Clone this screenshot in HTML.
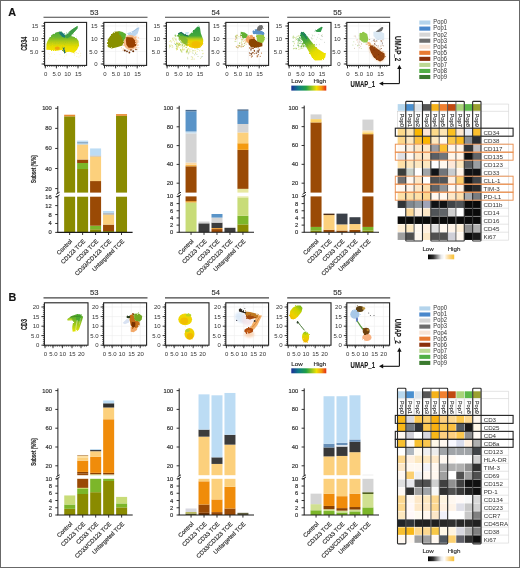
<!DOCTYPE html>
<html><head><meta charset="utf-8"><style>
html,body{margin:0;padding:0;background:#fff;width:520px;height:568px;overflow:hidden}
svg{display:block;font-family:"Liberation Sans", sans-serif;will-change:transform}
text{stroke:#3a3a3a;stroke-width:0.18px}
.ns{stroke:none}
</style></head><body>
<svg width="520" height="568" viewBox="0 0 520 568">
<defs><filter id="soft" x="-20%" y="-20%" width="140%" height="140%"><feGaussianBlur stdDeviation="0.35"/></filter><filter id="rough" x="-10%" y="-10%" width="120%" height="120%"><feTurbulence type="fractalNoise" baseFrequency="0.9" numOctaves="2" seed="4" result="n"/><feDisplacementMap in="SourceGraphic" in2="n" scale="2.2" xChannelSelector="R" yChannelSelector="G" result="d"/><feGaussianBlur in="d" stdDeviation="0.25"/></filter><filter id="soft2" x="-30%" y="-30%" width="160%" height="160%"><feGaussianBlur stdDeviation="0.9"/></filter><linearGradient id="gA1" gradientUnits="userSpaceOnUse" x1="0" y1="31" x2="0" y2="51"><stop offset="0" stop-color="#44a63c"/><stop offset="0.3" stop-color="#6cb630"/><stop offset="0.55" stop-color="#b4cc14"/><stop offset="0.78" stop-color="#e6dc00"/><stop offset="1" stop-color="#f2e200"/></linearGradient><linearGradient id="gA3" gradientUnits="userSpaceOnUse" x1="0" y1="27" x2="0" y2="48"><stop offset="0" stop-color="#2e9a44"/><stop offset="0.42" stop-color="#44a83a"/><stop offset="0.55" stop-color="#a8c820"/><stop offset="0.66" stop-color="#e8d400"/><stop offset="1" stop-color="#f2c400"/></linearGradient><linearGradient id="gA5" gradientUnits="userSpaceOnUse" x1="303" y1="33" x2="318" y2="58"><stop offset="0" stop-color="#249448"/><stop offset="0.3" stop-color="#48a838"/><stop offset="0.55" stop-color="#a8cc20"/><stop offset="0.75" stop-color="#e4dc00"/><stop offset="1" stop-color="#f0e200"/></linearGradient><linearGradient id="gB1" gradientUnits="userSpaceOnUse" x1="0" y1="314" x2="0" y2="332"><stop offset="0" stop-color="#48a430"/><stop offset="0.45" stop-color="#8cc020"/><stop offset="1" stop-color="#e8e600"/></linearGradient><linearGradient id="gB5" gradientUnits="userSpaceOnUse" x1="302" y1="305" x2="290" y2="320"><stop offset="0" stop-color="#5aae24"/><stop offset="0.35" stop-color="#c8d400"/><stop offset="0.7" stop-color="#f0d000"/><stop offset="1" stop-color="#f0b800"/></linearGradient><linearGradient id="gB5b" gradientUnits="userSpaceOnUse" x1="0" y1="331.5" x2="0" y2="342.5"><stop offset="0" stop-color="#78bc20"/><stop offset="0.3" stop-color="#d8d800"/><stop offset="0.7" stop-color="#f0c800"/><stop offset="1" stop-color="#f0b000"/></linearGradient><linearGradient id="rainbow" x1="0" y1="0" x2="1" y2="0"><stop offset="0" stop-color="#1a2f96"/><stop offset="0.2" stop-color="#0f7a88"/><stop offset="0.42" stop-color="#1ea046"/><stop offset="0.6" stop-color="#9cc81e"/><stop offset="0.72" stop-color="#f0e000"/><stop offset="0.86" stop-color="#f59a10"/><stop offset="1" stop-color="#e02a14"/></linearGradient><linearGradient id="lowhigh" x1="0" y1="0" x2="1" y2="0"><stop offset="0" stop-color="#000000"/><stop offset="0.2" stop-color="#303030"/><stop offset="0.5" stop-color="#e8e8e8"/><stop offset="0.62" stop-color="#ffffff"/><stop offset="0.8" stop-color="#fcd890"/><stop offset="1" stop-color="#f8c030"/></linearGradient></defs>
<rect width="520" height="568" fill="#fff"/>
<rect x="0.5" y="0.5" width="519" height="567" fill="none" stroke="#686868" stroke-width="1"/>
<text x="8.3" y="15.6" font-size="10.8" text-anchor="start" fill="#111" font-weight="bold" >A</text>
<text x="8.6" y="301.2" font-size="10.8" text-anchor="start" fill="#111" font-weight="bold" >B</text>
<line x1="43.5" y1="17.2" x2="147.5" y2="17.2" stroke="#444" stroke-width="1.1"/>
<text x="94.2" y="14.6" font-size="8" text-anchor="middle" fill="#333" font-weight="normal" textLength="8.5" lengthAdjust="spacingAndGlyphs" >53</text>
<line x1="165" y1="17.2" x2="269" y2="17.2" stroke="#444" stroke-width="1.1"/>
<text x="215.7" y="14.6" font-size="8" text-anchor="middle" fill="#333" font-weight="normal" textLength="8.5" lengthAdjust="spacingAndGlyphs" >54</text>
<line x1="287.2" y1="17.2" x2="390.2" y2="17.2" stroke="#444" stroke-width="1.1"/>
<text x="337.4" y="14.6" font-size="8" text-anchor="middle" fill="#333" font-weight="normal" textLength="8.5" lengthAdjust="spacingAndGlyphs" >55</text>
<line x1="43.5" y1="297.9" x2="147.5" y2="297.9" stroke="#444" stroke-width="1.1"/>
<text x="94.2" y="295.3" font-size="8" text-anchor="middle" fill="#333" font-weight="normal" textLength="8.5" lengthAdjust="spacingAndGlyphs" >53</text>
<line x1="165" y1="297.9" x2="269" y2="297.9" stroke="#444" stroke-width="1.1"/>
<text x="215.7" y="295.3" font-size="8" text-anchor="middle" fill="#333" font-weight="normal" textLength="8.5" lengthAdjust="spacingAndGlyphs" >54</text>
<line x1="287.2" y1="297.9" x2="390.2" y2="297.9" stroke="#444" stroke-width="1.1"/>
<text x="337.4" y="295.3" font-size="8" text-anchor="middle" fill="#333" font-weight="normal" textLength="8.5" lengthAdjust="spacingAndGlyphs" >55</text>
<rect x="44.6" y="22.4" width="42" height="43" fill="none" stroke="#222" stroke-width="1.1"/>
<line x1="43.1" y1="64" x2="44.6" y2="64" stroke="#222" stroke-width="0.7"/>
<line x1="43.1" y1="61.46" x2="44.6" y2="61.46" stroke="#222" stroke-width="0.7"/>
<line x1="43.1" y1="58.92" x2="44.6" y2="58.92" stroke="#222" stroke-width="0.7"/>
<line x1="43.1" y1="56.38" x2="44.6" y2="56.38" stroke="#222" stroke-width="0.7"/>
<line x1="43.1" y1="53.84" x2="44.6" y2="53.84" stroke="#222" stroke-width="0.7"/>
<line x1="43.1" y1="51.3" x2="44.6" y2="51.3" stroke="#222" stroke-width="0.7"/>
<line x1="43.1" y1="48.76" x2="44.6" y2="48.76" stroke="#222" stroke-width="0.7"/>
<line x1="43.1" y1="46.22" x2="44.6" y2="46.22" stroke="#222" stroke-width="0.7"/>
<line x1="43.1" y1="43.68" x2="44.6" y2="43.68" stroke="#222" stroke-width="0.7"/>
<line x1="43.1" y1="41.14" x2="44.6" y2="41.14" stroke="#222" stroke-width="0.7"/>
<line x1="43.1" y1="38.6" x2="44.6" y2="38.6" stroke="#222" stroke-width="0.7"/>
<line x1="43.1" y1="36.06" x2="44.6" y2="36.06" stroke="#222" stroke-width="0.7"/>
<line x1="43.1" y1="33.52" x2="44.6" y2="33.52" stroke="#222" stroke-width="0.7"/>
<line x1="43.1" y1="30.98" x2="44.6" y2="30.98" stroke="#222" stroke-width="0.7"/>
<line x1="43.1" y1="28.44" x2="44.6" y2="28.44" stroke="#222" stroke-width="0.7"/>
<line x1="43.1" y1="25.9" x2="44.6" y2="25.9" stroke="#222" stroke-width="0.7"/>
<line x1="43.1" y1="23.36" x2="44.6" y2="23.36" stroke="#222" stroke-width="0.7"/>
<line x1="45.3" y1="65.4" x2="45.3" y2="66.9" stroke="#222" stroke-width="0.7"/>
<line x1="47.48" y1="65.4" x2="47.48" y2="66.9" stroke="#222" stroke-width="0.7"/>
<line x1="49.66" y1="65.4" x2="49.66" y2="66.9" stroke="#222" stroke-width="0.7"/>
<line x1="51.84" y1="65.4" x2="51.84" y2="66.9" stroke="#222" stroke-width="0.7"/>
<line x1="54.02" y1="65.4" x2="54.02" y2="66.9" stroke="#222" stroke-width="0.7"/>
<line x1="56.2" y1="65.4" x2="56.2" y2="66.9" stroke="#222" stroke-width="0.7"/>
<line x1="58.38" y1="65.4" x2="58.38" y2="66.9" stroke="#222" stroke-width="0.7"/>
<line x1="60.56" y1="65.4" x2="60.56" y2="66.9" stroke="#222" stroke-width="0.7"/>
<line x1="62.74" y1="65.4" x2="62.74" y2="66.9" stroke="#222" stroke-width="0.7"/>
<line x1="64.92" y1="65.4" x2="64.92" y2="66.9" stroke="#222" stroke-width="0.7"/>
<line x1="67.1" y1="65.4" x2="67.1" y2="66.9" stroke="#222" stroke-width="0.7"/>
<line x1="69.28" y1="65.4" x2="69.28" y2="66.9" stroke="#222" stroke-width="0.7"/>
<line x1="71.46" y1="65.4" x2="71.46" y2="66.9" stroke="#222" stroke-width="0.7"/>
<line x1="73.64" y1="65.4" x2="73.64" y2="66.9" stroke="#222" stroke-width="0.7"/>
<line x1="75.82" y1="65.4" x2="75.82" y2="66.9" stroke="#222" stroke-width="0.7"/>
<line x1="78" y1="65.4" x2="78" y2="66.9" stroke="#222" stroke-width="0.7"/>
<line x1="80.18" y1="65.4" x2="80.18" y2="66.9" stroke="#222" stroke-width="0.7"/>
<line x1="82.36" y1="65.4" x2="82.36" y2="66.9" stroke="#222" stroke-width="0.7"/>
<line x1="84.54" y1="65.4" x2="84.54" y2="66.9" stroke="#222" stroke-width="0.7"/>
<line x1="41.6" y1="26" x2="44.6" y2="26" stroke="#222" stroke-width="0.9"/>
<text x="38.4" y="28.1" font-size="6" text-anchor="end" fill="#333" font-weight="normal" class="ns">15</text>
<line x1="41.6" y1="38.6" x2="44.6" y2="38.6" stroke="#222" stroke-width="0.9"/>
<text x="38.4" y="40.7" font-size="6" text-anchor="end" fill="#333" font-weight="normal" class="ns">10</text>
<line x1="41.6" y1="51.4" x2="44.6" y2="51.4" stroke="#222" stroke-width="0.9"/>
<text x="38.4" y="53.5" font-size="6" text-anchor="end" fill="#333" font-weight="normal" class="ns">5.0</text>
<line x1="41.6" y1="64" x2="44.6" y2="64" stroke="#222" stroke-width="0.9"/>
<line x1="45.3" y1="65.4" x2="45.3" y2="68.4" stroke="#222" stroke-width="0.9"/>
<text x="45.6" y="76.2" font-size="6" text-anchor="middle" fill="#333" font-weight="normal" class="ns">0</text>
<line x1="56.4" y1="65.4" x2="56.4" y2="68.4" stroke="#222" stroke-width="0.9"/>
<text x="56.7" y="76.2" font-size="6" text-anchor="middle" fill="#333" font-weight="normal" class="ns">5.0</text>
<line x1="67.2" y1="65.4" x2="67.2" y2="68.4" stroke="#222" stroke-width="0.9"/>
<text x="67.5" y="76.2" font-size="6" text-anchor="middle" fill="#333" font-weight="normal" class="ns">10</text>
<line x1="78" y1="65.4" x2="78" y2="68.4" stroke="#222" stroke-width="0.9"/>
<text x="78.3" y="76.2" font-size="6" text-anchor="middle" fill="#333" font-weight="normal" class="ns">15</text>
<line x1="103.8" y1="26" x2="146.6" y2="26" stroke="#ececec" stroke-width="0.6"/>
<line x1="103.8" y1="38.6" x2="146.6" y2="38.6" stroke="#ececec" stroke-width="0.6"/>
<line x1="103.8" y1="51.4" x2="146.6" y2="51.4" stroke="#ececec" stroke-width="0.6"/>
<line x1="103.8" y1="64" x2="146.6" y2="64" stroke="#ececec" stroke-width="0.6"/>
<line x1="104.5" y1="22.4" x2="104.5" y2="65.4" stroke="#ececec" stroke-width="0.6"/>
<line x1="115.6" y1="22.4" x2="115.6" y2="65.4" stroke="#ececec" stroke-width="0.6"/>
<line x1="126.4" y1="22.4" x2="126.4" y2="65.4" stroke="#ececec" stroke-width="0.6"/>
<line x1="137.2" y1="22.4" x2="137.2" y2="65.4" stroke="#ececec" stroke-width="0.6"/>
<rect x="103.8" y="22.4" width="42.8" height="43" fill="none" stroke="#222" stroke-width="1.1"/>
<line x1="102.3" y1="64" x2="103.8" y2="64" stroke="#222" stroke-width="0.7"/>
<line x1="102.3" y1="61.46" x2="103.8" y2="61.46" stroke="#222" stroke-width="0.7"/>
<line x1="102.3" y1="58.92" x2="103.8" y2="58.92" stroke="#222" stroke-width="0.7"/>
<line x1="102.3" y1="56.38" x2="103.8" y2="56.38" stroke="#222" stroke-width="0.7"/>
<line x1="102.3" y1="53.84" x2="103.8" y2="53.84" stroke="#222" stroke-width="0.7"/>
<line x1="102.3" y1="51.3" x2="103.8" y2="51.3" stroke="#222" stroke-width="0.7"/>
<line x1="102.3" y1="48.76" x2="103.8" y2="48.76" stroke="#222" stroke-width="0.7"/>
<line x1="102.3" y1="46.22" x2="103.8" y2="46.22" stroke="#222" stroke-width="0.7"/>
<line x1="102.3" y1="43.68" x2="103.8" y2="43.68" stroke="#222" stroke-width="0.7"/>
<line x1="102.3" y1="41.14" x2="103.8" y2="41.14" stroke="#222" stroke-width="0.7"/>
<line x1="102.3" y1="38.6" x2="103.8" y2="38.6" stroke="#222" stroke-width="0.7"/>
<line x1="102.3" y1="36.06" x2="103.8" y2="36.06" stroke="#222" stroke-width="0.7"/>
<line x1="102.3" y1="33.52" x2="103.8" y2="33.52" stroke="#222" stroke-width="0.7"/>
<line x1="102.3" y1="30.98" x2="103.8" y2="30.98" stroke="#222" stroke-width="0.7"/>
<line x1="102.3" y1="28.44" x2="103.8" y2="28.44" stroke="#222" stroke-width="0.7"/>
<line x1="102.3" y1="25.9" x2="103.8" y2="25.9" stroke="#222" stroke-width="0.7"/>
<line x1="102.3" y1="23.36" x2="103.8" y2="23.36" stroke="#222" stroke-width="0.7"/>
<line x1="104.5" y1="65.4" x2="104.5" y2="66.9" stroke="#222" stroke-width="0.7"/>
<line x1="106.68" y1="65.4" x2="106.68" y2="66.9" stroke="#222" stroke-width="0.7"/>
<line x1="108.86" y1="65.4" x2="108.86" y2="66.9" stroke="#222" stroke-width="0.7"/>
<line x1="111.04" y1="65.4" x2="111.04" y2="66.9" stroke="#222" stroke-width="0.7"/>
<line x1="113.22" y1="65.4" x2="113.22" y2="66.9" stroke="#222" stroke-width="0.7"/>
<line x1="115.4" y1="65.4" x2="115.4" y2="66.9" stroke="#222" stroke-width="0.7"/>
<line x1="117.58" y1="65.4" x2="117.58" y2="66.9" stroke="#222" stroke-width="0.7"/>
<line x1="119.76" y1="65.4" x2="119.76" y2="66.9" stroke="#222" stroke-width="0.7"/>
<line x1="121.94" y1="65.4" x2="121.94" y2="66.9" stroke="#222" stroke-width="0.7"/>
<line x1="124.12" y1="65.4" x2="124.12" y2="66.9" stroke="#222" stroke-width="0.7"/>
<line x1="126.3" y1="65.4" x2="126.3" y2="66.9" stroke="#222" stroke-width="0.7"/>
<line x1="128.48" y1="65.4" x2="128.48" y2="66.9" stroke="#222" stroke-width="0.7"/>
<line x1="130.66" y1="65.4" x2="130.66" y2="66.9" stroke="#222" stroke-width="0.7"/>
<line x1="132.84" y1="65.4" x2="132.84" y2="66.9" stroke="#222" stroke-width="0.7"/>
<line x1="135.02" y1="65.4" x2="135.02" y2="66.9" stroke="#222" stroke-width="0.7"/>
<line x1="137.2" y1="65.4" x2="137.2" y2="66.9" stroke="#222" stroke-width="0.7"/>
<line x1="139.38" y1="65.4" x2="139.38" y2="66.9" stroke="#222" stroke-width="0.7"/>
<line x1="141.56" y1="65.4" x2="141.56" y2="66.9" stroke="#222" stroke-width="0.7"/>
<line x1="143.74" y1="65.4" x2="143.74" y2="66.9" stroke="#222" stroke-width="0.7"/>
<line x1="100.8" y1="26" x2="103.8" y2="26" stroke="#222" stroke-width="0.9"/>
<text x="97.6" y="28.1" font-size="6" text-anchor="end" fill="#333" font-weight="normal" class="ns">15</text>
<line x1="100.8" y1="38.6" x2="103.8" y2="38.6" stroke="#222" stroke-width="0.9"/>
<text x="97.6" y="40.7" font-size="6" text-anchor="end" fill="#333" font-weight="normal" class="ns">10</text>
<line x1="100.8" y1="51.4" x2="103.8" y2="51.4" stroke="#222" stroke-width="0.9"/>
<text x="97.6" y="53.5" font-size="6" text-anchor="end" fill="#333" font-weight="normal" class="ns">5.0</text>
<line x1="100.8" y1="64" x2="103.8" y2="64" stroke="#222" stroke-width="0.9"/>
<text x="97.6" y="66.1" font-size="6" text-anchor="end" fill="#333" font-weight="normal" class="ns">0</text>
<line x1="104.5" y1="65.4" x2="104.5" y2="68.4" stroke="#222" stroke-width="0.9"/>
<text x="104.8" y="76.2" font-size="6" text-anchor="middle" fill="#333" font-weight="normal" class="ns">0</text>
<line x1="115.6" y1="65.4" x2="115.6" y2="68.4" stroke="#222" stroke-width="0.9"/>
<text x="115.9" y="76.2" font-size="6" text-anchor="middle" fill="#333" font-weight="normal" class="ns">5.0</text>
<line x1="126.4" y1="65.4" x2="126.4" y2="68.4" stroke="#222" stroke-width="0.9"/>
<text x="126.7" y="76.2" font-size="6" text-anchor="middle" fill="#333" font-weight="normal" class="ns">10</text>
<line x1="137.2" y1="65.4" x2="137.2" y2="68.4" stroke="#222" stroke-width="0.9"/>
<text x="137.5" y="76.2" font-size="6" text-anchor="middle" fill="#333" font-weight="normal" class="ns">15</text>
<rect x="166.4" y="22.4" width="42.6" height="43" fill="none" stroke="#222" stroke-width="1.1"/>
<line x1="164.9" y1="64" x2="166.4" y2="64" stroke="#222" stroke-width="0.7"/>
<line x1="164.9" y1="61.46" x2="166.4" y2="61.46" stroke="#222" stroke-width="0.7"/>
<line x1="164.9" y1="58.92" x2="166.4" y2="58.92" stroke="#222" stroke-width="0.7"/>
<line x1="164.9" y1="56.38" x2="166.4" y2="56.38" stroke="#222" stroke-width="0.7"/>
<line x1="164.9" y1="53.84" x2="166.4" y2="53.84" stroke="#222" stroke-width="0.7"/>
<line x1="164.9" y1="51.3" x2="166.4" y2="51.3" stroke="#222" stroke-width="0.7"/>
<line x1="164.9" y1="48.76" x2="166.4" y2="48.76" stroke="#222" stroke-width="0.7"/>
<line x1="164.9" y1="46.22" x2="166.4" y2="46.22" stroke="#222" stroke-width="0.7"/>
<line x1="164.9" y1="43.68" x2="166.4" y2="43.68" stroke="#222" stroke-width="0.7"/>
<line x1="164.9" y1="41.14" x2="166.4" y2="41.14" stroke="#222" stroke-width="0.7"/>
<line x1="164.9" y1="38.6" x2="166.4" y2="38.6" stroke="#222" stroke-width="0.7"/>
<line x1="164.9" y1="36.06" x2="166.4" y2="36.06" stroke="#222" stroke-width="0.7"/>
<line x1="164.9" y1="33.52" x2="166.4" y2="33.52" stroke="#222" stroke-width="0.7"/>
<line x1="164.9" y1="30.98" x2="166.4" y2="30.98" stroke="#222" stroke-width="0.7"/>
<line x1="164.9" y1="28.44" x2="166.4" y2="28.44" stroke="#222" stroke-width="0.7"/>
<line x1="164.9" y1="25.9" x2="166.4" y2="25.9" stroke="#222" stroke-width="0.7"/>
<line x1="164.9" y1="23.36" x2="166.4" y2="23.36" stroke="#222" stroke-width="0.7"/>
<line x1="167.1" y1="65.4" x2="167.1" y2="66.9" stroke="#222" stroke-width="0.7"/>
<line x1="169.28" y1="65.4" x2="169.28" y2="66.9" stroke="#222" stroke-width="0.7"/>
<line x1="171.46" y1="65.4" x2="171.46" y2="66.9" stroke="#222" stroke-width="0.7"/>
<line x1="173.64" y1="65.4" x2="173.64" y2="66.9" stroke="#222" stroke-width="0.7"/>
<line x1="175.82" y1="65.4" x2="175.82" y2="66.9" stroke="#222" stroke-width="0.7"/>
<line x1="178" y1="65.4" x2="178" y2="66.9" stroke="#222" stroke-width="0.7"/>
<line x1="180.18" y1="65.4" x2="180.18" y2="66.9" stroke="#222" stroke-width="0.7"/>
<line x1="182.36" y1="65.4" x2="182.36" y2="66.9" stroke="#222" stroke-width="0.7"/>
<line x1="184.54" y1="65.4" x2="184.54" y2="66.9" stroke="#222" stroke-width="0.7"/>
<line x1="186.72" y1="65.4" x2="186.72" y2="66.9" stroke="#222" stroke-width="0.7"/>
<line x1="188.9" y1="65.4" x2="188.9" y2="66.9" stroke="#222" stroke-width="0.7"/>
<line x1="191.08" y1="65.4" x2="191.08" y2="66.9" stroke="#222" stroke-width="0.7"/>
<line x1="193.26" y1="65.4" x2="193.26" y2="66.9" stroke="#222" stroke-width="0.7"/>
<line x1="195.44" y1="65.4" x2="195.44" y2="66.9" stroke="#222" stroke-width="0.7"/>
<line x1="197.62" y1="65.4" x2="197.62" y2="66.9" stroke="#222" stroke-width="0.7"/>
<line x1="199.8" y1="65.4" x2="199.8" y2="66.9" stroke="#222" stroke-width="0.7"/>
<line x1="201.98" y1="65.4" x2="201.98" y2="66.9" stroke="#222" stroke-width="0.7"/>
<line x1="204.16" y1="65.4" x2="204.16" y2="66.9" stroke="#222" stroke-width="0.7"/>
<line x1="206.34" y1="65.4" x2="206.34" y2="66.9" stroke="#222" stroke-width="0.7"/>
<line x1="163.4" y1="26" x2="166.4" y2="26" stroke="#222" stroke-width="0.9"/>
<text x="160.2" y="28.1" font-size="6" text-anchor="end" fill="#333" font-weight="normal" class="ns">15</text>
<line x1="163.4" y1="38.6" x2="166.4" y2="38.6" stroke="#222" stroke-width="0.9"/>
<text x="160.2" y="40.7" font-size="6" text-anchor="end" fill="#333" font-weight="normal" class="ns">10</text>
<line x1="163.4" y1="51.4" x2="166.4" y2="51.4" stroke="#222" stroke-width="0.9"/>
<text x="160.2" y="53.5" font-size="6" text-anchor="end" fill="#333" font-weight="normal" class="ns">5.0</text>
<line x1="163.4" y1="64" x2="166.4" y2="64" stroke="#222" stroke-width="0.9"/>
<line x1="167.1" y1="65.4" x2="167.1" y2="68.4" stroke="#222" stroke-width="0.9"/>
<text x="167.4" y="76.2" font-size="6" text-anchor="middle" fill="#333" font-weight="normal" class="ns">0</text>
<line x1="178.2" y1="65.4" x2="178.2" y2="68.4" stroke="#222" stroke-width="0.9"/>
<text x="178.5" y="76.2" font-size="6" text-anchor="middle" fill="#333" font-weight="normal" class="ns">5.0</text>
<line x1="189" y1="65.4" x2="189" y2="68.4" stroke="#222" stroke-width="0.9"/>
<text x="189.3" y="76.2" font-size="6" text-anchor="middle" fill="#333" font-weight="normal" class="ns">10</text>
<line x1="199.8" y1="65.4" x2="199.8" y2="68.4" stroke="#222" stroke-width="0.9"/>
<text x="200.1" y="76.2" font-size="6" text-anchor="middle" fill="#333" font-weight="normal" class="ns">15</text>
<line x1="225.8" y1="26" x2="268.6" y2="26" stroke="#ececec" stroke-width="0.6"/>
<line x1="225.8" y1="38.6" x2="268.6" y2="38.6" stroke="#ececec" stroke-width="0.6"/>
<line x1="225.8" y1="51.4" x2="268.6" y2="51.4" stroke="#ececec" stroke-width="0.6"/>
<line x1="225.8" y1="64" x2="268.6" y2="64" stroke="#ececec" stroke-width="0.6"/>
<line x1="226.5" y1="22.4" x2="226.5" y2="65.4" stroke="#ececec" stroke-width="0.6"/>
<line x1="237.6" y1="22.4" x2="237.6" y2="65.4" stroke="#ececec" stroke-width="0.6"/>
<line x1="248.4" y1="22.4" x2="248.4" y2="65.4" stroke="#ececec" stroke-width="0.6"/>
<line x1="259.2" y1="22.4" x2="259.2" y2="65.4" stroke="#ececec" stroke-width="0.6"/>
<rect x="225.8" y="22.4" width="42.8" height="43" fill="none" stroke="#222" stroke-width="1.1"/>
<line x1="224.3" y1="64" x2="225.8" y2="64" stroke="#222" stroke-width="0.7"/>
<line x1="224.3" y1="61.46" x2="225.8" y2="61.46" stroke="#222" stroke-width="0.7"/>
<line x1="224.3" y1="58.92" x2="225.8" y2="58.92" stroke="#222" stroke-width="0.7"/>
<line x1="224.3" y1="56.38" x2="225.8" y2="56.38" stroke="#222" stroke-width="0.7"/>
<line x1="224.3" y1="53.84" x2="225.8" y2="53.84" stroke="#222" stroke-width="0.7"/>
<line x1="224.3" y1="51.3" x2="225.8" y2="51.3" stroke="#222" stroke-width="0.7"/>
<line x1="224.3" y1="48.76" x2="225.8" y2="48.76" stroke="#222" stroke-width="0.7"/>
<line x1="224.3" y1="46.22" x2="225.8" y2="46.22" stroke="#222" stroke-width="0.7"/>
<line x1="224.3" y1="43.68" x2="225.8" y2="43.68" stroke="#222" stroke-width="0.7"/>
<line x1="224.3" y1="41.14" x2="225.8" y2="41.14" stroke="#222" stroke-width="0.7"/>
<line x1="224.3" y1="38.6" x2="225.8" y2="38.6" stroke="#222" stroke-width="0.7"/>
<line x1="224.3" y1="36.06" x2="225.8" y2="36.06" stroke="#222" stroke-width="0.7"/>
<line x1="224.3" y1="33.52" x2="225.8" y2="33.52" stroke="#222" stroke-width="0.7"/>
<line x1="224.3" y1="30.98" x2="225.8" y2="30.98" stroke="#222" stroke-width="0.7"/>
<line x1="224.3" y1="28.44" x2="225.8" y2="28.44" stroke="#222" stroke-width="0.7"/>
<line x1="224.3" y1="25.9" x2="225.8" y2="25.9" stroke="#222" stroke-width="0.7"/>
<line x1="224.3" y1="23.36" x2="225.8" y2="23.36" stroke="#222" stroke-width="0.7"/>
<line x1="226.5" y1="65.4" x2="226.5" y2="66.9" stroke="#222" stroke-width="0.7"/>
<line x1="228.68" y1="65.4" x2="228.68" y2="66.9" stroke="#222" stroke-width="0.7"/>
<line x1="230.86" y1="65.4" x2="230.86" y2="66.9" stroke="#222" stroke-width="0.7"/>
<line x1="233.04" y1="65.4" x2="233.04" y2="66.9" stroke="#222" stroke-width="0.7"/>
<line x1="235.22" y1="65.4" x2="235.22" y2="66.9" stroke="#222" stroke-width="0.7"/>
<line x1="237.4" y1="65.4" x2="237.4" y2="66.9" stroke="#222" stroke-width="0.7"/>
<line x1="239.58" y1="65.4" x2="239.58" y2="66.9" stroke="#222" stroke-width="0.7"/>
<line x1="241.76" y1="65.4" x2="241.76" y2="66.9" stroke="#222" stroke-width="0.7"/>
<line x1="243.94" y1="65.4" x2="243.94" y2="66.9" stroke="#222" stroke-width="0.7"/>
<line x1="246.12" y1="65.4" x2="246.12" y2="66.9" stroke="#222" stroke-width="0.7"/>
<line x1="248.3" y1="65.4" x2="248.3" y2="66.9" stroke="#222" stroke-width="0.7"/>
<line x1="250.48" y1="65.4" x2="250.48" y2="66.9" stroke="#222" stroke-width="0.7"/>
<line x1="252.66" y1="65.4" x2="252.66" y2="66.9" stroke="#222" stroke-width="0.7"/>
<line x1="254.84" y1="65.4" x2="254.84" y2="66.9" stroke="#222" stroke-width="0.7"/>
<line x1="257.02" y1="65.4" x2="257.02" y2="66.9" stroke="#222" stroke-width="0.7"/>
<line x1="259.2" y1="65.4" x2="259.2" y2="66.9" stroke="#222" stroke-width="0.7"/>
<line x1="261.38" y1="65.4" x2="261.38" y2="66.9" stroke="#222" stroke-width="0.7"/>
<line x1="263.56" y1="65.4" x2="263.56" y2="66.9" stroke="#222" stroke-width="0.7"/>
<line x1="265.74" y1="65.4" x2="265.74" y2="66.9" stroke="#222" stroke-width="0.7"/>
<line x1="222.8" y1="26" x2="225.8" y2="26" stroke="#222" stroke-width="0.9"/>
<text x="219.6" y="28.1" font-size="6" text-anchor="end" fill="#333" font-weight="normal" class="ns">15</text>
<line x1="222.8" y1="38.6" x2="225.8" y2="38.6" stroke="#222" stroke-width="0.9"/>
<text x="219.6" y="40.7" font-size="6" text-anchor="end" fill="#333" font-weight="normal" class="ns">10</text>
<line x1="222.8" y1="51.4" x2="225.8" y2="51.4" stroke="#222" stroke-width="0.9"/>
<text x="219.6" y="53.5" font-size="6" text-anchor="end" fill="#333" font-weight="normal" class="ns">5.0</text>
<line x1="222.8" y1="64" x2="225.8" y2="64" stroke="#222" stroke-width="0.9"/>
<text x="219.6" y="66.1" font-size="6" text-anchor="end" fill="#333" font-weight="normal" class="ns">0</text>
<line x1="226.5" y1="65.4" x2="226.5" y2="68.4" stroke="#222" stroke-width="0.9"/>
<text x="226.8" y="76.2" font-size="6" text-anchor="middle" fill="#333" font-weight="normal" class="ns">0</text>
<line x1="237.6" y1="65.4" x2="237.6" y2="68.4" stroke="#222" stroke-width="0.9"/>
<text x="237.9" y="76.2" font-size="6" text-anchor="middle" fill="#333" font-weight="normal" class="ns">5.0</text>
<line x1="248.4" y1="65.4" x2="248.4" y2="68.4" stroke="#222" stroke-width="0.9"/>
<text x="248.7" y="76.2" font-size="6" text-anchor="middle" fill="#333" font-weight="normal" class="ns">10</text>
<line x1="259.2" y1="65.4" x2="259.2" y2="68.4" stroke="#222" stroke-width="0.9"/>
<text x="259.5" y="76.2" font-size="6" text-anchor="middle" fill="#333" font-weight="normal" class="ns">15</text>
<rect x="288.4" y="22.4" width="42.6" height="43" fill="none" stroke="#222" stroke-width="1.1"/>
<line x1="286.9" y1="64" x2="288.4" y2="64" stroke="#222" stroke-width="0.7"/>
<line x1="286.9" y1="61.46" x2="288.4" y2="61.46" stroke="#222" stroke-width="0.7"/>
<line x1="286.9" y1="58.92" x2="288.4" y2="58.92" stroke="#222" stroke-width="0.7"/>
<line x1="286.9" y1="56.38" x2="288.4" y2="56.38" stroke="#222" stroke-width="0.7"/>
<line x1="286.9" y1="53.84" x2="288.4" y2="53.84" stroke="#222" stroke-width="0.7"/>
<line x1="286.9" y1="51.3" x2="288.4" y2="51.3" stroke="#222" stroke-width="0.7"/>
<line x1="286.9" y1="48.76" x2="288.4" y2="48.76" stroke="#222" stroke-width="0.7"/>
<line x1="286.9" y1="46.22" x2="288.4" y2="46.22" stroke="#222" stroke-width="0.7"/>
<line x1="286.9" y1="43.68" x2="288.4" y2="43.68" stroke="#222" stroke-width="0.7"/>
<line x1="286.9" y1="41.14" x2="288.4" y2="41.14" stroke="#222" stroke-width="0.7"/>
<line x1="286.9" y1="38.6" x2="288.4" y2="38.6" stroke="#222" stroke-width="0.7"/>
<line x1="286.9" y1="36.06" x2="288.4" y2="36.06" stroke="#222" stroke-width="0.7"/>
<line x1="286.9" y1="33.52" x2="288.4" y2="33.52" stroke="#222" stroke-width="0.7"/>
<line x1="286.9" y1="30.98" x2="288.4" y2="30.98" stroke="#222" stroke-width="0.7"/>
<line x1="286.9" y1="28.44" x2="288.4" y2="28.44" stroke="#222" stroke-width="0.7"/>
<line x1="286.9" y1="25.9" x2="288.4" y2="25.9" stroke="#222" stroke-width="0.7"/>
<line x1="286.9" y1="23.36" x2="288.4" y2="23.36" stroke="#222" stroke-width="0.7"/>
<line x1="289.1" y1="65.4" x2="289.1" y2="66.9" stroke="#222" stroke-width="0.7"/>
<line x1="291.28" y1="65.4" x2="291.28" y2="66.9" stroke="#222" stroke-width="0.7"/>
<line x1="293.46" y1="65.4" x2="293.46" y2="66.9" stroke="#222" stroke-width="0.7"/>
<line x1="295.64" y1="65.4" x2="295.64" y2="66.9" stroke="#222" stroke-width="0.7"/>
<line x1="297.82" y1="65.4" x2="297.82" y2="66.9" stroke="#222" stroke-width="0.7"/>
<line x1="300" y1="65.4" x2="300" y2="66.9" stroke="#222" stroke-width="0.7"/>
<line x1="302.18" y1="65.4" x2="302.18" y2="66.9" stroke="#222" stroke-width="0.7"/>
<line x1="304.36" y1="65.4" x2="304.36" y2="66.9" stroke="#222" stroke-width="0.7"/>
<line x1="306.54" y1="65.4" x2="306.54" y2="66.9" stroke="#222" stroke-width="0.7"/>
<line x1="308.72" y1="65.4" x2="308.72" y2="66.9" stroke="#222" stroke-width="0.7"/>
<line x1="310.9" y1="65.4" x2="310.9" y2="66.9" stroke="#222" stroke-width="0.7"/>
<line x1="313.08" y1="65.4" x2="313.08" y2="66.9" stroke="#222" stroke-width="0.7"/>
<line x1="315.26" y1="65.4" x2="315.26" y2="66.9" stroke="#222" stroke-width="0.7"/>
<line x1="317.44" y1="65.4" x2="317.44" y2="66.9" stroke="#222" stroke-width="0.7"/>
<line x1="319.62" y1="65.4" x2="319.62" y2="66.9" stroke="#222" stroke-width="0.7"/>
<line x1="321.8" y1="65.4" x2="321.8" y2="66.9" stroke="#222" stroke-width="0.7"/>
<line x1="323.98" y1="65.4" x2="323.98" y2="66.9" stroke="#222" stroke-width="0.7"/>
<line x1="326.16" y1="65.4" x2="326.16" y2="66.9" stroke="#222" stroke-width="0.7"/>
<line x1="328.34" y1="65.4" x2="328.34" y2="66.9" stroke="#222" stroke-width="0.7"/>
<line x1="285.4" y1="26" x2="288.4" y2="26" stroke="#222" stroke-width="0.9"/>
<text x="282.2" y="28.1" font-size="6" text-anchor="end" fill="#333" font-weight="normal" class="ns">15</text>
<line x1="285.4" y1="38.6" x2="288.4" y2="38.6" stroke="#222" stroke-width="0.9"/>
<text x="282.2" y="40.7" font-size="6" text-anchor="end" fill="#333" font-weight="normal" class="ns">10</text>
<line x1="285.4" y1="51.4" x2="288.4" y2="51.4" stroke="#222" stroke-width="0.9"/>
<text x="282.2" y="53.5" font-size="6" text-anchor="end" fill="#333" font-weight="normal" class="ns">5.0</text>
<line x1="285.4" y1="64" x2="288.4" y2="64" stroke="#222" stroke-width="0.9"/>
<line x1="289.1" y1="65.4" x2="289.1" y2="68.4" stroke="#222" stroke-width="0.9"/>
<text x="289.4" y="76.2" font-size="6" text-anchor="middle" fill="#333" font-weight="normal" class="ns">0</text>
<line x1="300.2" y1="65.4" x2="300.2" y2="68.4" stroke="#222" stroke-width="0.9"/>
<text x="300.5" y="76.2" font-size="6" text-anchor="middle" fill="#333" font-weight="normal" class="ns">5.0</text>
<line x1="311" y1="65.4" x2="311" y2="68.4" stroke="#222" stroke-width="0.9"/>
<text x="311.3" y="76.2" font-size="6" text-anchor="middle" fill="#333" font-weight="normal" class="ns">10</text>
<line x1="321.8" y1="65.4" x2="321.8" y2="68.4" stroke="#222" stroke-width="0.9"/>
<text x="322.1" y="76.2" font-size="6" text-anchor="middle" fill="#333" font-weight="normal" class="ns">15</text>
<line x1="346.8" y1="26" x2="389.6" y2="26" stroke="#ececec" stroke-width="0.6"/>
<line x1="346.8" y1="38.6" x2="389.6" y2="38.6" stroke="#ececec" stroke-width="0.6"/>
<line x1="346.8" y1="51.4" x2="389.6" y2="51.4" stroke="#ececec" stroke-width="0.6"/>
<line x1="346.8" y1="64" x2="389.6" y2="64" stroke="#ececec" stroke-width="0.6"/>
<line x1="347.5" y1="22.4" x2="347.5" y2="65.4" stroke="#ececec" stroke-width="0.6"/>
<line x1="358.6" y1="22.4" x2="358.6" y2="65.4" stroke="#ececec" stroke-width="0.6"/>
<line x1="369.4" y1="22.4" x2="369.4" y2="65.4" stroke="#ececec" stroke-width="0.6"/>
<line x1="380.2" y1="22.4" x2="380.2" y2="65.4" stroke="#ececec" stroke-width="0.6"/>
<rect x="346.8" y="22.4" width="42.8" height="43" fill="none" stroke="#222" stroke-width="1.1"/>
<line x1="345.3" y1="64" x2="346.8" y2="64" stroke="#222" stroke-width="0.7"/>
<line x1="345.3" y1="61.46" x2="346.8" y2="61.46" stroke="#222" stroke-width="0.7"/>
<line x1="345.3" y1="58.92" x2="346.8" y2="58.92" stroke="#222" stroke-width="0.7"/>
<line x1="345.3" y1="56.38" x2="346.8" y2="56.38" stroke="#222" stroke-width="0.7"/>
<line x1="345.3" y1="53.84" x2="346.8" y2="53.84" stroke="#222" stroke-width="0.7"/>
<line x1="345.3" y1="51.3" x2="346.8" y2="51.3" stroke="#222" stroke-width="0.7"/>
<line x1="345.3" y1="48.76" x2="346.8" y2="48.76" stroke="#222" stroke-width="0.7"/>
<line x1="345.3" y1="46.22" x2="346.8" y2="46.22" stroke="#222" stroke-width="0.7"/>
<line x1="345.3" y1="43.68" x2="346.8" y2="43.68" stroke="#222" stroke-width="0.7"/>
<line x1="345.3" y1="41.14" x2="346.8" y2="41.14" stroke="#222" stroke-width="0.7"/>
<line x1="345.3" y1="38.6" x2="346.8" y2="38.6" stroke="#222" stroke-width="0.7"/>
<line x1="345.3" y1="36.06" x2="346.8" y2="36.06" stroke="#222" stroke-width="0.7"/>
<line x1="345.3" y1="33.52" x2="346.8" y2="33.52" stroke="#222" stroke-width="0.7"/>
<line x1="345.3" y1="30.98" x2="346.8" y2="30.98" stroke="#222" stroke-width="0.7"/>
<line x1="345.3" y1="28.44" x2="346.8" y2="28.44" stroke="#222" stroke-width="0.7"/>
<line x1="345.3" y1="25.9" x2="346.8" y2="25.9" stroke="#222" stroke-width="0.7"/>
<line x1="345.3" y1="23.36" x2="346.8" y2="23.36" stroke="#222" stroke-width="0.7"/>
<line x1="347.5" y1="65.4" x2="347.5" y2="66.9" stroke="#222" stroke-width="0.7"/>
<line x1="349.68" y1="65.4" x2="349.68" y2="66.9" stroke="#222" stroke-width="0.7"/>
<line x1="351.86" y1="65.4" x2="351.86" y2="66.9" stroke="#222" stroke-width="0.7"/>
<line x1="354.04" y1="65.4" x2="354.04" y2="66.9" stroke="#222" stroke-width="0.7"/>
<line x1="356.22" y1="65.4" x2="356.22" y2="66.9" stroke="#222" stroke-width="0.7"/>
<line x1="358.4" y1="65.4" x2="358.4" y2="66.9" stroke="#222" stroke-width="0.7"/>
<line x1="360.58" y1="65.4" x2="360.58" y2="66.9" stroke="#222" stroke-width="0.7"/>
<line x1="362.76" y1="65.4" x2="362.76" y2="66.9" stroke="#222" stroke-width="0.7"/>
<line x1="364.94" y1="65.4" x2="364.94" y2="66.9" stroke="#222" stroke-width="0.7"/>
<line x1="367.12" y1="65.4" x2="367.12" y2="66.9" stroke="#222" stroke-width="0.7"/>
<line x1="369.3" y1="65.4" x2="369.3" y2="66.9" stroke="#222" stroke-width="0.7"/>
<line x1="371.48" y1="65.4" x2="371.48" y2="66.9" stroke="#222" stroke-width="0.7"/>
<line x1="373.66" y1="65.4" x2="373.66" y2="66.9" stroke="#222" stroke-width="0.7"/>
<line x1="375.84" y1="65.4" x2="375.84" y2="66.9" stroke="#222" stroke-width="0.7"/>
<line x1="378.02" y1="65.4" x2="378.02" y2="66.9" stroke="#222" stroke-width="0.7"/>
<line x1="380.2" y1="65.4" x2="380.2" y2="66.9" stroke="#222" stroke-width="0.7"/>
<line x1="382.38" y1="65.4" x2="382.38" y2="66.9" stroke="#222" stroke-width="0.7"/>
<line x1="384.56" y1="65.4" x2="384.56" y2="66.9" stroke="#222" stroke-width="0.7"/>
<line x1="386.74" y1="65.4" x2="386.74" y2="66.9" stroke="#222" stroke-width="0.7"/>
<line x1="343.8" y1="26" x2="346.8" y2="26" stroke="#222" stroke-width="0.9"/>
<text x="340.6" y="28.1" font-size="6" text-anchor="end" fill="#333" font-weight="normal" class="ns">15</text>
<line x1="343.8" y1="38.6" x2="346.8" y2="38.6" stroke="#222" stroke-width="0.9"/>
<text x="340.6" y="40.7" font-size="6" text-anchor="end" fill="#333" font-weight="normal" class="ns">10</text>
<line x1="343.8" y1="51.4" x2="346.8" y2="51.4" stroke="#222" stroke-width="0.9"/>
<text x="340.6" y="53.5" font-size="6" text-anchor="end" fill="#333" font-weight="normal" class="ns">5.0</text>
<line x1="343.8" y1="64" x2="346.8" y2="64" stroke="#222" stroke-width="0.9"/>
<text x="340.6" y="66.1" font-size="6" text-anchor="end" fill="#333" font-weight="normal" class="ns">0</text>
<line x1="347.5" y1="65.4" x2="347.5" y2="68.4" stroke="#222" stroke-width="0.9"/>
<text x="347.8" y="76.2" font-size="6" text-anchor="middle" fill="#333" font-weight="normal" class="ns">0</text>
<line x1="358.6" y1="65.4" x2="358.6" y2="68.4" stroke="#222" stroke-width="0.9"/>
<text x="358.9" y="76.2" font-size="6" text-anchor="middle" fill="#333" font-weight="normal" class="ns">5.0</text>
<line x1="369.4" y1="65.4" x2="369.4" y2="68.4" stroke="#222" stroke-width="0.9"/>
<text x="369.7" y="76.2" font-size="6" text-anchor="middle" fill="#333" font-weight="normal" class="ns">10</text>
<line x1="380.2" y1="65.4" x2="380.2" y2="68.4" stroke="#222" stroke-width="0.9"/>
<text x="380.5" y="76.2" font-size="6" text-anchor="middle" fill="#333" font-weight="normal" class="ns">15</text>
<circle cx="57.04" cy="49.81" r="0.45" fill="#f4e890" opacity="0.6"/>
<circle cx="49.25" cy="54.43" r="0.45" fill="#f8e0a0" opacity="0.6"/>
<circle cx="65.07" cy="58.92" r="0.45" fill="#d8ecf4" opacity="0.6"/>
<circle cx="48.16" cy="53.2" r="0.45" fill="#f4e890" opacity="0.6"/>
<circle cx="54.46" cy="54.61" r="0.45" fill="#f4e890" opacity="0.6"/>
<circle cx="72.63" cy="49.49" r="0.45" fill="#d8ecf4" opacity="0.6"/>
<circle cx="66.55" cy="55" r="0.45" fill="#f4e890" opacity="0.6"/>
<circle cx="64.89" cy="52.76" r="0.45" fill="#d8ecf4" opacity="0.6"/>
<circle cx="48.44" cy="58.3" r="0.45" fill="#f8e0a0" opacity="0.6"/>
<circle cx="59.99" cy="54.49" r="0.45" fill="#f8e0a0" opacity="0.6"/>
<circle cx="64.37" cy="56.18" r="0.45" fill="#f4e890" opacity="0.6"/>
<circle cx="65.03" cy="55.67" r="0.45" fill="#f8e0a0" opacity="0.6"/>
<circle cx="50.02" cy="56.55" r="0.45" fill="#f4e890" opacity="0.6"/>
<circle cx="66.19" cy="53.96" r="0.45" fill="#e8f0c0" opacity="0.6"/>
<circle cx="71.09" cy="53.59" r="0.45" fill="#e8f0c0" opacity="0.6"/>
<circle cx="58.21" cy="50.98" r="0.45" fill="#d8ecf4" opacity="0.6"/>
<circle cx="68.67" cy="50.93" r="0.45" fill="#f8e0a0" opacity="0.6"/>
<circle cx="63.28" cy="58.5" r="0.45" fill="#e8f0c0" opacity="0.6"/>
<circle cx="55.93" cy="59.76" r="0.45" fill="#f4e890" opacity="0.6"/>
<circle cx="62.87" cy="49.98" r="0.45" fill="#f8e0a0" opacity="0.6"/>
<circle cx="51.71" cy="53.87" r="0.45" fill="#f4e890" opacity="0.6"/>
<circle cx="76.82" cy="48.93" r="0.45" fill="#f8e0a0" opacity="0.6"/>
<circle cx="76.38" cy="52.45" r="0.5" fill="#f4e890" opacity="0.7"/>
<circle cx="78.06" cy="53.19" r="0.5" fill="#f0e8a0" opacity="0.7"/>
<circle cx="80.61" cy="53.32" r="0.5" fill="#f0e8a0" opacity="0.7"/>
<circle cx="74.42" cy="54.91" r="0.5" fill="#f4e890" opacity="0.7"/>
<circle cx="75.99" cy="52.7" r="0.5" fill="#f4e890" opacity="0.7"/>
<circle cx="74.16" cy="53.23" r="0.5" fill="#f0e8a0" opacity="0.7"/>
<circle cx="78.28" cy="53.46" r="0.5" fill="#f0e8a0" opacity="0.7"/>
<circle cx="79.38" cy="50.91" r="0.5" fill="#f0e8a0" opacity="0.7"/>
<circle cx="76.79" cy="56.42" r="0.5" fill="#f4e890" opacity="0.7"/>
<circle cx="74.56" cy="53.14" r="0.5" fill="#f4e890" opacity="0.7"/>
<circle cx="80.18" cy="55.73" r="0.5" fill="#f4e890" opacity="0.7"/>
<circle cx="78.94" cy="56.91" r="0.5" fill="#f4e890" opacity="0.7"/>
<polygon points="46.3,49.7 46.5,44 47.4,41.3 49.5,37.5 51.6,34.9 55.9,32.4 60.1,31.6 62.5,32.8 64.8,35.3 67,33.2 72,29.5 77.7,25.8 77.5,28.5 74,32.5 71,36 76,37.5 78.6,41 79.1,45.5 77,49.7 73.8,52.9 69.6,51.8 66.8,52 65.2,53.3 63.8,53 62.4,49.8 56.9,50.8 50.6,50" fill="url(#gA1)" filter="url(#rough)"/>
<polygon points="64.6,36.2 68,33.3 72,29.6 77.5,25.9 77.4,28.4 73.5,32.5 70.6,36.3 67,38.5" fill="#3c9c48" opacity="0.85" filter="url(#soft)"/>
<polygon points="59.6,31.6 62.3,32.5 65.2,35.3 64.8,38 61.7,36.2 59.2,33.5" fill="#1c7c76" filter="url(#rough)"/>
<polyline points="65.8,34.6 69,32.5" fill="none" stroke="#d8f0f0" stroke-width="0.7" stroke-linecap="round" stroke-linejoin="round" />
<ellipse cx="57.3" cy="48.2" rx="2.6" ry="1.8" fill="#f0a010" opacity="0.9" filter="url(#soft)"/>
<polygon points="62.6,47.2 64.1,47 65.6,53 64.2,53.4" fill="#1f6e6e" filter="url(#rough)"/>
<circle cx="138.24" cy="37.41" r="0.55" fill="#f8c090" opacity="0.8"/>
<circle cx="123.72" cy="45.54" r="0.55" fill="#f6b070" opacity="0.8"/>
<circle cx="129.73" cy="44.43" r="0.55" fill="#f0a060" opacity="0.8"/>
<circle cx="126.07" cy="37.33" r="0.55" fill="#f0a060" opacity="0.8"/>
<circle cx="131.98" cy="40.1" r="0.55" fill="#f8c090" opacity="0.8"/>
<circle cx="133.43" cy="43.25" r="0.55" fill="#f6b070" opacity="0.8"/>
<circle cx="129.22" cy="48.94" r="0.55" fill="#fbd0a8" opacity="0.8"/>
<circle cx="128.17" cy="41.31" r="0.55" fill="#fbd0a8" opacity="0.8"/>
<circle cx="132.42" cy="36" r="0.55" fill="#f6b070" opacity="0.8"/>
<circle cx="138.72" cy="42.05" r="0.55" fill="#f6b070" opacity="0.8"/>
<circle cx="127.12" cy="35.84" r="0.55" fill="#f6b070" opacity="0.8"/>
<circle cx="131.2" cy="43.59" r="0.55" fill="#f0a060" opacity="0.8"/>
<circle cx="132.05" cy="36.13" r="0.55" fill="#f8c090" opacity="0.8"/>
<circle cx="132.05" cy="37.38" r="0.55" fill="#f0a060" opacity="0.8"/>
<circle cx="138.2" cy="44.64" r="0.55" fill="#fbd0a8" opacity="0.8"/>
<circle cx="123.21" cy="48.58" r="0.55" fill="#fbd0a8" opacity="0.8"/>
<circle cx="129.65" cy="39.99" r="0.55" fill="#f8c090" opacity="0.8"/>
<circle cx="122.84" cy="40.48" r="0.55" fill="#f0a060" opacity="0.8"/>
<circle cx="129.62" cy="46.07" r="0.55" fill="#f6b070" opacity="0.8"/>
<circle cx="124.69" cy="50.23" r="0.55" fill="#f0a060" opacity="0.8"/>
<circle cx="123.64" cy="43.69" r="0.55" fill="#f6b070" opacity="0.8"/>
<circle cx="134.65" cy="39.77" r="0.55" fill="#f6b070" opacity="0.8"/>
<circle cx="133.53" cy="39.18" r="0.55" fill="#f0a060" opacity="0.8"/>
<circle cx="137.35" cy="40.69" r="0.55" fill="#f8c090" opacity="0.8"/>
<circle cx="130.59" cy="47.46" r="0.55" fill="#f0a060" opacity="0.8"/>
<circle cx="132.46" cy="44.81" r="0.55" fill="#f8c090" opacity="0.8"/>
<circle cx="135.51" cy="48.09" r="0.55" fill="#f8c090" opacity="0.8"/>
<circle cx="124.6" cy="42.88" r="0.55" fill="#f6b070" opacity="0.8"/>
<circle cx="138.81" cy="47.64" r="0.55" fill="#fbd0a8" opacity="0.8"/>
<circle cx="125.67" cy="46.08" r="0.55" fill="#f0a060" opacity="0.8"/>
<circle cx="129.05" cy="49.99" r="0.55" fill="#f0a060" opacity="0.8"/>
<circle cx="138.19" cy="40.83" r="0.55" fill="#f8c090" opacity="0.8"/>
<circle cx="122.84" cy="42.52" r="0.55" fill="#f0a060" opacity="0.8"/>
<circle cx="124.68" cy="44.99" r="0.55" fill="#f6b070" opacity="0.8"/>
<circle cx="129.63" cy="45.45" r="0.55" fill="#f6b070" opacity="0.8"/>
<circle cx="136.02" cy="36.92" r="0.55" fill="#fbd0a8" opacity="0.8"/>
<circle cx="135.08" cy="47" r="0.55" fill="#fbd0a8" opacity="0.8"/>
<circle cx="137" cy="41.94" r="0.55" fill="#f0a060" opacity="0.8"/>
<circle cx="122.56" cy="50.14" r="0.55" fill="#fbd0a8" opacity="0.8"/>
<circle cx="129.34" cy="46.89" r="0.55" fill="#f6b070" opacity="0.8"/>
<circle cx="134.05" cy="37.72" r="0.55" fill="#f8c090" opacity="0.8"/>
<circle cx="121.5" cy="44.45" r="0.55" fill="#fbd0a8" opacity="0.8"/>
<circle cx="135.52" cy="37.34" r="0.55" fill="#fbd0a8" opacity="0.8"/>
<circle cx="132.83" cy="40.61" r="0.55" fill="#f8c090" opacity="0.8"/>
<circle cx="121.39" cy="47.79" r="0.55" fill="#f6b070" opacity="0.8"/>
<circle cx="130.48" cy="49.94" r="0.55" fill="#fbd0a8" opacity="0.8"/>
<circle cx="138.76" cy="38.12" r="0.55" fill="#f8c090" opacity="0.8"/>
<circle cx="121.5" cy="38.4" r="0.55" fill="#f8c090" opacity="0.8"/>
<circle cx="134.75" cy="40.22" r="0.55" fill="#fbd0a8" opacity="0.8"/>
<circle cx="136.02" cy="35.97" r="0.55" fill="#f0a060" opacity="0.8"/>
<circle cx="137.16" cy="45.6" r="0.55" fill="#fbd0a8" opacity="0.8"/>
<circle cx="135.89" cy="49.05" r="0.55" fill="#f8c090" opacity="0.8"/>
<circle cx="130.57" cy="43.38" r="0.55" fill="#f6b070" opacity="0.8"/>
<circle cx="136.71" cy="47.42" r="0.55" fill="#f6b070" opacity="0.8"/>
<circle cx="134.97" cy="37.4" r="0.55" fill="#f8c090" opacity="0.8"/>
<circle cx="129.52" cy="46.6" r="0.55" fill="#f6b070" opacity="0.8"/>
<circle cx="126.87" cy="43.29" r="0.55" fill="#fbd0a8" opacity="0.8"/>
<circle cx="135.12" cy="36.7" r="0.55" fill="#f6b070" opacity="0.8"/>
<circle cx="125.47" cy="39.43" r="0.55" fill="#f6b070" opacity="0.8"/>
<circle cx="130.14" cy="43.99" r="0.55" fill="#f6b070" opacity="0.8"/>
<circle cx="128.98" cy="44.8" r="0.55" fill="#f8c090" opacity="0.8"/>
<circle cx="133.47" cy="42.24" r="0.55" fill="#fbd0a8" opacity="0.8"/>
<circle cx="130.14" cy="38.96" r="0.55" fill="#f0a060" opacity="0.8"/>
<circle cx="137.61" cy="49.28" r="0.55" fill="#f8c090" opacity="0.8"/>
<circle cx="136.12" cy="37.19" r="0.55" fill="#f6b070" opacity="0.8"/>
<circle cx="128.06" cy="40.06" r="0.55" fill="#f8c090" opacity="0.8"/>
<circle cx="128.71" cy="38.4" r="0.55" fill="#f0a060" opacity="0.8"/>
<circle cx="135.11" cy="49.35" r="0.55" fill="#f8c090" opacity="0.8"/>
<circle cx="137.91" cy="45.3" r="0.55" fill="#f0a060" opacity="0.8"/>
<circle cx="123.57" cy="49.13" r="0.55" fill="#fbd0a8" opacity="0.8"/>
<polygon points="127,33.2 133.2,30.9 137.1,27.8 139.6,27.6 137.8,33.2 134.8,36.3 129.4,36.3" fill="#bcd6ee" filter="url(#rough)"/>
<polyline points="133,31.5 138.5,28" fill="none" stroke="#90b4d8" stroke-width="0.6" stroke-linecap="round" stroke-linejoin="round" />
<ellipse cx="130.5" cy="42.5" rx="7" ry="7.5" fill="#f6b27a" opacity="0.85" filter="url(#soft)"/>
<polygon points="107.1,43.2 107.8,39.5 110.2,36.3 114,31.7 119.4,31.3 122.5,32.5 124,39.4 122.5,45.5 117.8,47 111.7,48.6 107.8,47" fill="#889000" filter="url(#rough)"/>
<polygon points="118,31.5 122,31.8 126,34 125.5,38 123.2,41 121,36" fill="#5cb030" filter="url(#rough)"/>
<polygon points="126.3,37.1 132.5,37.5 135.5,40.9 136.3,44.8 133.2,47.8 128.6,47.8 126.3,44.8 125.9,40.2" fill="#9a4000" filter="url(#rough)"/>
<ellipse cx="124.8" cy="50.5" rx="1.1" ry="1.1" fill="#6a2a00" />
<ellipse cx="127" cy="51.3" rx="0.9" ry="0.9" fill="#6a2a00" />
<ellipse cx="129.4" cy="52.5" rx="0.9" ry="0.9" fill="#6a2a00" />
<ellipse cx="133.2" cy="51.3" rx="1" ry="1" fill="#6a2a00" />
<ellipse cx="131" cy="50" rx="0.8" ry="0.8" fill="#6a2a00" />
<ellipse cx="136" cy="49.5" rx="0.7" ry="0.7" fill="#6a2a00" />
<circle cx="172.18" cy="47.33" r="0.5" fill="#c8dc80" opacity="0.75"/>
<circle cx="180.89" cy="39.43" r="0.5" fill="#d0e070" opacity="0.75"/>
<circle cx="171.42" cy="42.12" r="0.5" fill="#c8dc80" opacity="0.75"/>
<circle cx="173.74" cy="39.76" r="0.5" fill="#f0e890" opacity="0.75"/>
<circle cx="170.51" cy="41.46" r="0.5" fill="#f0e890" opacity="0.75"/>
<circle cx="176.56" cy="42.2" r="0.5" fill="#e8e060" opacity="0.75"/>
<circle cx="174.33" cy="42.97" r="0.5" fill="#f0e890" opacity="0.75"/>
<circle cx="176.01" cy="38.44" r="0.5" fill="#d0e070" opacity="0.75"/>
<circle cx="182.03" cy="38.85" r="0.5" fill="#f0e890" opacity="0.75"/>
<circle cx="172.86" cy="46.86" r="0.5" fill="#d0e070" opacity="0.75"/>
<circle cx="172.84" cy="39.1" r="0.5" fill="#c8dc80" opacity="0.75"/>
<circle cx="180.43" cy="44.56" r="0.5" fill="#f0e890" opacity="0.75"/>
<circle cx="174.62" cy="43.17" r="0.5" fill="#c8dc80" opacity="0.75"/>
<circle cx="178.48" cy="38.69" r="0.5" fill="#e8e060" opacity="0.75"/>
<circle cx="179.77" cy="39.63" r="0.5" fill="#e8e060" opacity="0.75"/>
<circle cx="172.82" cy="37.97" r="0.5" fill="#e8e060" opacity="0.75"/>
<circle cx="179.8" cy="38.64" r="0.5" fill="#d0e070" opacity="0.75"/>
<circle cx="170.17" cy="46.43" r="0.5" fill="#c8dc80" opacity="0.75"/>
<circle cx="169.45" cy="47.74" r="0.5" fill="#c8dc80" opacity="0.75"/>
<circle cx="181.44" cy="40.48" r="0.5" fill="#d0e070" opacity="0.75"/>
<circle cx="169.87" cy="44.9" r="0.5" fill="#e8e060" opacity="0.75"/>
<circle cx="182" cy="40.42" r="0.5" fill="#d0e070" opacity="0.75"/>
<circle cx="171.94" cy="40.92" r="0.5" fill="#f0e890" opacity="0.75"/>
<circle cx="176.26" cy="39.86" r="0.5" fill="#c8dc80" opacity="0.75"/>
<circle cx="175.85" cy="39.58" r="0.5" fill="#f0e890" opacity="0.75"/>
<circle cx="179.83" cy="47.74" r="0.5" fill="#e8e060" opacity="0.75"/>
<circle cx="169.5" cy="45.13" r="0.5" fill="#d0e070" opacity="0.75"/>
<circle cx="176.04" cy="40.26" r="0.5" fill="#c8dc80" opacity="0.75"/>
<circle cx="170.69" cy="45.99" r="0.5" fill="#c8dc80" opacity="0.75"/>
<circle cx="177.9" cy="43.26" r="0.5" fill="#c8dc80" opacity="0.75"/>
<circle cx="182.01" cy="40.88" r="0.5" fill="#d0e070" opacity="0.75"/>
<circle cx="182.17" cy="41.23" r="0.5" fill="#d0e070" opacity="0.75"/>
<circle cx="174.6" cy="41.28" r="0.5" fill="#e8e060" opacity="0.75"/>
<circle cx="180.26" cy="37.94" r="0.5" fill="#f0e890" opacity="0.75"/>
<circle cx="174.94" cy="38.35" r="0.5" fill="#c8dc80" opacity="0.75"/>
<circle cx="180.7" cy="44.51" r="0.5" fill="#f0e890" opacity="0.75"/>
<circle cx="177.14" cy="44.73" r="0.5" fill="#e8e060" opacity="0.75"/>
<circle cx="175.32" cy="39.38" r="0.5" fill="#c8dc80" opacity="0.75"/>
<circle cx="169.35" cy="41.44" r="0.5" fill="#f0e890" opacity="0.75"/>
<circle cx="182.04" cy="43.27" r="0.5" fill="#d0e070" opacity="0.75"/>
<circle cx="169.75" cy="46.62" r="0.5" fill="#d0e070" opacity="0.75"/>
<circle cx="173.97" cy="37.81" r="0.5" fill="#c8dc80" opacity="0.75"/>
<circle cx="170.4" cy="40.59" r="0.5" fill="#d0e070" opacity="0.75"/>
<circle cx="172.55" cy="45.56" r="0.5" fill="#e8e060" opacity="0.75"/>
<circle cx="172.76" cy="38.7" r="0.5" fill="#c8dc80" opacity="0.75"/>
<circle cx="176.99" cy="41.74" r="0.5" fill="#f0e890" opacity="0.75"/>
<circle cx="173.29" cy="40.13" r="0.5" fill="#d0e070" opacity="0.75"/>
<circle cx="177.91" cy="44.96" r="0.5" fill="#c8dc80" opacity="0.75"/>
<circle cx="179.31" cy="45.01" r="0.5" fill="#c8dc80" opacity="0.75"/>
<circle cx="171.26" cy="45.04" r="0.5" fill="#d0e070" opacity="0.75"/>
<circle cx="175.44" cy="44.19" r="0.55" fill="#40a050" opacity="0.8"/>
<circle cx="182.34" cy="43.93" r="0.55" fill="#80c040" opacity="0.8"/>
<circle cx="184.1" cy="43.28" r="0.55" fill="#60b040" opacity="0.8"/>
<circle cx="183.26" cy="41.42" r="0.55" fill="#80c040" opacity="0.8"/>
<circle cx="175.85" cy="35.46" r="0.55" fill="#a8d050" opacity="0.8"/>
<circle cx="184.6" cy="39.14" r="0.55" fill="#40a050" opacity="0.8"/>
<circle cx="180.59" cy="41.91" r="0.55" fill="#80c040" opacity="0.8"/>
<circle cx="179.89" cy="35.04" r="0.55" fill="#60b040" opacity="0.8"/>
<circle cx="182.48" cy="40.53" r="0.55" fill="#60b040" opacity="0.8"/>
<circle cx="181.59" cy="35.73" r="0.55" fill="#40a050" opacity="0.8"/>
<circle cx="177.52" cy="35.82" r="0.55" fill="#a8d050" opacity="0.8"/>
<circle cx="177.35" cy="43.32" r="0.55" fill="#80c040" opacity="0.8"/>
<circle cx="182.4" cy="45.73" r="0.55" fill="#40a050" opacity="0.8"/>
<circle cx="183.46" cy="35.84" r="0.55" fill="#a8d050" opacity="0.8"/>
<circle cx="182.67" cy="41.79" r="0.55" fill="#80c040" opacity="0.8"/>
<circle cx="175.77" cy="36.62" r="0.55" fill="#a8d050" opacity="0.8"/>
<circle cx="181.52" cy="42.62" r="0.55" fill="#80c040" opacity="0.8"/>
<circle cx="175.12" cy="35.67" r="0.55" fill="#a8d050" opacity="0.8"/>
<circle cx="184.73" cy="36.09" r="0.55" fill="#80c040" opacity="0.8"/>
<circle cx="181.76" cy="38.2" r="0.55" fill="#a8d050" opacity="0.8"/>
<circle cx="179.65" cy="40.13" r="0.55" fill="#60b040" opacity="0.8"/>
<circle cx="184.93" cy="41.04" r="0.55" fill="#a8d050" opacity="0.8"/>
<circle cx="184.78" cy="45.3" r="0.55" fill="#60b040" opacity="0.8"/>
<circle cx="177.9" cy="35.84" r="0.55" fill="#40a050" opacity="0.8"/>
<circle cx="184.94" cy="39.26" r="0.55" fill="#80c040" opacity="0.8"/>
<circle cx="175.75" cy="35.99" r="0.55" fill="#a8d050" opacity="0.8"/>
<circle cx="184.53" cy="36.46" r="0.55" fill="#a8d050" opacity="0.8"/>
<circle cx="183.87" cy="42.74" r="0.55" fill="#80c040" opacity="0.8"/>
<circle cx="179.98" cy="44.64" r="0.55" fill="#40a050" opacity="0.8"/>
<circle cx="175.25" cy="35.04" r="0.55" fill="#40a050" opacity="0.8"/>
<circle cx="181.82" cy="39.46" r="0.55" fill="#80c040" opacity="0.8"/>
<circle cx="179.16" cy="39.14" r="0.55" fill="#60b040" opacity="0.8"/>
<circle cx="183.4" cy="35.02" r="0.55" fill="#a8d050" opacity="0.8"/>
<circle cx="183.39" cy="36.32" r="0.55" fill="#80c040" opacity="0.8"/>
<circle cx="182.13" cy="44.92" r="0.55" fill="#a8d050" opacity="0.8"/>
<circle cx="177.53" cy="35.71" r="0.55" fill="#40a050" opacity="0.8"/>
<circle cx="184.99" cy="41.48" r="0.55" fill="#a8d050" opacity="0.8"/>
<circle cx="184.25" cy="43.31" r="0.55" fill="#60b040" opacity="0.8"/>
<circle cx="177.81" cy="35.57" r="0.55" fill="#a8d050" opacity="0.8"/>
<circle cx="181.35" cy="36.64" r="0.55" fill="#a8d050" opacity="0.8"/>
<circle cx="179.36" cy="38.47" r="0.55" fill="#a8d050" opacity="0.8"/>
<circle cx="182.85" cy="39.71" r="0.55" fill="#60b040" opacity="0.8"/>
<circle cx="183.12" cy="41.94" r="0.55" fill="#80c040" opacity="0.8"/>
<circle cx="182.2" cy="35.54" r="0.55" fill="#40a050" opacity="0.8"/>
<circle cx="179.51" cy="43.28" r="0.55" fill="#a8d050" opacity="0.8"/>
<circle cx="194.45" cy="58.93" r="0.5" fill="#e8e060" opacity="0.75"/>
<circle cx="189.1" cy="52.86" r="0.5" fill="#a8c070" opacity="0.75"/>
<circle cx="191.26" cy="56.82" r="0.5" fill="#a8c070" opacity="0.75"/>
<circle cx="193.11" cy="50.71" r="0.5" fill="#90b080" opacity="0.75"/>
<circle cx="195.67" cy="52.61" r="0.5" fill="#e8e060" opacity="0.75"/>
<circle cx="197.13" cy="48.72" r="0.5" fill="#90b080" opacity="0.75"/>
<circle cx="195.56" cy="53.33" r="0.5" fill="#a8c070" opacity="0.75"/>
<circle cx="203.14" cy="53.29" r="0.5" fill="#e8e060" opacity="0.75"/>
<circle cx="195.51" cy="50.78" r="0.5" fill="#e8e060" opacity="0.75"/>
<circle cx="192.01" cy="48.91" r="0.5" fill="#e8e060" opacity="0.75"/>
<circle cx="192.46" cy="57.67" r="0.5" fill="#e8e060" opacity="0.75"/>
<circle cx="201.28" cy="56.95" r="0.5" fill="#90b080" opacity="0.75"/>
<circle cx="192.71" cy="56.9" r="0.5" fill="#e8e060" opacity="0.75"/>
<circle cx="192.61" cy="51.93" r="0.5" fill="#c8dc70" opacity="0.75"/>
<circle cx="194.67" cy="54.81" r="0.5" fill="#a8c070" opacity="0.75"/>
<circle cx="188.34" cy="53.94" r="0.5" fill="#e8e060" opacity="0.75"/>
<circle cx="187.77" cy="58.74" r="0.5" fill="#90b080" opacity="0.75"/>
<circle cx="193" cy="53.24" r="0.5" fill="#a8c070" opacity="0.75"/>
<circle cx="200.63" cy="58.45" r="0.5" fill="#c8dc70" opacity="0.75"/>
<circle cx="188.36" cy="52.99" r="0.5" fill="#90b080" opacity="0.75"/>
<circle cx="202.66" cy="53.78" r="0.5" fill="#c8dc70" opacity="0.75"/>
<circle cx="192.86" cy="59.11" r="0.5" fill="#90b080" opacity="0.75"/>
<circle cx="202.73" cy="50.83" r="0.5" fill="#c8dc70" opacity="0.75"/>
<circle cx="190" cy="49.66" r="0.5" fill="#c8dc70" opacity="0.75"/>
<circle cx="202.21" cy="56.61" r="0.5" fill="#90b080" opacity="0.75"/>
<circle cx="187.65" cy="57.28" r="0.5" fill="#c8dc70" opacity="0.75"/>
<circle cx="199.5" cy="50.64" r="0.5" fill="#c8dc70" opacity="0.75"/>
<circle cx="197.17" cy="51.51" r="0.5" fill="#e8e060" opacity="0.75"/>
<circle cx="196.85" cy="54.24" r="0.5" fill="#90b080" opacity="0.75"/>
<circle cx="198.08" cy="49.17" r="0.5" fill="#c8dc70" opacity="0.75"/>
<circle cx="191.31" cy="59.31" r="0.5" fill="#e8e060" opacity="0.75"/>
<circle cx="192.8" cy="50.53" r="0.5" fill="#c8dc70" opacity="0.75"/>
<circle cx="186.38" cy="51.48" r="0.5" fill="#90b080" opacity="0.75"/>
<circle cx="190.94" cy="51.66" r="0.5" fill="#e8e060" opacity="0.75"/>
<circle cx="194.28" cy="50.66" r="0.5" fill="#e8e060" opacity="0.75"/>
<circle cx="186.7" cy="52.82" r="0.5" fill="#a8c070" opacity="0.75"/>
<circle cx="187.14" cy="50.17" r="0.5" fill="#90b080" opacity="0.75"/>
<circle cx="187.58" cy="50.58" r="0.5" fill="#90b080" opacity="0.75"/>
<circle cx="201.93" cy="50.57" r="0.5" fill="#c8dc70" opacity="0.75"/>
<circle cx="198.03" cy="56.56" r="0.5" fill="#a8c070" opacity="0.75"/>
<polygon points="178.5,33.2 181.2,32.1 184.7,34.8 188.5,35.5 192.4,31.7 196.2,27.8 198.9,25.5 200.1,28.6 200.8,33.2 203.2,39.4 203.2,44 200.1,47.8 194.7,48.6 189.3,47.1 186.2,45.5 182.4,42.5 179.3,38.6 177.8,35.5" fill="url(#gA3)" filter="url(#rough)"/>
<ellipse cx="196" cy="44" rx="4.5" ry="3" fill="#f2b800" opacity="0.75" filter="url(#soft)"/>
<polygon points="178,35.5 183.5,36.2 187.8,39.5 187.2,46.2 182.4,42.5 179.3,38.6" fill="#78b434" opacity="0.85" filter="url(#soft)"/>
<polyline points="178.6,33.4 181.2,32.4 184.6,35 188,36" fill="none" stroke="#1a6a60" stroke-width="1.1" stroke-linecap="round" stroke-linejoin="round" />
<ellipse cx="187" cy="33.4" rx="2.2" ry="1.3" fill="#c8e4f4" filter="url(#rough)"/>
<circle cx="185.56" cy="44.78" r="0.55" fill="#e8dc30" opacity="0.85"/>
<circle cx="186.35" cy="47.54" r="0.55" fill="#c0d040" opacity="0.85"/>
<circle cx="182.94" cy="44.8" r="0.55" fill="#c0d040" opacity="0.85"/>
<circle cx="179.23" cy="44.99" r="0.55" fill="#e8dc30" opacity="0.85"/>
<circle cx="177.53" cy="48.61" r="0.55" fill="#f0e060" opacity="0.85"/>
<circle cx="178.62" cy="45.01" r="0.55" fill="#a0c840" opacity="0.85"/>
<circle cx="188.75" cy="43.51" r="0.55" fill="#f0e060" opacity="0.85"/>
<circle cx="178.05" cy="46.54" r="0.55" fill="#c0d040" opacity="0.85"/>
<circle cx="176.33" cy="48.37" r="0.55" fill="#a0c840" opacity="0.85"/>
<circle cx="176.73" cy="43.54" r="0.55" fill="#a0c840" opacity="0.85"/>
<circle cx="182.29" cy="49.41" r="0.55" fill="#e8dc30" opacity="0.85"/>
<circle cx="186.26" cy="51.98" r="0.55" fill="#c0d040" opacity="0.85"/>
<circle cx="180.61" cy="44.67" r="0.55" fill="#f0e060" opacity="0.85"/>
<circle cx="186.45" cy="43.29" r="0.55" fill="#a0c840" opacity="0.85"/>
<circle cx="187.75" cy="51.86" r="0.55" fill="#a0c840" opacity="0.85"/>
<circle cx="178.37" cy="43.03" r="0.55" fill="#e8dc30" opacity="0.85"/>
<circle cx="177.13" cy="46.78" r="0.55" fill="#d8d840" opacity="0.85"/>
<circle cx="183.86" cy="49.83" r="0.55" fill="#a0c840" opacity="0.85"/>
<circle cx="180.99" cy="50.39" r="0.55" fill="#a0c840" opacity="0.85"/>
<circle cx="177.23" cy="49.35" r="0.55" fill="#c0d040" opacity="0.85"/>
<circle cx="181.22" cy="51.28" r="0.55" fill="#c0d040" opacity="0.85"/>
<circle cx="180.53" cy="49.64" r="0.55" fill="#a0c840" opacity="0.85"/>
<circle cx="176.42" cy="46.7" r="0.55" fill="#a0c840" opacity="0.85"/>
<circle cx="176.57" cy="43.31" r="0.55" fill="#d8d840" opacity="0.85"/>
<circle cx="187.25" cy="43.56" r="0.55" fill="#c0d040" opacity="0.85"/>
<circle cx="186.46" cy="51.09" r="0.55" fill="#e8dc30" opacity="0.85"/>
<circle cx="181.08" cy="46.01" r="0.55" fill="#f0e060" opacity="0.85"/>
<circle cx="176.61" cy="49.72" r="0.55" fill="#e8dc30" opacity="0.85"/>
<circle cx="188.94" cy="45.68" r="0.55" fill="#f0e060" opacity="0.85"/>
<circle cx="188.83" cy="48.71" r="0.55" fill="#d8d840" opacity="0.85"/>
<circle cx="176.34" cy="45.1" r="0.55" fill="#a0c840" opacity="0.85"/>
<circle cx="186.02" cy="47.19" r="0.55" fill="#a0c840" opacity="0.85"/>
<circle cx="187.06" cy="51.22" r="0.55" fill="#a0c840" opacity="0.85"/>
<circle cx="177.86" cy="47.47" r="0.55" fill="#d8d840" opacity="0.85"/>
<circle cx="187.24" cy="49.65" r="0.55" fill="#c0d040" opacity="0.85"/>
<circle cx="184.5" cy="45.95" r="0.55" fill="#e8dc30" opacity="0.85"/>
<circle cx="182.45" cy="50.05" r="0.55" fill="#f0e060" opacity="0.85"/>
<circle cx="177.11" cy="44.78" r="0.55" fill="#c0d040" opacity="0.85"/>
<circle cx="179.46" cy="43.58" r="0.55" fill="#d8d840" opacity="0.85"/>
<circle cx="182.74" cy="47.9" r="0.55" fill="#c0d040" opacity="0.85"/>
<circle cx="189.72" cy="50.95" r="0.55" fill="#d8d840" opacity="0.85"/>
<circle cx="179.71" cy="43.76" r="0.55" fill="#d8d840" opacity="0.85"/>
<circle cx="181.89" cy="51.9" r="0.55" fill="#a0c840" opacity="0.85"/>
<circle cx="178.42" cy="44.2" r="0.55" fill="#a0c840" opacity="0.85"/>
<circle cx="184.68" cy="49.07" r="0.55" fill="#f0e060" opacity="0.85"/>
<circle cx="187.86" cy="48.98" r="0.55" fill="#d8d840" opacity="0.85"/>
<circle cx="186.92" cy="45.65" r="0.55" fill="#e8dc30" opacity="0.85"/>
<circle cx="183.94" cy="46.36" r="0.55" fill="#e8dc30" opacity="0.85"/>
<circle cx="178.79" cy="45.23" r="0.55" fill="#c0d040" opacity="0.85"/>
<circle cx="179.3" cy="45.53" r="0.55" fill="#f0e060" opacity="0.85"/>
<circle cx="236.86" cy="35.64" r="0.55" fill="#e8a060" opacity="0.8"/>
<circle cx="246.11" cy="41.4" r="0.55" fill="#c8dc70" opacity="0.8"/>
<circle cx="242.17" cy="36.11" r="0.55" fill="#a0c860" opacity="0.8"/>
<circle cx="246.1" cy="36.13" r="0.55" fill="#a0c860" opacity="0.8"/>
<circle cx="244.85" cy="37.8" r="0.55" fill="#a0c860" opacity="0.8"/>
<circle cx="245.22" cy="35.32" r="0.55" fill="#e8a060" opacity="0.8"/>
<circle cx="237.38" cy="35.46" r="0.55" fill="#d8b080" opacity="0.8"/>
<circle cx="245.89" cy="42.38" r="0.55" fill="#f0c070" opacity="0.8"/>
<circle cx="238.98" cy="46.06" r="0.55" fill="#a0c860" opacity="0.8"/>
<circle cx="241.63" cy="44.87" r="0.55" fill="#c09050" opacity="0.8"/>
<circle cx="245.58" cy="36.18" r="0.55" fill="#d8b080" opacity="0.8"/>
<circle cx="242.86" cy="39.35" r="0.55" fill="#f0c070" opacity="0.8"/>
<circle cx="238.94" cy="36.64" r="0.55" fill="#c8dc70" opacity="0.8"/>
<circle cx="246.2" cy="35.3" r="0.55" fill="#c09050" opacity="0.8"/>
<circle cx="242.19" cy="37.44" r="0.55" fill="#f0c070" opacity="0.8"/>
<circle cx="244.12" cy="40.12" r="0.55" fill="#e8a060" opacity="0.8"/>
<circle cx="236.83" cy="38.86" r="0.55" fill="#c8dc70" opacity="0.8"/>
<circle cx="235.06" cy="41.24" r="0.55" fill="#a0c860" opacity="0.8"/>
<circle cx="235.43" cy="36.12" r="0.55" fill="#a0c860" opacity="0.8"/>
<circle cx="242.34" cy="36.81" r="0.55" fill="#d8b080" opacity="0.8"/>
<circle cx="235.75" cy="36.93" r="0.55" fill="#c09050" opacity="0.8"/>
<circle cx="237.82" cy="47.65" r="0.55" fill="#c09050" opacity="0.8"/>
<circle cx="238.24" cy="47.19" r="0.55" fill="#e8a060" opacity="0.8"/>
<circle cx="243.27" cy="46.29" r="0.55" fill="#a0c860" opacity="0.8"/>
<circle cx="239.49" cy="46.04" r="0.55" fill="#e8a060" opacity="0.8"/>
<circle cx="242.11" cy="39.88" r="0.55" fill="#a0c860" opacity="0.8"/>
<circle cx="237.04" cy="34.88" r="0.55" fill="#c8dc70" opacity="0.8"/>
<circle cx="239.57" cy="45.46" r="0.55" fill="#a0c860" opacity="0.8"/>
<circle cx="241.34" cy="39.54" r="0.55" fill="#c8dc70" opacity="0.8"/>
<circle cx="236.19" cy="35.47" r="0.55" fill="#c8dc70" opacity="0.8"/>
<circle cx="242.07" cy="46.63" r="0.55" fill="#f0c070" opacity="0.8"/>
<circle cx="241.29" cy="46.85" r="0.55" fill="#c09050" opacity="0.8"/>
<circle cx="240.5" cy="36.7" r="0.55" fill="#e8a060" opacity="0.8"/>
<circle cx="236.56" cy="37.03" r="0.55" fill="#f0c070" opacity="0.8"/>
<circle cx="235.95" cy="41.18" r="0.55" fill="#c8dc70" opacity="0.8"/>
<circle cx="238.17" cy="45.68" r="0.55" fill="#f0c070" opacity="0.8"/>
<circle cx="245.92" cy="41.08" r="0.55" fill="#f0c070" opacity="0.8"/>
<circle cx="241.69" cy="43.07" r="0.55" fill="#f0c070" opacity="0.8"/>
<circle cx="245.1" cy="42.86" r="0.55" fill="#c8dc70" opacity="0.8"/>
<circle cx="242.06" cy="45.94" r="0.55" fill="#d8b080" opacity="0.8"/>
<circle cx="239.35" cy="45.8" r="0.55" fill="#a0c860" opacity="0.8"/>
<circle cx="236.8" cy="37.64" r="0.55" fill="#a0c860" opacity="0.8"/>
<circle cx="245.49" cy="36.83" r="0.55" fill="#e8a060" opacity="0.8"/>
<circle cx="236.12" cy="38.01" r="0.55" fill="#c09050" opacity="0.8"/>
<circle cx="244.08" cy="37.3" r="0.55" fill="#d8b080" opacity="0.8"/>
<circle cx="244.39" cy="43.54" r="0.55" fill="#c09050" opacity="0.8"/>
<circle cx="244.34" cy="36.33" r="0.55" fill="#d8b080" opacity="0.8"/>
<circle cx="239.94" cy="45.84" r="0.55" fill="#e8a060" opacity="0.8"/>
<circle cx="242.16" cy="38.81" r="0.55" fill="#c8dc70" opacity="0.8"/>
<circle cx="239.6" cy="43.36" r="0.55" fill="#a0c860" opacity="0.8"/>
<circle cx="240.49" cy="37.12" r="0.55" fill="#f0c070" opacity="0.8"/>
<circle cx="241.82" cy="41.16" r="0.55" fill="#c8dc70" opacity="0.8"/>
<circle cx="239.84" cy="42.84" r="0.55" fill="#a0c860" opacity="0.8"/>
<circle cx="244.32" cy="45.34" r="0.55" fill="#a0c860" opacity="0.8"/>
<circle cx="235.93" cy="36.47" r="0.55" fill="#a0c860" opacity="0.8"/>
<circle cx="238.9" cy="45.23" r="0.55" fill="#d8b080" opacity="0.8"/>
<circle cx="240.57" cy="35.33" r="0.55" fill="#c09050" opacity="0.8"/>
<circle cx="236.2" cy="46.79" r="0.55" fill="#e8a060" opacity="0.8"/>
<circle cx="243.64" cy="41.45" r="0.55" fill="#f0c070" opacity="0.8"/>
<circle cx="243.35" cy="46.43" r="0.55" fill="#c09050" opacity="0.8"/>
<circle cx="245.63" cy="36.57" r="0.55" fill="#f0c070" opacity="0.8"/>
<circle cx="246.16" cy="44.32" r="0.55" fill="#f0c070" opacity="0.8"/>
<circle cx="236.93" cy="47.56" r="0.55" fill="#a0c860" opacity="0.8"/>
<circle cx="238.01" cy="45.34" r="0.55" fill="#c8dc70" opacity="0.8"/>
<circle cx="242.59" cy="44.17" r="0.55" fill="#c8dc70" opacity="0.8"/>
<circle cx="235.45" cy="39.36" r="0.55" fill="#e8a060" opacity="0.8"/>
<circle cx="236.53" cy="46.45" r="0.55" fill="#e8a060" opacity="0.8"/>
<circle cx="245.11" cy="40.73" r="0.55" fill="#e8a060" opacity="0.8"/>
<circle cx="240.48" cy="46.76" r="0.55" fill="#c8dc70" opacity="0.8"/>
<circle cx="241.51" cy="42.81" r="0.55" fill="#c8dc70" opacity="0.8"/>
<circle cx="253.22" cy="48.14" r="0.6" fill="#9a4a10" opacity="0.85"/>
<circle cx="254.26" cy="53.66" r="0.6" fill="#b06020" opacity="0.85"/>
<circle cx="257.66" cy="56.04" r="0.6" fill="#9a4a10" opacity="0.85"/>
<circle cx="259.04" cy="50.23" r="0.6" fill="#7a3400" opacity="0.85"/>
<circle cx="257.13" cy="51.11" r="0.6" fill="#704020" opacity="0.85"/>
<circle cx="256.13" cy="53.14" r="0.6" fill="#7a3400" opacity="0.85"/>
<circle cx="252.4" cy="52.73" r="0.6" fill="#704020" opacity="0.85"/>
<circle cx="258.38" cy="51.22" r="0.6" fill="#704020" opacity="0.85"/>
<circle cx="261.48" cy="53.11" r="0.6" fill="#b06020" opacity="0.85"/>
<circle cx="253.37" cy="48.55" r="0.6" fill="#9a4a10" opacity="0.85"/>
<circle cx="251.47" cy="54.64" r="0.6" fill="#7a3400" opacity="0.85"/>
<circle cx="252.95" cy="52.55" r="0.6" fill="#b06020" opacity="0.85"/>
<circle cx="257.16" cy="56.85" r="0.6" fill="#b06020" opacity="0.85"/>
<circle cx="258.32" cy="54.67" r="0.6" fill="#9a4a10" opacity="0.85"/>
<circle cx="251.14" cy="53.47" r="0.6" fill="#704020" opacity="0.85"/>
<circle cx="254.44" cy="51.15" r="0.6" fill="#7a3400" opacity="0.85"/>
<circle cx="250.92" cy="49.89" r="0.6" fill="#7a3400" opacity="0.85"/>
<circle cx="249.57" cy="47.82" r="0.6" fill="#b06020" opacity="0.85"/>
<circle cx="253.04" cy="52.61" r="0.6" fill="#9a4a10" opacity="0.85"/>
<circle cx="254.38" cy="50.57" r="0.6" fill="#9a4a10" opacity="0.85"/>
<circle cx="251.81" cy="53.54" r="0.6" fill="#704020" opacity="0.85"/>
<circle cx="251.25" cy="47.93" r="0.6" fill="#9a4a10" opacity="0.85"/>
<circle cx="258" cy="51.95" r="0.6" fill="#7a3400" opacity="0.85"/>
<circle cx="257.15" cy="55.82" r="0.6" fill="#b06020" opacity="0.85"/>
<circle cx="254.24" cy="50.23" r="0.6" fill="#7a3400" opacity="0.85"/>
<circle cx="249.99" cy="55.35" r="0.6" fill="#b06020" opacity="0.85"/>
<circle cx="256.62" cy="53.12" r="0.6" fill="#704020" opacity="0.85"/>
<circle cx="252.36" cy="56.11" r="0.6" fill="#7a3400" opacity="0.85"/>
<circle cx="250.06" cy="48.03" r="0.6" fill="#9a4a10" opacity="0.85"/>
<circle cx="252.22" cy="48.34" r="0.6" fill="#7a3400" opacity="0.85"/>
<circle cx="249.45" cy="52.87" r="0.6" fill="#9a4a10" opacity="0.85"/>
<circle cx="251.05" cy="49.64" r="0.6" fill="#704020" opacity="0.85"/>
<circle cx="259.3" cy="49.41" r="0.6" fill="#b06020" opacity="0.85"/>
<circle cx="250.08" cy="53.56" r="0.6" fill="#704020" opacity="0.85"/>
<circle cx="258.1" cy="47.86" r="0.6" fill="#704020" opacity="0.85"/>
<circle cx="258.47" cy="52.08" r="0.6" fill="#704020" opacity="0.85"/>
<circle cx="251.46" cy="56.97" r="0.6" fill="#b06020" opacity="0.85"/>
<circle cx="252.16" cy="48.16" r="0.6" fill="#b06020" opacity="0.85"/>
<circle cx="260.26" cy="56.31" r="0.6" fill="#b06020" opacity="0.85"/>
<circle cx="258.05" cy="50.25" r="0.6" fill="#704020" opacity="0.85"/>
<polygon points="252.5,31 256,29 259,30.5 262,31 264.5,33 264,35 258,34.5 253,34" fill="#5a92c8" filter="url(#rough)"/>
<polygon points="256.6,30.3 257.5,27 259.5,25.3 262,25 263.2,27 262,29.8 259.5,31" fill="#6e6e6e" filter="url(#rough)"/>
<polygon points="240.8,31.7 244.7,32.5 247.8,34.8 247,37.8 243.2,38.6 240.5,35.5" fill="#62b030" filter="url(#rough)"/>
<polygon points="247,36.3 251.6,34.8 254.7,37.1 255.5,41.7 251.6,44 247,42.5 245.5,39.4" fill="#f0a060" filter="url(#rough)"/>
<polygon points="256.2,34.8 263.9,34.8 264.7,39.4 263.2,42.5 259.3,44 257,40.9" fill="#98c840" filter="url(#rough)"/>
<polygon points="249.3,39.4 253.9,38.6 257.8,41.7 262.4,43.2 262.4,46.3 256.2,47.8 250.8,47.1 248.5,44" fill="#8b4400" filter="url(#rough)"/>
<circle cx="301.23" cy="48.22" r="0.55" fill="#80bc50" opacity="0.8"/>
<circle cx="296.55" cy="48.39" r="0.55" fill="#c8dc70" opacity="0.8"/>
<circle cx="294.03" cy="41.87" r="0.55" fill="#c8dc70" opacity="0.8"/>
<circle cx="296.12" cy="37.66" r="0.55" fill="#c8dc70" opacity="0.8"/>
<circle cx="304.34" cy="45.57" r="0.55" fill="#80bc50" opacity="0.8"/>
<circle cx="295.3" cy="40.02" r="0.55" fill="#d8e080" opacity="0.8"/>
<circle cx="295.87" cy="48.07" r="0.55" fill="#d8e080" opacity="0.8"/>
<circle cx="298.63" cy="47.02" r="0.55" fill="#a8cc60" opacity="0.8"/>
<circle cx="303.29" cy="40.78" r="0.55" fill="#c8dc70" opacity="0.8"/>
<circle cx="299.84" cy="38.77" r="0.55" fill="#c8dc70" opacity="0.8"/>
<circle cx="297.7" cy="43.07" r="0.55" fill="#d8e080" opacity="0.8"/>
<circle cx="303.93" cy="36.24" r="0.55" fill="#a8cc60" opacity="0.8"/>
<circle cx="294.34" cy="43.64" r="0.55" fill="#c8dc70" opacity="0.8"/>
<circle cx="297.14" cy="36.2" r="0.55" fill="#a8cc60" opacity="0.8"/>
<circle cx="293.37" cy="36.15" r="0.55" fill="#a8cc60" opacity="0.8"/>
<circle cx="301.36" cy="45.42" r="0.55" fill="#a8cc60" opacity="0.8"/>
<circle cx="303.28" cy="45.81" r="0.55" fill="#c8dc70" opacity="0.8"/>
<circle cx="302.81" cy="46.7" r="0.55" fill="#a8cc60" opacity="0.8"/>
<circle cx="303.56" cy="45.71" r="0.55" fill="#60b060" opacity="0.8"/>
<circle cx="294.29" cy="37.19" r="0.55" fill="#a8cc60" opacity="0.8"/>
<circle cx="293.41" cy="48.71" r="0.55" fill="#a8cc60" opacity="0.8"/>
<circle cx="302.9" cy="43.79" r="0.55" fill="#80bc50" opacity="0.8"/>
<circle cx="298.73" cy="36.06" r="0.55" fill="#c8dc70" opacity="0.8"/>
<circle cx="296.53" cy="39.22" r="0.55" fill="#80bc50" opacity="0.8"/>
<circle cx="293.25" cy="37.98" r="0.55" fill="#80bc50" opacity="0.8"/>
<circle cx="293.58" cy="45.78" r="0.55" fill="#80bc50" opacity="0.8"/>
<circle cx="302.23" cy="43.33" r="0.55" fill="#60b060" opacity="0.8"/>
<circle cx="303.22" cy="43.58" r="0.55" fill="#a8cc60" opacity="0.8"/>
<circle cx="302.47" cy="34.48" r="0.55" fill="#d8e080" opacity="0.8"/>
<circle cx="302.28" cy="39.38" r="0.55" fill="#a8cc60" opacity="0.8"/>
<circle cx="299.45" cy="37.36" r="0.55" fill="#a8cc60" opacity="0.8"/>
<circle cx="299.89" cy="38.45" r="0.55" fill="#60b060" opacity="0.8"/>
<circle cx="293.02" cy="37.13" r="0.55" fill="#a8cc60" opacity="0.8"/>
<circle cx="293.05" cy="41.61" r="0.55" fill="#60b060" opacity="0.8"/>
<circle cx="301.34" cy="46.79" r="0.55" fill="#60b060" opacity="0.8"/>
<circle cx="300.11" cy="48.84" r="0.55" fill="#d8e080" opacity="0.8"/>
<circle cx="296.13" cy="48.63" r="0.55" fill="#80bc50" opacity="0.8"/>
<circle cx="302.78" cy="48.54" r="0.55" fill="#c8dc70" opacity="0.8"/>
<circle cx="298.98" cy="35.7" r="0.55" fill="#a8cc60" opacity="0.8"/>
<circle cx="298.88" cy="49.36" r="0.55" fill="#d8e080" opacity="0.8"/>
<circle cx="302.44" cy="43.73" r="0.55" fill="#80bc50" opacity="0.8"/>
<circle cx="294.14" cy="48.39" r="0.55" fill="#a8cc60" opacity="0.8"/>
<circle cx="298.07" cy="44.01" r="0.55" fill="#80bc50" opacity="0.8"/>
<circle cx="295.47" cy="38.08" r="0.55" fill="#d8e080" opacity="0.8"/>
<circle cx="299.01" cy="39.88" r="0.55" fill="#c8dc70" opacity="0.8"/>
<circle cx="304.33" cy="35.97" r="0.55" fill="#d8e080" opacity="0.8"/>
<circle cx="302.05" cy="45.67" r="0.55" fill="#a8cc60" opacity="0.8"/>
<circle cx="297.18" cy="39.06" r="0.55" fill="#c8dc70" opacity="0.8"/>
<circle cx="303.42" cy="40.98" r="0.55" fill="#d8e080" opacity="0.8"/>
<circle cx="301.9" cy="36.63" r="0.55" fill="#60b060" opacity="0.8"/>
<circle cx="303.51" cy="38.83" r="0.6" fill="#70b840" opacity="0.85"/>
<circle cx="299.01" cy="41.08" r="0.6" fill="#70b840" opacity="0.85"/>
<circle cx="302.06" cy="38.94" r="0.6" fill="#70b840" opacity="0.85"/>
<circle cx="303.79" cy="46.72" r="0.6" fill="#90c440" opacity="0.85"/>
<circle cx="302.82" cy="39.83" r="0.6" fill="#70b840" opacity="0.85"/>
<circle cx="300.62" cy="38.08" r="0.6" fill="#58ac48" opacity="0.85"/>
<circle cx="299.32" cy="43.24" r="0.6" fill="#70b840" opacity="0.85"/>
<circle cx="301.07" cy="46.82" r="0.6" fill="#90c440" opacity="0.85"/>
<circle cx="303.87" cy="40.78" r="0.6" fill="#70b840" opacity="0.85"/>
<circle cx="298.87" cy="46.03" r="0.6" fill="#90c440" opacity="0.85"/>
<circle cx="299.65" cy="40.27" r="0.6" fill="#58ac48" opacity="0.85"/>
<circle cx="298.1" cy="45.4" r="0.6" fill="#409c50" opacity="0.85"/>
<circle cx="303.55" cy="41.51" r="0.6" fill="#90c440" opacity="0.85"/>
<circle cx="301.71" cy="37.56" r="0.6" fill="#409c50" opacity="0.85"/>
<circle cx="298.04" cy="38.67" r="0.6" fill="#409c50" opacity="0.85"/>
<circle cx="303.61" cy="42.46" r="0.6" fill="#409c50" opacity="0.85"/>
<circle cx="304.77" cy="43.35" r="0.6" fill="#70b840" opacity="0.85"/>
<circle cx="303.44" cy="43.06" r="0.6" fill="#409c50" opacity="0.85"/>
<circle cx="301.46" cy="38.86" r="0.6" fill="#58ac48" opacity="0.85"/>
<circle cx="305.16" cy="38.67" r="0.6" fill="#409c50" opacity="0.85"/>
<circle cx="303.71" cy="42.93" r="0.6" fill="#90c440" opacity="0.85"/>
<circle cx="304.8" cy="41.31" r="0.6" fill="#58ac48" opacity="0.85"/>
<circle cx="302.97" cy="40.5" r="0.6" fill="#70b840" opacity="0.85"/>
<circle cx="305.16" cy="39.61" r="0.6" fill="#58ac48" opacity="0.85"/>
<circle cx="301.11" cy="41.39" r="0.6" fill="#58ac48" opacity="0.85"/>
<circle cx="298.31" cy="41.98" r="0.6" fill="#70b840" opacity="0.85"/>
<circle cx="303.73" cy="46.46" r="0.6" fill="#70b840" opacity="0.85"/>
<circle cx="302.15" cy="37.11" r="0.6" fill="#409c50" opacity="0.85"/>
<circle cx="302.33" cy="43.89" r="0.6" fill="#58ac48" opacity="0.85"/>
<circle cx="303.11" cy="45.12" r="0.6" fill="#90c440" opacity="0.85"/>
<circle cx="301.28" cy="46.43" r="0.6" fill="#70b840" opacity="0.85"/>
<circle cx="305.92" cy="38.02" r="0.6" fill="#58ac48" opacity="0.85"/>
<circle cx="303.83" cy="42.75" r="0.6" fill="#58ac48" opacity="0.85"/>
<circle cx="300.02" cy="40.2" r="0.6" fill="#58ac48" opacity="0.85"/>
<circle cx="298.11" cy="40.6" r="0.6" fill="#409c50" opacity="0.85"/>
<circle cx="303.03" cy="43.42" r="0.6" fill="#90c440" opacity="0.85"/>
<circle cx="298.87" cy="39.34" r="0.6" fill="#409c50" opacity="0.85"/>
<circle cx="305.52" cy="41.8" r="0.6" fill="#70b840" opacity="0.85"/>
<circle cx="305.95" cy="46.57" r="0.6" fill="#409c50" opacity="0.85"/>
<circle cx="299.7" cy="37.42" r="0.6" fill="#58ac48" opacity="0.85"/>
<circle cx="304.48" cy="42.98" r="0.6" fill="#409c50" opacity="0.85"/>
<circle cx="303.14" cy="43.93" r="0.6" fill="#70b840" opacity="0.85"/>
<circle cx="300.83" cy="43.03" r="0.6" fill="#409c50" opacity="0.85"/>
<circle cx="301.74" cy="39.24" r="0.6" fill="#70b840" opacity="0.85"/>
<circle cx="304.24" cy="41.16" r="0.6" fill="#70b840" opacity="0.85"/>
<circle cx="312.91" cy="38.51" r="0.45" fill="#c8dc90" opacity="0.7"/>
<circle cx="324.42" cy="42.15" r="0.45" fill="#707f70" opacity="0.7"/>
<circle cx="308.64" cy="42.66" r="0.45" fill="#c8dc90" opacity="0.7"/>
<circle cx="314.36" cy="41.85" r="0.45" fill="#c8dc90" opacity="0.7"/>
<circle cx="316.32" cy="39.14" r="0.45" fill="#a0b0a0" opacity="0.7"/>
<circle cx="319.21" cy="38.35" r="0.45" fill="#c8dc90" opacity="0.7"/>
<circle cx="322.36" cy="34.68" r="0.45" fill="#c8dc90" opacity="0.7"/>
<circle cx="321.22" cy="35.68" r="0.45" fill="#c8dc90" opacity="0.7"/>
<circle cx="318.79" cy="34.18" r="0.45" fill="#a0b0a0" opacity="0.7"/>
<circle cx="311.98" cy="34.86" r="0.45" fill="#c8dc90" opacity="0.7"/>
<circle cx="312.63" cy="35.22" r="0.45" fill="#90b890" opacity="0.7"/>
<circle cx="322.35" cy="36.23" r="0.45" fill="#707f70" opacity="0.7"/>
<circle cx="314.18" cy="35.83" r="0.45" fill="#707f70" opacity="0.7"/>
<circle cx="321.35" cy="36.01" r="0.45" fill="#a0b0a0" opacity="0.7"/>
<circle cx="319.36" cy="44.73" r="0.45" fill="#c8dc90" opacity="0.7"/>
<circle cx="311.78" cy="42.31" r="0.45" fill="#a0b0a0" opacity="0.7"/>
<circle cx="320.54" cy="39.26" r="0.45" fill="#a0b0a0" opacity="0.7"/>
<circle cx="317.54" cy="37.17" r="0.45" fill="#90b890" opacity="0.7"/>
<circle cx="321.92" cy="39.68" r="0.45" fill="#a0b0a0" opacity="0.7"/>
<circle cx="316.4" cy="44.87" r="0.45" fill="#707f70" opacity="0.7"/>
<circle cx="312.57" cy="35.98" r="0.45" fill="#a0b0a0" opacity="0.7"/>
<circle cx="311.18" cy="37.85" r="0.45" fill="#707f70" opacity="0.7"/>
<circle cx="319.31" cy="44.09" r="0.45" fill="#c8dc90" opacity="0.7"/>
<circle cx="315.46" cy="46" r="0.45" fill="#a0b0a0" opacity="0.7"/>
<circle cx="311.51" cy="38.32" r="0.45" fill="#a0b0a0" opacity="0.7"/>
<circle cx="308.93" cy="34.55" r="0.45" fill="#c8dc90" opacity="0.7"/>
<circle cx="321.62" cy="35.13" r="0.45" fill="#707f70" opacity="0.7"/>
<circle cx="316.4" cy="44.77" r="0.45" fill="#a0b0a0" opacity="0.7"/>
<circle cx="312.04" cy="38.99" r="0.45" fill="#90b890" opacity="0.7"/>
<circle cx="314.05" cy="44.34" r="0.45" fill="#c8dc90" opacity="0.7"/>
<polygon points="300.5,33 303.5,31.8 307.5,36.5 310.5,40.5 313.4,44 317.9,49 322,51.5 325.8,54 325.2,57.5 322.3,60.2 315,60.5 312.2,58 310.2,54 307.4,49 304.5,44 302,39.5 300.5,36" fill="url(#gA5)" filter="url(#rough)"/>
<polygon points="314.2,31.3 321.5,26.8 322.7,27.3 320.7,32.1 317.5,32.1" fill="#2f9a48" filter="url(#rough)"/>
<polyline points="301.5,32.5 304.5,35.5 306.5,38.5" fill="none" stroke="#1a7a60" stroke-width="1.2" stroke-linecap="round" stroke-linejoin="round" />
<polyline points="304.5,33.5 306.5,36" fill="none" stroke="#1a7a60" stroke-width="0.8" stroke-linecap="round" stroke-linejoin="round" />
<circle cx="357.58" cy="45.7" r="0.5" fill="#a8cc70" opacity="0.7"/>
<circle cx="356.75" cy="39.98" r="0.5" fill="#e0a080" opacity="0.7"/>
<circle cx="360.69" cy="46.33" r="0.5" fill="#e0a080" opacity="0.7"/>
<circle cx="357.79" cy="41.97" r="0.5" fill="#e0a080" opacity="0.7"/>
<circle cx="359.95" cy="39.06" r="0.5" fill="#e0a080" opacity="0.7"/>
<circle cx="366.83" cy="44.07" r="0.5" fill="#c0a080" opacity="0.7"/>
<circle cx="357.43" cy="39.65" r="0.5" fill="#e0a080" opacity="0.7"/>
<circle cx="354.46" cy="48.24" r="0.5" fill="#c0a080" opacity="0.7"/>
<circle cx="364.05" cy="36.02" r="0.5" fill="#d0c0a0" opacity="0.7"/>
<circle cx="360.56" cy="36.15" r="0.5" fill="#e0a080" opacity="0.7"/>
<circle cx="354.18" cy="36.11" r="0.5" fill="#d0c0a0" opacity="0.7"/>
<circle cx="361.49" cy="44.12" r="0.5" fill="#d0c0a0" opacity="0.7"/>
<circle cx="361.6" cy="43.71" r="0.5" fill="#c0a080" opacity="0.7"/>
<circle cx="355.7" cy="44.24" r="0.5" fill="#d0c0a0" opacity="0.7"/>
<circle cx="361.73" cy="37.78" r="0.5" fill="#a8cc70" opacity="0.7"/>
<circle cx="365.29" cy="41.02" r="0.5" fill="#c0a080" opacity="0.7"/>
<circle cx="365.95" cy="44.09" r="0.5" fill="#e0a080" opacity="0.7"/>
<circle cx="365.33" cy="37.32" r="0.5" fill="#e0a080" opacity="0.7"/>
<circle cx="360.81" cy="38.88" r="0.5" fill="#e0a080" opacity="0.7"/>
<circle cx="355.3" cy="35.95" r="0.5" fill="#c0a080" opacity="0.7"/>
<circle cx="358.89" cy="43.91" r="0.5" fill="#c0a080" opacity="0.7"/>
<circle cx="359.87" cy="42.34" r="0.5" fill="#c0a080" opacity="0.7"/>
<circle cx="363.9" cy="41.02" r="0.5" fill="#d0c0a0" opacity="0.7"/>
<circle cx="359.12" cy="35.69" r="0.5" fill="#d0c0a0" opacity="0.7"/>
<circle cx="361.27" cy="48.51" r="0.5" fill="#a8cc70" opacity="0.7"/>
<circle cx="359.54" cy="40.9" r="0.5" fill="#c0a080" opacity="0.7"/>
<circle cx="353.81" cy="41.69" r="0.5" fill="#a8cc70" opacity="0.7"/>
<circle cx="361.75" cy="41.09" r="0.5" fill="#c0a080" opacity="0.7"/>
<circle cx="362.58" cy="37.09" r="0.5" fill="#c0a080" opacity="0.7"/>
<circle cx="355.79" cy="37.09" r="0.5" fill="#d0c0a0" opacity="0.7"/>
<circle cx="352.86" cy="44.92" r="0.5" fill="#a8cc70" opacity="0.7"/>
<circle cx="359.18" cy="45.25" r="0.5" fill="#c0a080" opacity="0.7"/>
<circle cx="357.94" cy="45.29" r="0.5" fill="#a8cc70" opacity="0.7"/>
<circle cx="363.25" cy="36.6" r="0.5" fill="#d0c0a0" opacity="0.7"/>
<circle cx="359.32" cy="47.71" r="0.5" fill="#e0a080" opacity="0.7"/>
<circle cx="382.93" cy="39.81" r="0.5" fill="#9a5a30" opacity="0.8"/>
<circle cx="369.67" cy="39.51" r="0.5" fill="#9a5a30" opacity="0.8"/>
<circle cx="375.22" cy="41.81" r="0.5" fill="#b07040" opacity="0.8"/>
<circle cx="383.58" cy="45.83" r="0.5" fill="#9a5a30" opacity="0.8"/>
<circle cx="374.15" cy="46.71" r="0.5" fill="#807070" opacity="0.8"/>
<circle cx="376.41" cy="40.68" r="0.5" fill="#9a5a30" opacity="0.8"/>
<circle cx="374.84" cy="44.37" r="0.5" fill="#807070" opacity="0.8"/>
<circle cx="376.51" cy="45.39" r="0.5" fill="#807070" opacity="0.8"/>
<circle cx="383.39" cy="45.44" r="0.5" fill="#c8d8e8" opacity="0.8"/>
<circle cx="373.8" cy="39.87" r="0.5" fill="#c8d8e8" opacity="0.8"/>
<circle cx="382.28" cy="44.99" r="0.5" fill="#9a5a30" opacity="0.8"/>
<circle cx="381.72" cy="44.03" r="0.5" fill="#c8d8e8" opacity="0.8"/>
<circle cx="378.09" cy="46.92" r="0.5" fill="#b07040" opacity="0.8"/>
<circle cx="375.04" cy="44.67" r="0.5" fill="#b07040" opacity="0.8"/>
<circle cx="381.37" cy="41.58" r="0.5" fill="#9a5a30" opacity="0.8"/>
<circle cx="374.23" cy="41.46" r="0.5" fill="#b07040" opacity="0.8"/>
<circle cx="378.12" cy="45.68" r="0.5" fill="#9a5a30" opacity="0.8"/>
<circle cx="373.74" cy="40.48" r="0.5" fill="#b07040" opacity="0.8"/>
<circle cx="373.53" cy="45.95" r="0.5" fill="#807070" opacity="0.8"/>
<circle cx="374.6" cy="40.05" r="0.5" fill="#807070" opacity="0.8"/>
<circle cx="381.22" cy="40.94" r="0.5" fill="#b07040" opacity="0.8"/>
<circle cx="374.05" cy="39.84" r="0.5" fill="#807070" opacity="0.8"/>
<circle cx="376.34" cy="40.99" r="0.5" fill="#c8d8e8" opacity="0.8"/>
<circle cx="378.12" cy="39.47" r="0.5" fill="#807070" opacity="0.8"/>
<circle cx="376.26" cy="40.08" r="0.5" fill="#c8d8e8" opacity="0.8"/>
<circle cx="380.85" cy="41.19" r="0.5" fill="#c8d8e8" opacity="0.8"/>
<circle cx="382.51" cy="43.42" r="0.5" fill="#807070" opacity="0.8"/>
<circle cx="376.94" cy="40.95" r="0.5" fill="#b07040" opacity="0.8"/>
<circle cx="372.33" cy="40.79" r="0.5" fill="#c8d8e8" opacity="0.8"/>
<circle cx="374.83" cy="43.75" r="0.5" fill="#807070" opacity="0.8"/>
<circle cx="380.96" cy="46" r="0.5" fill="#b07040" opacity="0.8"/>
<circle cx="370.16" cy="47.08" r="0.5" fill="#c8d8e8" opacity="0.8"/>
<circle cx="382.24" cy="42.26" r="0.5" fill="#807070" opacity="0.8"/>
<circle cx="381.07" cy="40.6" r="0.5" fill="#9a5a30" opacity="0.8"/>
<circle cx="374.57" cy="43.4" r="0.5" fill="#9a5a30" opacity="0.8"/>
<polygon points="373.4,31.7 380,31 384.2,33.5 384.2,39.4 377,40 373.4,36" fill="#d4e4f2" opacity="0.85" filter="url(#soft)"/>
<polygon points="375.7,31.7 381.8,27.1 383.8,27.1 381.8,30.9 378.8,32.1" fill="#6a6a6a" filter="url(#rough)"/>
<polygon points="359.5,33.2 363.4,31.7 367.2,34 368.4,39.4 367.2,42.5 363.4,42.5 359.5,39.4" fill="#90c848" filter="url(#rough)"/>
<polygon points="367.2,41.7 370.3,42.5 371.8,46.3 369.5,47.1 367.6,44.8" fill="#f0b070" filter="url(#rough)"/>
<polygon points="369,45.3 373.4,45 377.5,48.3 381.5,51.3 385,53.5 385.3,57.2 383.3,60.5 380,62 376.3,60 373.2,57.3 370.6,52.8 369,48.5" fill="#f0b070" opacity="0.6" filter="url(#soft2)"/>
<polygon points="369.5,45.5 373,45.5 377,48.5 381,51.5 384.5,53.5 384.8,57 383,60 380,61.5 376.5,59.5 373.5,57 371,52.5 369.5,48.5" fill="#94420a" filter="url(#rough)"/>
<circle cx="373.94" cy="50.05" r="0.5" fill="#6a2a00" opacity="0.8"/>
<circle cx="378.87" cy="50.14" r="0.5" fill="#6a2a00" opacity="0.8"/>
<circle cx="377.26" cy="57.46" r="0.5" fill="#b05a10" opacity="0.8"/>
<circle cx="375.54" cy="48.38" r="0.5" fill="#b05a10" opacity="0.8"/>
<circle cx="382.95" cy="51.78" r="0.5" fill="#b05a10" opacity="0.8"/>
<circle cx="373.51" cy="53.57" r="0.5" fill="#6a2a00" opacity="0.8"/>
<circle cx="377.87" cy="56.46" r="0.5" fill="#b05a10" opacity="0.8"/>
<circle cx="381.63" cy="54.4" r="0.5" fill="#b05a10" opacity="0.8"/>
<circle cx="380.06" cy="48.9" r="0.5" fill="#6a2a00" opacity="0.8"/>
<circle cx="378.64" cy="54.41" r="0.5" fill="#6a2a00" opacity="0.8"/>
<circle cx="374.83" cy="56.5" r="0.5" fill="#6a2a00" opacity="0.8"/>
<circle cx="382.66" cy="57.92" r="0.5" fill="#b05a10" opacity="0.8"/>
<circle cx="374.72" cy="57.42" r="0.5" fill="#6a2a00" opacity="0.8"/>
<circle cx="373.59" cy="53.53" r="0.5" fill="#b05a10" opacity="0.8"/>
<circle cx="381.37" cy="48.47" r="0.5" fill="#6a2a00" opacity="0.8"/>
<rect x="44.4" y="302.8" width="43.6" height="42.4" fill="none" stroke="#222" stroke-width="1.1"/>
<line x1="42.9" y1="345.2" x2="44.4" y2="345.2" stroke="#222" stroke-width="0.7"/>
<line x1="42.9" y1="343.28" x2="44.4" y2="343.28" stroke="#222" stroke-width="0.7"/>
<line x1="42.9" y1="341.36" x2="44.4" y2="341.36" stroke="#222" stroke-width="0.7"/>
<line x1="42.9" y1="339.44" x2="44.4" y2="339.44" stroke="#222" stroke-width="0.7"/>
<line x1="42.9" y1="337.52" x2="44.4" y2="337.52" stroke="#222" stroke-width="0.7"/>
<line x1="42.9" y1="335.6" x2="44.4" y2="335.6" stroke="#222" stroke-width="0.7"/>
<line x1="42.9" y1="333.68" x2="44.4" y2="333.68" stroke="#222" stroke-width="0.7"/>
<line x1="42.9" y1="331.76" x2="44.4" y2="331.76" stroke="#222" stroke-width="0.7"/>
<line x1="42.9" y1="329.84" x2="44.4" y2="329.84" stroke="#222" stroke-width="0.7"/>
<line x1="42.9" y1="327.92" x2="44.4" y2="327.92" stroke="#222" stroke-width="0.7"/>
<line x1="42.9" y1="326" x2="44.4" y2="326" stroke="#222" stroke-width="0.7"/>
<line x1="42.9" y1="324.08" x2="44.4" y2="324.08" stroke="#222" stroke-width="0.7"/>
<line x1="42.9" y1="322.16" x2="44.4" y2="322.16" stroke="#222" stroke-width="0.7"/>
<line x1="42.9" y1="320.24" x2="44.4" y2="320.24" stroke="#222" stroke-width="0.7"/>
<line x1="42.9" y1="318.32" x2="44.4" y2="318.32" stroke="#222" stroke-width="0.7"/>
<line x1="42.9" y1="316.4" x2="44.4" y2="316.4" stroke="#222" stroke-width="0.7"/>
<line x1="42.9" y1="314.48" x2="44.4" y2="314.48" stroke="#222" stroke-width="0.7"/>
<line x1="42.9" y1="312.56" x2="44.4" y2="312.56" stroke="#222" stroke-width="0.7"/>
<line x1="42.9" y1="310.64" x2="44.4" y2="310.64" stroke="#222" stroke-width="0.7"/>
<line x1="42.9" y1="308.72" x2="44.4" y2="308.72" stroke="#222" stroke-width="0.7"/>
<line x1="42.9" y1="306.8" x2="44.4" y2="306.8" stroke="#222" stroke-width="0.7"/>
<line x1="42.9" y1="304.88" x2="44.4" y2="304.88" stroke="#222" stroke-width="0.7"/>
<line x1="45" y1="345.2" x2="45" y2="346.7" stroke="#222" stroke-width="0.7"/>
<line x1="46.8" y1="345.2" x2="46.8" y2="346.7" stroke="#222" stroke-width="0.7"/>
<line x1="48.6" y1="345.2" x2="48.6" y2="346.7" stroke="#222" stroke-width="0.7"/>
<line x1="50.4" y1="345.2" x2="50.4" y2="346.7" stroke="#222" stroke-width="0.7"/>
<line x1="52.2" y1="345.2" x2="52.2" y2="346.7" stroke="#222" stroke-width="0.7"/>
<line x1="54" y1="345.2" x2="54" y2="346.7" stroke="#222" stroke-width="0.7"/>
<line x1="55.8" y1="345.2" x2="55.8" y2="346.7" stroke="#222" stroke-width="0.7"/>
<line x1="57.6" y1="345.2" x2="57.6" y2="346.7" stroke="#222" stroke-width="0.7"/>
<line x1="59.4" y1="345.2" x2="59.4" y2="346.7" stroke="#222" stroke-width="0.7"/>
<line x1="61.2" y1="345.2" x2="61.2" y2="346.7" stroke="#222" stroke-width="0.7"/>
<line x1="63" y1="345.2" x2="63" y2="346.7" stroke="#222" stroke-width="0.7"/>
<line x1="64.8" y1="345.2" x2="64.8" y2="346.7" stroke="#222" stroke-width="0.7"/>
<line x1="66.6" y1="345.2" x2="66.6" y2="346.7" stroke="#222" stroke-width="0.7"/>
<line x1="68.4" y1="345.2" x2="68.4" y2="346.7" stroke="#222" stroke-width="0.7"/>
<line x1="70.2" y1="345.2" x2="70.2" y2="346.7" stroke="#222" stroke-width="0.7"/>
<line x1="72" y1="345.2" x2="72" y2="346.7" stroke="#222" stroke-width="0.7"/>
<line x1="73.8" y1="345.2" x2="73.8" y2="346.7" stroke="#222" stroke-width="0.7"/>
<line x1="75.6" y1="345.2" x2="75.6" y2="346.7" stroke="#222" stroke-width="0.7"/>
<line x1="77.4" y1="345.2" x2="77.4" y2="346.7" stroke="#222" stroke-width="0.7"/>
<line x1="79.2" y1="345.2" x2="79.2" y2="346.7" stroke="#222" stroke-width="0.7"/>
<line x1="81" y1="345.2" x2="81" y2="346.7" stroke="#222" stroke-width="0.7"/>
<line x1="82.8" y1="345.2" x2="82.8" y2="346.7" stroke="#222" stroke-width="0.7"/>
<line x1="84.6" y1="345.2" x2="84.6" y2="346.7" stroke="#222" stroke-width="0.7"/>
<line x1="86.4" y1="345.2" x2="86.4" y2="346.7" stroke="#222" stroke-width="0.7"/>
<line x1="41.4" y1="307" x2="44.4" y2="307" stroke="#222" stroke-width="0.9"/>
<text x="39.4" y="309.1" font-size="6" text-anchor="end" fill="#333" font-weight="normal" class="ns">20</text>
<line x1="41.4" y1="316.6" x2="44.4" y2="316.6" stroke="#222" stroke-width="0.9"/>
<text x="39.4" y="318.7" font-size="6" text-anchor="end" fill="#333" font-weight="normal" class="ns">15</text>
<line x1="41.4" y1="326.2" x2="44.4" y2="326.2" stroke="#222" stroke-width="0.9"/>
<text x="39.4" y="328.3" font-size="6" text-anchor="end" fill="#333" font-weight="normal" class="ns">10</text>
<line x1="41.4" y1="335.6" x2="44.4" y2="335.6" stroke="#222" stroke-width="0.9"/>
<text x="39.4" y="337.7" font-size="6" text-anchor="end" fill="#333" font-weight="normal" class="ns">5.0</text>
<line x1="41.4" y1="345.2" x2="44.4" y2="345.2" stroke="#222" stroke-width="0.9"/>
<text x="39.4" y="347.3" font-size="6" text-anchor="end" fill="#333" font-weight="normal" class="ns">0</text>
<line x1="45" y1="345.2" x2="45" y2="348.2" stroke="#222" stroke-width="0.9"/>
<text x="45.3" y="356" font-size="6" text-anchor="middle" fill="#333" font-weight="normal" class="ns">0</text>
<line x1="53" y1="345.2" x2="53" y2="348.2" stroke="#222" stroke-width="0.9"/>
<text x="53.3" y="356" font-size="6" text-anchor="middle" fill="#333" font-weight="normal" class="ns">5.0</text>
<line x1="62.4" y1="345.2" x2="62.4" y2="348.2" stroke="#222" stroke-width="0.9"/>
<text x="62.7" y="356" font-size="6" text-anchor="middle" fill="#333" font-weight="normal" class="ns">10</text>
<line x1="72" y1="345.2" x2="72" y2="348.2" stroke="#222" stroke-width="0.9"/>
<text x="72.3" y="356" font-size="6" text-anchor="middle" fill="#333" font-weight="normal" class="ns">15</text>
<line x1="81" y1="345.2" x2="81" y2="348.2" stroke="#222" stroke-width="0.9"/>
<text x="81.3" y="356" font-size="6" text-anchor="middle" fill="#333" font-weight="normal" class="ns">20</text>
<line x1="103.6" y1="307" x2="146.6" y2="307" stroke="#ececec" stroke-width="0.6"/>
<line x1="103.6" y1="316.6" x2="146.6" y2="316.6" stroke="#ececec" stroke-width="0.6"/>
<line x1="103.6" y1="326.2" x2="146.6" y2="326.2" stroke="#ececec" stroke-width="0.6"/>
<line x1="103.6" y1="335.6" x2="146.6" y2="335.6" stroke="#ececec" stroke-width="0.6"/>
<line x1="103.6" y1="345.2" x2="146.6" y2="345.2" stroke="#ececec" stroke-width="0.6"/>
<line x1="104.2" y1="302.8" x2="104.2" y2="345.2" stroke="#ececec" stroke-width="0.6"/>
<line x1="112.2" y1="302.8" x2="112.2" y2="345.2" stroke="#ececec" stroke-width="0.6"/>
<line x1="121.6" y1="302.8" x2="121.6" y2="345.2" stroke="#ececec" stroke-width="0.6"/>
<line x1="131.2" y1="302.8" x2="131.2" y2="345.2" stroke="#ececec" stroke-width="0.6"/>
<line x1="140.2" y1="302.8" x2="140.2" y2="345.2" stroke="#ececec" stroke-width="0.6"/>
<rect x="103.6" y="302.8" width="43" height="42.4" fill="none" stroke="#222" stroke-width="1.1"/>
<line x1="102.1" y1="345.2" x2="103.6" y2="345.2" stroke="#222" stroke-width="0.7"/>
<line x1="102.1" y1="343.28" x2="103.6" y2="343.28" stroke="#222" stroke-width="0.7"/>
<line x1="102.1" y1="341.36" x2="103.6" y2="341.36" stroke="#222" stroke-width="0.7"/>
<line x1="102.1" y1="339.44" x2="103.6" y2="339.44" stroke="#222" stroke-width="0.7"/>
<line x1="102.1" y1="337.52" x2="103.6" y2="337.52" stroke="#222" stroke-width="0.7"/>
<line x1="102.1" y1="335.6" x2="103.6" y2="335.6" stroke="#222" stroke-width="0.7"/>
<line x1="102.1" y1="333.68" x2="103.6" y2="333.68" stroke="#222" stroke-width="0.7"/>
<line x1="102.1" y1="331.76" x2="103.6" y2="331.76" stroke="#222" stroke-width="0.7"/>
<line x1="102.1" y1="329.84" x2="103.6" y2="329.84" stroke="#222" stroke-width="0.7"/>
<line x1="102.1" y1="327.92" x2="103.6" y2="327.92" stroke="#222" stroke-width="0.7"/>
<line x1="102.1" y1="326" x2="103.6" y2="326" stroke="#222" stroke-width="0.7"/>
<line x1="102.1" y1="324.08" x2="103.6" y2="324.08" stroke="#222" stroke-width="0.7"/>
<line x1="102.1" y1="322.16" x2="103.6" y2="322.16" stroke="#222" stroke-width="0.7"/>
<line x1="102.1" y1="320.24" x2="103.6" y2="320.24" stroke="#222" stroke-width="0.7"/>
<line x1="102.1" y1="318.32" x2="103.6" y2="318.32" stroke="#222" stroke-width="0.7"/>
<line x1="102.1" y1="316.4" x2="103.6" y2="316.4" stroke="#222" stroke-width="0.7"/>
<line x1="102.1" y1="314.48" x2="103.6" y2="314.48" stroke="#222" stroke-width="0.7"/>
<line x1="102.1" y1="312.56" x2="103.6" y2="312.56" stroke="#222" stroke-width="0.7"/>
<line x1="102.1" y1="310.64" x2="103.6" y2="310.64" stroke="#222" stroke-width="0.7"/>
<line x1="102.1" y1="308.72" x2="103.6" y2="308.72" stroke="#222" stroke-width="0.7"/>
<line x1="102.1" y1="306.8" x2="103.6" y2="306.8" stroke="#222" stroke-width="0.7"/>
<line x1="102.1" y1="304.88" x2="103.6" y2="304.88" stroke="#222" stroke-width="0.7"/>
<line x1="104.2" y1="345.2" x2="104.2" y2="346.7" stroke="#222" stroke-width="0.7"/>
<line x1="106" y1="345.2" x2="106" y2="346.7" stroke="#222" stroke-width="0.7"/>
<line x1="107.8" y1="345.2" x2="107.8" y2="346.7" stroke="#222" stroke-width="0.7"/>
<line x1="109.6" y1="345.2" x2="109.6" y2="346.7" stroke="#222" stroke-width="0.7"/>
<line x1="111.4" y1="345.2" x2="111.4" y2="346.7" stroke="#222" stroke-width="0.7"/>
<line x1="113.2" y1="345.2" x2="113.2" y2="346.7" stroke="#222" stroke-width="0.7"/>
<line x1="115" y1="345.2" x2="115" y2="346.7" stroke="#222" stroke-width="0.7"/>
<line x1="116.8" y1="345.2" x2="116.8" y2="346.7" stroke="#222" stroke-width="0.7"/>
<line x1="118.6" y1="345.2" x2="118.6" y2="346.7" stroke="#222" stroke-width="0.7"/>
<line x1="120.4" y1="345.2" x2="120.4" y2="346.7" stroke="#222" stroke-width="0.7"/>
<line x1="122.2" y1="345.2" x2="122.2" y2="346.7" stroke="#222" stroke-width="0.7"/>
<line x1="124" y1="345.2" x2="124" y2="346.7" stroke="#222" stroke-width="0.7"/>
<line x1="125.8" y1="345.2" x2="125.8" y2="346.7" stroke="#222" stroke-width="0.7"/>
<line x1="127.6" y1="345.2" x2="127.6" y2="346.7" stroke="#222" stroke-width="0.7"/>
<line x1="129.4" y1="345.2" x2="129.4" y2="346.7" stroke="#222" stroke-width="0.7"/>
<line x1="131.2" y1="345.2" x2="131.2" y2="346.7" stroke="#222" stroke-width="0.7"/>
<line x1="133" y1="345.2" x2="133" y2="346.7" stroke="#222" stroke-width="0.7"/>
<line x1="134.8" y1="345.2" x2="134.8" y2="346.7" stroke="#222" stroke-width="0.7"/>
<line x1="136.6" y1="345.2" x2="136.6" y2="346.7" stroke="#222" stroke-width="0.7"/>
<line x1="138.4" y1="345.2" x2="138.4" y2="346.7" stroke="#222" stroke-width="0.7"/>
<line x1="140.2" y1="345.2" x2="140.2" y2="346.7" stroke="#222" stroke-width="0.7"/>
<line x1="142" y1="345.2" x2="142" y2="346.7" stroke="#222" stroke-width="0.7"/>
<line x1="143.8" y1="345.2" x2="143.8" y2="346.7" stroke="#222" stroke-width="0.7"/>
<line x1="145.6" y1="345.2" x2="145.6" y2="346.7" stroke="#222" stroke-width="0.7"/>
<line x1="100.6" y1="307" x2="103.6" y2="307" stroke="#222" stroke-width="0.9"/>
<text x="98.6" y="309.1" font-size="6" text-anchor="end" fill="#333" font-weight="normal" class="ns">20</text>
<line x1="100.6" y1="316.6" x2="103.6" y2="316.6" stroke="#222" stroke-width="0.9"/>
<text x="98.6" y="318.7" font-size="6" text-anchor="end" fill="#333" font-weight="normal" class="ns">15</text>
<line x1="100.6" y1="326.2" x2="103.6" y2="326.2" stroke="#222" stroke-width="0.9"/>
<text x="98.6" y="328.3" font-size="6" text-anchor="end" fill="#333" font-weight="normal" class="ns">10</text>
<line x1="100.6" y1="335.6" x2="103.6" y2="335.6" stroke="#222" stroke-width="0.9"/>
<text x="98.6" y="337.7" font-size="6" text-anchor="end" fill="#333" font-weight="normal" class="ns">5.0</text>
<line x1="100.6" y1="345.2" x2="103.6" y2="345.2" stroke="#222" stroke-width="0.9"/>
<text x="98.6" y="347.3" font-size="6" text-anchor="end" fill="#333" font-weight="normal" class="ns">0</text>
<line x1="104.2" y1="345.2" x2="104.2" y2="348.2" stroke="#222" stroke-width="0.9"/>
<text x="104.5" y="356" font-size="6" text-anchor="middle" fill="#333" font-weight="normal" class="ns">0</text>
<line x1="112.2" y1="345.2" x2="112.2" y2="348.2" stroke="#222" stroke-width="0.9"/>
<text x="112.5" y="356" font-size="6" text-anchor="middle" fill="#333" font-weight="normal" class="ns">5.0</text>
<line x1="121.6" y1="345.2" x2="121.6" y2="348.2" stroke="#222" stroke-width="0.9"/>
<text x="121.9" y="356" font-size="6" text-anchor="middle" fill="#333" font-weight="normal" class="ns">10</text>
<line x1="131.2" y1="345.2" x2="131.2" y2="348.2" stroke="#222" stroke-width="0.9"/>
<text x="131.5" y="356" font-size="6" text-anchor="middle" fill="#333" font-weight="normal" class="ns">15</text>
<line x1="140.2" y1="345.2" x2="140.2" y2="348.2" stroke="#222" stroke-width="0.9"/>
<text x="140.5" y="356" font-size="6" text-anchor="middle" fill="#333" font-weight="normal" class="ns">20</text>
<rect x="165.6" y="302.8" width="43.4" height="42.4" fill="none" stroke="#222" stroke-width="1.1"/>
<line x1="164.1" y1="345.2" x2="165.6" y2="345.2" stroke="#222" stroke-width="0.7"/>
<line x1="164.1" y1="343.28" x2="165.6" y2="343.28" stroke="#222" stroke-width="0.7"/>
<line x1="164.1" y1="341.36" x2="165.6" y2="341.36" stroke="#222" stroke-width="0.7"/>
<line x1="164.1" y1="339.44" x2="165.6" y2="339.44" stroke="#222" stroke-width="0.7"/>
<line x1="164.1" y1="337.52" x2="165.6" y2="337.52" stroke="#222" stroke-width="0.7"/>
<line x1="164.1" y1="335.6" x2="165.6" y2="335.6" stroke="#222" stroke-width="0.7"/>
<line x1="164.1" y1="333.68" x2="165.6" y2="333.68" stroke="#222" stroke-width="0.7"/>
<line x1="164.1" y1="331.76" x2="165.6" y2="331.76" stroke="#222" stroke-width="0.7"/>
<line x1="164.1" y1="329.84" x2="165.6" y2="329.84" stroke="#222" stroke-width="0.7"/>
<line x1="164.1" y1="327.92" x2="165.6" y2="327.92" stroke="#222" stroke-width="0.7"/>
<line x1="164.1" y1="326" x2="165.6" y2="326" stroke="#222" stroke-width="0.7"/>
<line x1="164.1" y1="324.08" x2="165.6" y2="324.08" stroke="#222" stroke-width="0.7"/>
<line x1="164.1" y1="322.16" x2="165.6" y2="322.16" stroke="#222" stroke-width="0.7"/>
<line x1="164.1" y1="320.24" x2="165.6" y2="320.24" stroke="#222" stroke-width="0.7"/>
<line x1="164.1" y1="318.32" x2="165.6" y2="318.32" stroke="#222" stroke-width="0.7"/>
<line x1="164.1" y1="316.4" x2="165.6" y2="316.4" stroke="#222" stroke-width="0.7"/>
<line x1="164.1" y1="314.48" x2="165.6" y2="314.48" stroke="#222" stroke-width="0.7"/>
<line x1="164.1" y1="312.56" x2="165.6" y2="312.56" stroke="#222" stroke-width="0.7"/>
<line x1="164.1" y1="310.64" x2="165.6" y2="310.64" stroke="#222" stroke-width="0.7"/>
<line x1="164.1" y1="308.72" x2="165.6" y2="308.72" stroke="#222" stroke-width="0.7"/>
<line x1="164.1" y1="306.8" x2="165.6" y2="306.8" stroke="#222" stroke-width="0.7"/>
<line x1="164.1" y1="304.88" x2="165.6" y2="304.88" stroke="#222" stroke-width="0.7"/>
<line x1="166.2" y1="345.2" x2="166.2" y2="346.7" stroke="#222" stroke-width="0.7"/>
<line x1="168" y1="345.2" x2="168" y2="346.7" stroke="#222" stroke-width="0.7"/>
<line x1="169.8" y1="345.2" x2="169.8" y2="346.7" stroke="#222" stroke-width="0.7"/>
<line x1="171.6" y1="345.2" x2="171.6" y2="346.7" stroke="#222" stroke-width="0.7"/>
<line x1="173.4" y1="345.2" x2="173.4" y2="346.7" stroke="#222" stroke-width="0.7"/>
<line x1="175.2" y1="345.2" x2="175.2" y2="346.7" stroke="#222" stroke-width="0.7"/>
<line x1="177" y1="345.2" x2="177" y2="346.7" stroke="#222" stroke-width="0.7"/>
<line x1="178.8" y1="345.2" x2="178.8" y2="346.7" stroke="#222" stroke-width="0.7"/>
<line x1="180.6" y1="345.2" x2="180.6" y2="346.7" stroke="#222" stroke-width="0.7"/>
<line x1="182.4" y1="345.2" x2="182.4" y2="346.7" stroke="#222" stroke-width="0.7"/>
<line x1="184.2" y1="345.2" x2="184.2" y2="346.7" stroke="#222" stroke-width="0.7"/>
<line x1="186" y1="345.2" x2="186" y2="346.7" stroke="#222" stroke-width="0.7"/>
<line x1="187.8" y1="345.2" x2="187.8" y2="346.7" stroke="#222" stroke-width="0.7"/>
<line x1="189.6" y1="345.2" x2="189.6" y2="346.7" stroke="#222" stroke-width="0.7"/>
<line x1="191.4" y1="345.2" x2="191.4" y2="346.7" stroke="#222" stroke-width="0.7"/>
<line x1="193.2" y1="345.2" x2="193.2" y2="346.7" stroke="#222" stroke-width="0.7"/>
<line x1="195" y1="345.2" x2="195" y2="346.7" stroke="#222" stroke-width="0.7"/>
<line x1="196.8" y1="345.2" x2="196.8" y2="346.7" stroke="#222" stroke-width="0.7"/>
<line x1="198.6" y1="345.2" x2="198.6" y2="346.7" stroke="#222" stroke-width="0.7"/>
<line x1="200.4" y1="345.2" x2="200.4" y2="346.7" stroke="#222" stroke-width="0.7"/>
<line x1="202.2" y1="345.2" x2="202.2" y2="346.7" stroke="#222" stroke-width="0.7"/>
<line x1="204" y1="345.2" x2="204" y2="346.7" stroke="#222" stroke-width="0.7"/>
<line x1="205.8" y1="345.2" x2="205.8" y2="346.7" stroke="#222" stroke-width="0.7"/>
<line x1="207.6" y1="345.2" x2="207.6" y2="346.7" stroke="#222" stroke-width="0.7"/>
<line x1="162.6" y1="307" x2="165.6" y2="307" stroke="#222" stroke-width="0.9"/>
<text x="160.6" y="309.1" font-size="6" text-anchor="end" fill="#333" font-weight="normal" class="ns">20</text>
<line x1="162.6" y1="316.6" x2="165.6" y2="316.6" stroke="#222" stroke-width="0.9"/>
<text x="160.6" y="318.7" font-size="6" text-anchor="end" fill="#333" font-weight="normal" class="ns">15</text>
<line x1="162.6" y1="326.2" x2="165.6" y2="326.2" stroke="#222" stroke-width="0.9"/>
<text x="160.6" y="328.3" font-size="6" text-anchor="end" fill="#333" font-weight="normal" class="ns">10</text>
<line x1="162.6" y1="335.6" x2="165.6" y2="335.6" stroke="#222" stroke-width="0.9"/>
<text x="160.6" y="337.7" font-size="6" text-anchor="end" fill="#333" font-weight="normal" class="ns">5.0</text>
<line x1="162.6" y1="345.2" x2="165.6" y2="345.2" stroke="#222" stroke-width="0.9"/>
<text x="160.6" y="347.3" font-size="6" text-anchor="end" fill="#333" font-weight="normal" class="ns">0</text>
<line x1="166.2" y1="345.2" x2="166.2" y2="348.2" stroke="#222" stroke-width="0.9"/>
<text x="166.5" y="356" font-size="6" text-anchor="middle" fill="#333" font-weight="normal" class="ns">0</text>
<line x1="174.2" y1="345.2" x2="174.2" y2="348.2" stroke="#222" stroke-width="0.9"/>
<text x="174.5" y="356" font-size="6" text-anchor="middle" fill="#333" font-weight="normal" class="ns">5.0</text>
<line x1="183.6" y1="345.2" x2="183.6" y2="348.2" stroke="#222" stroke-width="0.9"/>
<text x="183.9" y="356" font-size="6" text-anchor="middle" fill="#333" font-weight="normal" class="ns">10</text>
<line x1="193.2" y1="345.2" x2="193.2" y2="348.2" stroke="#222" stroke-width="0.9"/>
<text x="193.5" y="356" font-size="6" text-anchor="middle" fill="#333" font-weight="normal" class="ns">15</text>
<line x1="202.2" y1="345.2" x2="202.2" y2="348.2" stroke="#222" stroke-width="0.9"/>
<text x="202.5" y="356" font-size="6" text-anchor="middle" fill="#333" font-weight="normal" class="ns">20</text>
<line x1="225.8" y1="307" x2="268.6" y2="307" stroke="#ececec" stroke-width="0.6"/>
<line x1="225.8" y1="316.6" x2="268.6" y2="316.6" stroke="#ececec" stroke-width="0.6"/>
<line x1="225.8" y1="326.2" x2="268.6" y2="326.2" stroke="#ececec" stroke-width="0.6"/>
<line x1="225.8" y1="335.6" x2="268.6" y2="335.6" stroke="#ececec" stroke-width="0.6"/>
<line x1="225.8" y1="345.2" x2="268.6" y2="345.2" stroke="#ececec" stroke-width="0.6"/>
<line x1="226.4" y1="302.8" x2="226.4" y2="345.2" stroke="#ececec" stroke-width="0.6"/>
<line x1="234.4" y1="302.8" x2="234.4" y2="345.2" stroke="#ececec" stroke-width="0.6"/>
<line x1="243.8" y1="302.8" x2="243.8" y2="345.2" stroke="#ececec" stroke-width="0.6"/>
<line x1="253.4" y1="302.8" x2="253.4" y2="345.2" stroke="#ececec" stroke-width="0.6"/>
<line x1="262.4" y1="302.8" x2="262.4" y2="345.2" stroke="#ececec" stroke-width="0.6"/>
<rect x="225.8" y="302.8" width="42.8" height="42.4" fill="none" stroke="#222" stroke-width="1.1"/>
<line x1="224.3" y1="345.2" x2="225.8" y2="345.2" stroke="#222" stroke-width="0.7"/>
<line x1="224.3" y1="343.28" x2="225.8" y2="343.28" stroke="#222" stroke-width="0.7"/>
<line x1="224.3" y1="341.36" x2="225.8" y2="341.36" stroke="#222" stroke-width="0.7"/>
<line x1="224.3" y1="339.44" x2="225.8" y2="339.44" stroke="#222" stroke-width="0.7"/>
<line x1="224.3" y1="337.52" x2="225.8" y2="337.52" stroke="#222" stroke-width="0.7"/>
<line x1="224.3" y1="335.6" x2="225.8" y2="335.6" stroke="#222" stroke-width="0.7"/>
<line x1="224.3" y1="333.68" x2="225.8" y2="333.68" stroke="#222" stroke-width="0.7"/>
<line x1="224.3" y1="331.76" x2="225.8" y2="331.76" stroke="#222" stroke-width="0.7"/>
<line x1="224.3" y1="329.84" x2="225.8" y2="329.84" stroke="#222" stroke-width="0.7"/>
<line x1="224.3" y1="327.92" x2="225.8" y2="327.92" stroke="#222" stroke-width="0.7"/>
<line x1="224.3" y1="326" x2="225.8" y2="326" stroke="#222" stroke-width="0.7"/>
<line x1="224.3" y1="324.08" x2="225.8" y2="324.08" stroke="#222" stroke-width="0.7"/>
<line x1="224.3" y1="322.16" x2="225.8" y2="322.16" stroke="#222" stroke-width="0.7"/>
<line x1="224.3" y1="320.24" x2="225.8" y2="320.24" stroke="#222" stroke-width="0.7"/>
<line x1="224.3" y1="318.32" x2="225.8" y2="318.32" stroke="#222" stroke-width="0.7"/>
<line x1="224.3" y1="316.4" x2="225.8" y2="316.4" stroke="#222" stroke-width="0.7"/>
<line x1="224.3" y1="314.48" x2="225.8" y2="314.48" stroke="#222" stroke-width="0.7"/>
<line x1="224.3" y1="312.56" x2="225.8" y2="312.56" stroke="#222" stroke-width="0.7"/>
<line x1="224.3" y1="310.64" x2="225.8" y2="310.64" stroke="#222" stroke-width="0.7"/>
<line x1="224.3" y1="308.72" x2="225.8" y2="308.72" stroke="#222" stroke-width="0.7"/>
<line x1="224.3" y1="306.8" x2="225.8" y2="306.8" stroke="#222" stroke-width="0.7"/>
<line x1="224.3" y1="304.88" x2="225.8" y2="304.88" stroke="#222" stroke-width="0.7"/>
<line x1="226.4" y1="345.2" x2="226.4" y2="346.7" stroke="#222" stroke-width="0.7"/>
<line x1="228.2" y1="345.2" x2="228.2" y2="346.7" stroke="#222" stroke-width="0.7"/>
<line x1="230" y1="345.2" x2="230" y2="346.7" stroke="#222" stroke-width="0.7"/>
<line x1="231.8" y1="345.2" x2="231.8" y2="346.7" stroke="#222" stroke-width="0.7"/>
<line x1="233.6" y1="345.2" x2="233.6" y2="346.7" stroke="#222" stroke-width="0.7"/>
<line x1="235.4" y1="345.2" x2="235.4" y2="346.7" stroke="#222" stroke-width="0.7"/>
<line x1="237.2" y1="345.2" x2="237.2" y2="346.7" stroke="#222" stroke-width="0.7"/>
<line x1="239" y1="345.2" x2="239" y2="346.7" stroke="#222" stroke-width="0.7"/>
<line x1="240.8" y1="345.2" x2="240.8" y2="346.7" stroke="#222" stroke-width="0.7"/>
<line x1="242.6" y1="345.2" x2="242.6" y2="346.7" stroke="#222" stroke-width="0.7"/>
<line x1="244.4" y1="345.2" x2="244.4" y2="346.7" stroke="#222" stroke-width="0.7"/>
<line x1="246.2" y1="345.2" x2="246.2" y2="346.7" stroke="#222" stroke-width="0.7"/>
<line x1="248" y1="345.2" x2="248" y2="346.7" stroke="#222" stroke-width="0.7"/>
<line x1="249.8" y1="345.2" x2="249.8" y2="346.7" stroke="#222" stroke-width="0.7"/>
<line x1="251.6" y1="345.2" x2="251.6" y2="346.7" stroke="#222" stroke-width="0.7"/>
<line x1="253.4" y1="345.2" x2="253.4" y2="346.7" stroke="#222" stroke-width="0.7"/>
<line x1="255.2" y1="345.2" x2="255.2" y2="346.7" stroke="#222" stroke-width="0.7"/>
<line x1="257" y1="345.2" x2="257" y2="346.7" stroke="#222" stroke-width="0.7"/>
<line x1="258.8" y1="345.2" x2="258.8" y2="346.7" stroke="#222" stroke-width="0.7"/>
<line x1="260.6" y1="345.2" x2="260.6" y2="346.7" stroke="#222" stroke-width="0.7"/>
<line x1="262.4" y1="345.2" x2="262.4" y2="346.7" stroke="#222" stroke-width="0.7"/>
<line x1="264.2" y1="345.2" x2="264.2" y2="346.7" stroke="#222" stroke-width="0.7"/>
<line x1="266" y1="345.2" x2="266" y2="346.7" stroke="#222" stroke-width="0.7"/>
<line x1="267.8" y1="345.2" x2="267.8" y2="346.7" stroke="#222" stroke-width="0.7"/>
<line x1="222.8" y1="307" x2="225.8" y2="307" stroke="#222" stroke-width="0.9"/>
<text x="220.8" y="309.1" font-size="6" text-anchor="end" fill="#333" font-weight="normal" class="ns">20</text>
<line x1="222.8" y1="316.6" x2="225.8" y2="316.6" stroke="#222" stroke-width="0.9"/>
<text x="220.8" y="318.7" font-size="6" text-anchor="end" fill="#333" font-weight="normal" class="ns">15</text>
<line x1="222.8" y1="326.2" x2="225.8" y2="326.2" stroke="#222" stroke-width="0.9"/>
<text x="220.8" y="328.3" font-size="6" text-anchor="end" fill="#333" font-weight="normal" class="ns">10</text>
<line x1="222.8" y1="335.6" x2="225.8" y2="335.6" stroke="#222" stroke-width="0.9"/>
<text x="220.8" y="337.7" font-size="6" text-anchor="end" fill="#333" font-weight="normal" class="ns">5.0</text>
<line x1="222.8" y1="345.2" x2="225.8" y2="345.2" stroke="#222" stroke-width="0.9"/>
<text x="220.8" y="347.3" font-size="6" text-anchor="end" fill="#333" font-weight="normal" class="ns">0</text>
<line x1="226.4" y1="345.2" x2="226.4" y2="348.2" stroke="#222" stroke-width="0.9"/>
<text x="226.7" y="356" font-size="6" text-anchor="middle" fill="#333" font-weight="normal" class="ns">0</text>
<line x1="234.4" y1="345.2" x2="234.4" y2="348.2" stroke="#222" stroke-width="0.9"/>
<text x="234.7" y="356" font-size="6" text-anchor="middle" fill="#333" font-weight="normal" class="ns">5.0</text>
<line x1="243.8" y1="345.2" x2="243.8" y2="348.2" stroke="#222" stroke-width="0.9"/>
<text x="244.1" y="356" font-size="6" text-anchor="middle" fill="#333" font-weight="normal" class="ns">10</text>
<line x1="253.4" y1="345.2" x2="253.4" y2="348.2" stroke="#222" stroke-width="0.9"/>
<text x="253.7" y="356" font-size="6" text-anchor="middle" fill="#333" font-weight="normal" class="ns">15</text>
<line x1="262.4" y1="345.2" x2="262.4" y2="348.2" stroke="#222" stroke-width="0.9"/>
<text x="262.7" y="356" font-size="6" text-anchor="middle" fill="#333" font-weight="normal" class="ns">20</text>
<rect x="287.6" y="302.8" width="43.4" height="42.4" fill="none" stroke="#222" stroke-width="1.1"/>
<line x1="286.1" y1="345.2" x2="287.6" y2="345.2" stroke="#222" stroke-width="0.7"/>
<line x1="286.1" y1="343.28" x2="287.6" y2="343.28" stroke="#222" stroke-width="0.7"/>
<line x1="286.1" y1="341.36" x2="287.6" y2="341.36" stroke="#222" stroke-width="0.7"/>
<line x1="286.1" y1="339.44" x2="287.6" y2="339.44" stroke="#222" stroke-width="0.7"/>
<line x1="286.1" y1="337.52" x2="287.6" y2="337.52" stroke="#222" stroke-width="0.7"/>
<line x1="286.1" y1="335.6" x2="287.6" y2="335.6" stroke="#222" stroke-width="0.7"/>
<line x1="286.1" y1="333.68" x2="287.6" y2="333.68" stroke="#222" stroke-width="0.7"/>
<line x1="286.1" y1="331.76" x2="287.6" y2="331.76" stroke="#222" stroke-width="0.7"/>
<line x1="286.1" y1="329.84" x2="287.6" y2="329.84" stroke="#222" stroke-width="0.7"/>
<line x1="286.1" y1="327.92" x2="287.6" y2="327.92" stroke="#222" stroke-width="0.7"/>
<line x1="286.1" y1="326" x2="287.6" y2="326" stroke="#222" stroke-width="0.7"/>
<line x1="286.1" y1="324.08" x2="287.6" y2="324.08" stroke="#222" stroke-width="0.7"/>
<line x1="286.1" y1="322.16" x2="287.6" y2="322.16" stroke="#222" stroke-width="0.7"/>
<line x1="286.1" y1="320.24" x2="287.6" y2="320.24" stroke="#222" stroke-width="0.7"/>
<line x1="286.1" y1="318.32" x2="287.6" y2="318.32" stroke="#222" stroke-width="0.7"/>
<line x1="286.1" y1="316.4" x2="287.6" y2="316.4" stroke="#222" stroke-width="0.7"/>
<line x1="286.1" y1="314.48" x2="287.6" y2="314.48" stroke="#222" stroke-width="0.7"/>
<line x1="286.1" y1="312.56" x2="287.6" y2="312.56" stroke="#222" stroke-width="0.7"/>
<line x1="286.1" y1="310.64" x2="287.6" y2="310.64" stroke="#222" stroke-width="0.7"/>
<line x1="286.1" y1="308.72" x2="287.6" y2="308.72" stroke="#222" stroke-width="0.7"/>
<line x1="286.1" y1="306.8" x2="287.6" y2="306.8" stroke="#222" stroke-width="0.7"/>
<line x1="286.1" y1="304.88" x2="287.6" y2="304.88" stroke="#222" stroke-width="0.7"/>
<line x1="288.2" y1="345.2" x2="288.2" y2="346.7" stroke="#222" stroke-width="0.7"/>
<line x1="290" y1="345.2" x2="290" y2="346.7" stroke="#222" stroke-width="0.7"/>
<line x1="291.8" y1="345.2" x2="291.8" y2="346.7" stroke="#222" stroke-width="0.7"/>
<line x1="293.6" y1="345.2" x2="293.6" y2="346.7" stroke="#222" stroke-width="0.7"/>
<line x1="295.4" y1="345.2" x2="295.4" y2="346.7" stroke="#222" stroke-width="0.7"/>
<line x1="297.2" y1="345.2" x2="297.2" y2="346.7" stroke="#222" stroke-width="0.7"/>
<line x1="299" y1="345.2" x2="299" y2="346.7" stroke="#222" stroke-width="0.7"/>
<line x1="300.8" y1="345.2" x2="300.8" y2="346.7" stroke="#222" stroke-width="0.7"/>
<line x1="302.6" y1="345.2" x2="302.6" y2="346.7" stroke="#222" stroke-width="0.7"/>
<line x1="304.4" y1="345.2" x2="304.4" y2="346.7" stroke="#222" stroke-width="0.7"/>
<line x1="306.2" y1="345.2" x2="306.2" y2="346.7" stroke="#222" stroke-width="0.7"/>
<line x1="308" y1="345.2" x2="308" y2="346.7" stroke="#222" stroke-width="0.7"/>
<line x1="309.8" y1="345.2" x2="309.8" y2="346.7" stroke="#222" stroke-width="0.7"/>
<line x1="311.6" y1="345.2" x2="311.6" y2="346.7" stroke="#222" stroke-width="0.7"/>
<line x1="313.4" y1="345.2" x2="313.4" y2="346.7" stroke="#222" stroke-width="0.7"/>
<line x1="315.2" y1="345.2" x2="315.2" y2="346.7" stroke="#222" stroke-width="0.7"/>
<line x1="317" y1="345.2" x2="317" y2="346.7" stroke="#222" stroke-width="0.7"/>
<line x1="318.8" y1="345.2" x2="318.8" y2="346.7" stroke="#222" stroke-width="0.7"/>
<line x1="320.6" y1="345.2" x2="320.6" y2="346.7" stroke="#222" stroke-width="0.7"/>
<line x1="322.4" y1="345.2" x2="322.4" y2="346.7" stroke="#222" stroke-width="0.7"/>
<line x1="324.2" y1="345.2" x2="324.2" y2="346.7" stroke="#222" stroke-width="0.7"/>
<line x1="326" y1="345.2" x2="326" y2="346.7" stroke="#222" stroke-width="0.7"/>
<line x1="327.8" y1="345.2" x2="327.8" y2="346.7" stroke="#222" stroke-width="0.7"/>
<line x1="329.6" y1="345.2" x2="329.6" y2="346.7" stroke="#222" stroke-width="0.7"/>
<line x1="284.6" y1="307" x2="287.6" y2="307" stroke="#222" stroke-width="0.9"/>
<text x="282.6" y="309.1" font-size="6" text-anchor="end" fill="#333" font-weight="normal" class="ns">20</text>
<line x1="284.6" y1="316.6" x2="287.6" y2="316.6" stroke="#222" stroke-width="0.9"/>
<text x="282.6" y="318.7" font-size="6" text-anchor="end" fill="#333" font-weight="normal" class="ns">15</text>
<line x1="284.6" y1="326.2" x2="287.6" y2="326.2" stroke="#222" stroke-width="0.9"/>
<text x="282.6" y="328.3" font-size="6" text-anchor="end" fill="#333" font-weight="normal" class="ns">10</text>
<line x1="284.6" y1="335.6" x2="287.6" y2="335.6" stroke="#222" stroke-width="0.9"/>
<text x="282.6" y="337.7" font-size="6" text-anchor="end" fill="#333" font-weight="normal" class="ns">5.0</text>
<line x1="284.6" y1="345.2" x2="287.6" y2="345.2" stroke="#222" stroke-width="0.9"/>
<text x="282.6" y="347.3" font-size="6" text-anchor="end" fill="#333" font-weight="normal" class="ns">0</text>
<line x1="288.2" y1="345.2" x2="288.2" y2="348.2" stroke="#222" stroke-width="0.9"/>
<text x="288.5" y="356" font-size="6" text-anchor="middle" fill="#333" font-weight="normal" class="ns">0</text>
<line x1="296.2" y1="345.2" x2="296.2" y2="348.2" stroke="#222" stroke-width="0.9"/>
<text x="296.5" y="356" font-size="6" text-anchor="middle" fill="#333" font-weight="normal" class="ns">5.0</text>
<line x1="305.6" y1="345.2" x2="305.6" y2="348.2" stroke="#222" stroke-width="0.9"/>
<text x="305.9" y="356" font-size="6" text-anchor="middle" fill="#333" font-weight="normal" class="ns">10</text>
<line x1="315.2" y1="345.2" x2="315.2" y2="348.2" stroke="#222" stroke-width="0.9"/>
<text x="315.5" y="356" font-size="6" text-anchor="middle" fill="#333" font-weight="normal" class="ns">15</text>
<line x1="324.2" y1="345.2" x2="324.2" y2="348.2" stroke="#222" stroke-width="0.9"/>
<text x="324.5" y="356" font-size="6" text-anchor="middle" fill="#333" font-weight="normal" class="ns">20</text>
<line x1="346.8" y1="307" x2="389.6" y2="307" stroke="#ececec" stroke-width="0.6"/>
<line x1="346.8" y1="316.6" x2="389.6" y2="316.6" stroke="#ececec" stroke-width="0.6"/>
<line x1="346.8" y1="326.2" x2="389.6" y2="326.2" stroke="#ececec" stroke-width="0.6"/>
<line x1="346.8" y1="335.6" x2="389.6" y2="335.6" stroke="#ececec" stroke-width="0.6"/>
<line x1="346.8" y1="345.2" x2="389.6" y2="345.2" stroke="#ececec" stroke-width="0.6"/>
<line x1="347.4" y1="302.8" x2="347.4" y2="345.2" stroke="#ececec" stroke-width="0.6"/>
<line x1="355.4" y1="302.8" x2="355.4" y2="345.2" stroke="#ececec" stroke-width="0.6"/>
<line x1="364.8" y1="302.8" x2="364.8" y2="345.2" stroke="#ececec" stroke-width="0.6"/>
<line x1="374.4" y1="302.8" x2="374.4" y2="345.2" stroke="#ececec" stroke-width="0.6"/>
<line x1="383.4" y1="302.8" x2="383.4" y2="345.2" stroke="#ececec" stroke-width="0.6"/>
<rect x="346.8" y="302.8" width="42.8" height="42.4" fill="none" stroke="#222" stroke-width="1.1"/>
<line x1="345.3" y1="345.2" x2="346.8" y2="345.2" stroke="#222" stroke-width="0.7"/>
<line x1="345.3" y1="343.28" x2="346.8" y2="343.28" stroke="#222" stroke-width="0.7"/>
<line x1="345.3" y1="341.36" x2="346.8" y2="341.36" stroke="#222" stroke-width="0.7"/>
<line x1="345.3" y1="339.44" x2="346.8" y2="339.44" stroke="#222" stroke-width="0.7"/>
<line x1="345.3" y1="337.52" x2="346.8" y2="337.52" stroke="#222" stroke-width="0.7"/>
<line x1="345.3" y1="335.6" x2="346.8" y2="335.6" stroke="#222" stroke-width="0.7"/>
<line x1="345.3" y1="333.68" x2="346.8" y2="333.68" stroke="#222" stroke-width="0.7"/>
<line x1="345.3" y1="331.76" x2="346.8" y2="331.76" stroke="#222" stroke-width="0.7"/>
<line x1="345.3" y1="329.84" x2="346.8" y2="329.84" stroke="#222" stroke-width="0.7"/>
<line x1="345.3" y1="327.92" x2="346.8" y2="327.92" stroke="#222" stroke-width="0.7"/>
<line x1="345.3" y1="326" x2="346.8" y2="326" stroke="#222" stroke-width="0.7"/>
<line x1="345.3" y1="324.08" x2="346.8" y2="324.08" stroke="#222" stroke-width="0.7"/>
<line x1="345.3" y1="322.16" x2="346.8" y2="322.16" stroke="#222" stroke-width="0.7"/>
<line x1="345.3" y1="320.24" x2="346.8" y2="320.24" stroke="#222" stroke-width="0.7"/>
<line x1="345.3" y1="318.32" x2="346.8" y2="318.32" stroke="#222" stroke-width="0.7"/>
<line x1="345.3" y1="316.4" x2="346.8" y2="316.4" stroke="#222" stroke-width="0.7"/>
<line x1="345.3" y1="314.48" x2="346.8" y2="314.48" stroke="#222" stroke-width="0.7"/>
<line x1="345.3" y1="312.56" x2="346.8" y2="312.56" stroke="#222" stroke-width="0.7"/>
<line x1="345.3" y1="310.64" x2="346.8" y2="310.64" stroke="#222" stroke-width="0.7"/>
<line x1="345.3" y1="308.72" x2="346.8" y2="308.72" stroke="#222" stroke-width="0.7"/>
<line x1="345.3" y1="306.8" x2="346.8" y2="306.8" stroke="#222" stroke-width="0.7"/>
<line x1="345.3" y1="304.88" x2="346.8" y2="304.88" stroke="#222" stroke-width="0.7"/>
<line x1="347.4" y1="345.2" x2="347.4" y2="346.7" stroke="#222" stroke-width="0.7"/>
<line x1="349.2" y1="345.2" x2="349.2" y2="346.7" stroke="#222" stroke-width="0.7"/>
<line x1="351" y1="345.2" x2="351" y2="346.7" stroke="#222" stroke-width="0.7"/>
<line x1="352.8" y1="345.2" x2="352.8" y2="346.7" stroke="#222" stroke-width="0.7"/>
<line x1="354.6" y1="345.2" x2="354.6" y2="346.7" stroke="#222" stroke-width="0.7"/>
<line x1="356.4" y1="345.2" x2="356.4" y2="346.7" stroke="#222" stroke-width="0.7"/>
<line x1="358.2" y1="345.2" x2="358.2" y2="346.7" stroke="#222" stroke-width="0.7"/>
<line x1="360" y1="345.2" x2="360" y2="346.7" stroke="#222" stroke-width="0.7"/>
<line x1="361.8" y1="345.2" x2="361.8" y2="346.7" stroke="#222" stroke-width="0.7"/>
<line x1="363.6" y1="345.2" x2="363.6" y2="346.7" stroke="#222" stroke-width="0.7"/>
<line x1="365.4" y1="345.2" x2="365.4" y2="346.7" stroke="#222" stroke-width="0.7"/>
<line x1="367.2" y1="345.2" x2="367.2" y2="346.7" stroke="#222" stroke-width="0.7"/>
<line x1="369" y1="345.2" x2="369" y2="346.7" stroke="#222" stroke-width="0.7"/>
<line x1="370.8" y1="345.2" x2="370.8" y2="346.7" stroke="#222" stroke-width="0.7"/>
<line x1="372.6" y1="345.2" x2="372.6" y2="346.7" stroke="#222" stroke-width="0.7"/>
<line x1="374.4" y1="345.2" x2="374.4" y2="346.7" stroke="#222" stroke-width="0.7"/>
<line x1="376.2" y1="345.2" x2="376.2" y2="346.7" stroke="#222" stroke-width="0.7"/>
<line x1="378" y1="345.2" x2="378" y2="346.7" stroke="#222" stroke-width="0.7"/>
<line x1="379.8" y1="345.2" x2="379.8" y2="346.7" stroke="#222" stroke-width="0.7"/>
<line x1="381.6" y1="345.2" x2="381.6" y2="346.7" stroke="#222" stroke-width="0.7"/>
<line x1="383.4" y1="345.2" x2="383.4" y2="346.7" stroke="#222" stroke-width="0.7"/>
<line x1="385.2" y1="345.2" x2="385.2" y2="346.7" stroke="#222" stroke-width="0.7"/>
<line x1="387" y1="345.2" x2="387" y2="346.7" stroke="#222" stroke-width="0.7"/>
<line x1="388.8" y1="345.2" x2="388.8" y2="346.7" stroke="#222" stroke-width="0.7"/>
<line x1="343.8" y1="307" x2="346.8" y2="307" stroke="#222" stroke-width="0.9"/>
<text x="341.8" y="309.1" font-size="6" text-anchor="end" fill="#333" font-weight="normal" class="ns">20</text>
<line x1="343.8" y1="316.6" x2="346.8" y2="316.6" stroke="#222" stroke-width="0.9"/>
<text x="341.8" y="318.7" font-size="6" text-anchor="end" fill="#333" font-weight="normal" class="ns">15</text>
<line x1="343.8" y1="326.2" x2="346.8" y2="326.2" stroke="#222" stroke-width="0.9"/>
<text x="341.8" y="328.3" font-size="6" text-anchor="end" fill="#333" font-weight="normal" class="ns">10</text>
<line x1="343.8" y1="335.6" x2="346.8" y2="335.6" stroke="#222" stroke-width="0.9"/>
<text x="341.8" y="337.7" font-size="6" text-anchor="end" fill="#333" font-weight="normal" class="ns">5.0</text>
<line x1="343.8" y1="345.2" x2="346.8" y2="345.2" stroke="#222" stroke-width="0.9"/>
<text x="341.8" y="347.3" font-size="6" text-anchor="end" fill="#333" font-weight="normal" class="ns">0</text>
<line x1="347.4" y1="345.2" x2="347.4" y2="348.2" stroke="#222" stroke-width="0.9"/>
<text x="347.7" y="356" font-size="6" text-anchor="middle" fill="#333" font-weight="normal" class="ns">0</text>
<line x1="355.4" y1="345.2" x2="355.4" y2="348.2" stroke="#222" stroke-width="0.9"/>
<text x="355.7" y="356" font-size="6" text-anchor="middle" fill="#333" font-weight="normal" class="ns">5.0</text>
<line x1="364.8" y1="345.2" x2="364.8" y2="348.2" stroke="#222" stroke-width="0.9"/>
<text x="365.1" y="356" font-size="6" text-anchor="middle" fill="#333" font-weight="normal" class="ns">10</text>
<line x1="374.4" y1="345.2" x2="374.4" y2="348.2" stroke="#222" stroke-width="0.9"/>
<text x="374.7" y="356" font-size="6" text-anchor="middle" fill="#333" font-weight="normal" class="ns">15</text>
<line x1="383.4" y1="345.2" x2="383.4" y2="348.2" stroke="#222" stroke-width="0.9"/>
<text x="383.7" y="356" font-size="6" text-anchor="middle" fill="#333" font-weight="normal" class="ns">20</text>
<polygon points="67.5,320.5 67.5,319 71.5,316.1 76.7,314.3 80.2,314.3 83.1,316.7 82.5,319 80.8,324.2 79,329.4 77.3,331.1 72.7,331.7 72.1,327.6 73.3,321.3 71,319.5" fill="url(#gB1)" filter="url(#rough)"/>
<ellipse cx="78.5" cy="318" rx="2.5" ry="3.2" fill="#44a830" opacity="0.8" filter="url(#soft)"/>
<polyline points="71,316.8 80,316.2" fill="none" stroke="#3a8020" stroke-width="0.6" stroke-linecap="round" stroke-linejoin="round" />
<ellipse cx="70" cy="319.5" rx="2.5" ry="1.2" fill="#c8dc20" opacity="0.7" filter="url(#soft)"/>
<polyline points="77.2,320.5 76.2,326 75.6,331" fill="none" stroke="#f4f4d0" stroke-width="0.7" stroke-linecap="round" stroke-linejoin="round" opacity="0.8"/>
<polyline points="80.5,318.5 79.5,324" fill="none" stroke="#f0f0c0" stroke-width="0.5" stroke-linecap="round" stroke-linejoin="round" opacity="0.7"/>
<polygon points="122.6,323 126.7,319 129.5,319.5 129,322.4 124.9,324.2" fill="#d0dcf0" opacity="0.8" filter="url(#soft)"/>
<polygon points="130.7,327 137.6,326.5 137,329.9 133.6,332.2 130.7,331.7" fill="#f2a868" filter="url(#rough)"/>
<polygon points="130.1,314.9 134.2,313.8 134.2,317.2 135.3,320.7 139.4,321.8 139.9,324.7 137.6,327.6 133,328.2 130.7,325.3 129.5,319.5" fill="#c46c12" filter="url(#rough)"/>
<polygon points="134.2,313.8 138.8,313.5 142.2,316.1 141.7,319.5 139.4,321.8 135.3,320.7 134.2,317.2" fill="#72a820" filter="url(#rough)"/>
<polygon points="131.8,321.8 135.3,322.4 135.3,326.5 132.4,327.6 131.3,324.7" fill="#7a3000" filter="url(#rough)"/>
<ellipse cx="128.4" cy="316.9" rx="1.9" ry="1.3" fill="#2a3a1a" filter="url(#rough)"/>
<ellipse cx="133.2" cy="314" rx="0.8" ry="0.8" fill="#5a2a00" />
<ellipse cx="185.2" cy="319.3" rx="6.9" ry="5.9" fill="#f0d600" filter="url(#rough)"/>
<ellipse cx="184.2" cy="321" rx="4" ry="3.4" fill="#f2b600" opacity="0.75" filter="url(#soft)"/>
<ellipse cx="188.5" cy="315" rx="2.8" ry="1.6" fill="#b0d428" opacity="0.85" filter="url(#soft)"/>
<ellipse cx="189.5" cy="333.9" rx="5" ry="5.9" fill="#f0d200" filter="url(#rough)"/>
<ellipse cx="190" cy="336.3" rx="3.2" ry="3.2" fill="#f2b000" opacity="0.75" filter="url(#soft)"/>
<ellipse cx="187.5" cy="330.5" rx="2.2" ry="1.5" fill="#a8d030" opacity="0.85" filter="url(#soft)"/>
<polygon points="235.2,314 240,311.5 245.5,315 246,322.8 240,322.8 235.2,319" fill="#d4e4f6" opacity="0.8" filter="url(#soft2)"/>
<ellipse cx="247.5" cy="319.5" rx="6" ry="6" fill="#f2e2e8" opacity="0.8" filter="url(#soft2)"/>
<ellipse cx="249.3" cy="334.4" rx="5" ry="3" fill="#f8cca8" opacity="0.8" filter="url(#soft2)"/>
<polygon points="257.8,315 262,315.5 257.5,325 254,329.5 250,328.5 253.5,321.5" fill="#f2a452" opacity="0.85" filter="url(#soft)"/>
<polyline points="259.8,316.5 255.5,323.5 252.5,327" fill="none" stroke="#d88030" stroke-width="0.9" stroke-linecap="round" stroke-linejoin="round" filter="url(#soft)"/>
<polygon points="244.5,311.5 250,312 256,313.5 258.8,315.6 257,318.2 250,318.5 246,317" fill="#c07a22" filter="url(#rough)"/>
<polygon points="246,315 252,315.5 256,317.5 250,319.5 246.5,318.5" fill="#a44a10" filter="url(#rough)"/>
<polygon points="244.2,330 246.5,328.2 250,327.5 253.2,329 252.8,332 249,333.4 245.5,332.8" fill="#b04a08" filter="url(#rough)"/>
<ellipse cx="248.5" cy="331.3" rx="2.2" ry="1.3" fill="#e07424" opacity="0.7" filter="url(#soft)"/>
<polygon points="238.8,309.5 240.2,308.3 243.5,310.5 246.3,312.4 245.5,313.6 241.5,312.3 239,311.5" fill="#2e2820" filter="url(#rough)"/>
<ellipse cx="254.7" cy="321" rx="0.9" ry="0.9" fill="#303030" />
<ellipse cx="236.7" cy="320.4" rx="0.6" ry="0.6" fill="#404050" />
<ellipse cx="244.8" cy="308.6" rx="0.5" ry="0.5" fill="#606060" />
<polygon points="290.2,311 293,307.5 297,305.5 300.5,305.5 302.5,308 301.5,312 298,316.5 294.5,319.5 291,319 289.6,316" fill="url(#gB5)" filter="url(#rough)"/>
<polyline points="297.5,321.5 300.5,325.5 304.2,330" fill="none" stroke="#4a7a38" stroke-width="1" stroke-linecap="round" stroke-linejoin="round" />
<ellipse cx="297.6" cy="322.4" rx="0.9" ry="1.2" fill="#304030" />
<ellipse cx="305.6" cy="337" rx="3.6" ry="5.5" fill="url(#gB5b)" filter="url(#rough)"/>
<ellipse cx="354.9" cy="314.2" rx="4.6" ry="4.6" fill="#a8c8e8" filter="url(#rough)"/>
<ellipse cx="359.9" cy="308.9" rx="4" ry="3" fill="#5e4212" filter="url(#rough)"/>
<ellipse cx="363.6" cy="308.3" rx="1.6" ry="1.6" fill="#c8a040" opacity="0.8" filter="url(#soft)"/>
<ellipse cx="357" cy="319.8" rx="1" ry="2.2" fill="#5070c0" filter="url(#rough)"/>
<polyline points="357.5,321.5 360.6,326.1 362.7,329" fill="none" stroke="#5c9a40" stroke-width="1.3" stroke-linecap="round" stroke-linejoin="round" />
<ellipse cx="366.9" cy="337.4" rx="4.6" ry="3.6" fill="#f8b080" filter="url(#rough)"/>
<ellipse cx="366.2" cy="331.1" rx="3.5" ry="3.4" fill="#704010" filter="url(#rough)"/>
<ellipse cx="367.8" cy="330" rx="1.2" ry="1.2" fill="#c89030" opacity="0.8"/>
<ellipse cx="368.7" cy="313.1" rx="0.5" ry="0.5" fill="#505050" />
<ellipse cx="370.4" cy="315.6" rx="0.5" ry="0.5" fill="#505050" />
<ellipse cx="374" cy="315.6" rx="0.5" ry="0.5" fill="#505050" />
<rect x="291.3" y="85.6" width="35" height="5" fill="url(#rainbow)" />
<text x="291.3" y="83.2" font-size="6.2" text-anchor="start" fill="#2a2a2a" font-weight="normal" >Low</text>
<text x="326.2" y="83.2" font-size="6.2" text-anchor="end" fill="#2a2a2a" font-weight="normal" >High</text>
<line x1="399.4" y1="83.6" x2="399.4" y2="67.5" stroke="#111" stroke-width="1.1"/>
<line x1="399.4" y1="83.6" x2="381.5" y2="83.6" stroke="#111" stroke-width="1.1"/>
<polygon points="399.4,64.8 397.2,69 401.6,69" fill="#111"/>
<polygon points="379,83.6 383.2,81.4 383.2,85.8" fill="#111"/>
<text x="350.6" y="86.7" font-size="8.6" text-anchor="start" fill="#1a1a1a" font-weight="bold" textLength="24.4" lengthAdjust="spacingAndGlyphs" >UMAP_1</text>
<text x="0" y="0" font-size="8.7" font-weight="bold" fill="#1a1a1a" textLength="25" lengthAdjust="spacingAndGlyphs" transform="translate(395,36.1) rotate(90)">UMAP_2</text>
<rect x="291.3" y="368.3" width="35" height="5" fill="url(#rainbow)" />
<text x="291.3" y="365.9" font-size="6.2" text-anchor="start" fill="#2a2a2a" font-weight="normal" >Low</text>
<text x="326.2" y="365.9" font-size="6.2" text-anchor="end" fill="#2a2a2a" font-weight="normal" >High</text>
<line x1="399.4" y1="366.3" x2="399.4" y2="350.2" stroke="#111" stroke-width="1.1"/>
<line x1="399.4" y1="366.3" x2="381.5" y2="366.3" stroke="#111" stroke-width="1.1"/>
<polygon points="399.4,347.5 397.2,351.7 401.6,351.7" fill="#111"/>
<polygon points="379,366.3 383.2,364.1 383.2,368.5" fill="#111"/>
<text x="350.6" y="367.6" font-size="8.6" text-anchor="start" fill="#1a1a1a" font-weight="bold" textLength="24.4" lengthAdjust="spacingAndGlyphs" >UMAP_1</text>
<text x="0" y="0" font-size="8.7" font-weight="bold" fill="#1a1a1a" textLength="25" lengthAdjust="spacingAndGlyphs" transform="translate(395,318.8) rotate(90)">UMAP_2</text>
<rect x="419.3" y="20.5" width="11" height="4.1" fill="#b4d4ec" />
<text x="433.3" y="24.4" font-size="6.3" text-anchor="start" fill="#2e2e2e" font-weight="normal" textLength="13.6" lengthAdjust="spacingAndGlyphs" class="ns">Pop0</text>
<rect x="419.3" y="26.55" width="11" height="4.1" fill="#4a88cc" />
<text x="433.3" y="30.45" font-size="6.3" text-anchor="start" fill="#2e2e2e" font-weight="normal" textLength="13.6" lengthAdjust="spacingAndGlyphs" class="ns">Pop1</text>
<rect x="419.3" y="32.6" width="11" height="4.1" fill="#d6d6d6" />
<text x="433.3" y="36.5" font-size="6.3" text-anchor="start" fill="#2e2e2e" font-weight="normal" textLength="13.6" lengthAdjust="spacingAndGlyphs" class="ns">Pop2</text>
<rect x="419.3" y="38.65" width="11" height="4.1" fill="#6e6e6e" />
<text x="433.3" y="42.55" font-size="6.3" text-anchor="start" fill="#2e2e2e" font-weight="normal" textLength="13.6" lengthAdjust="spacingAndGlyphs" class="ns">Pop3</text>
<rect x="419.3" y="44.7" width="11" height="4.1" fill="#f8e4d6" />
<text x="433.3" y="48.6" font-size="6.3" text-anchor="start" fill="#2e2e2e" font-weight="normal" textLength="13.6" lengthAdjust="spacingAndGlyphs" class="ns">Pop4</text>
<rect x="419.3" y="50.75" width="11" height="4.1" fill="#e87a32" />
<text x="433.3" y="54.65" font-size="6.3" text-anchor="start" fill="#2e2e2e" font-weight="normal" textLength="13.6" lengthAdjust="spacingAndGlyphs" class="ns">Pop5</text>
<rect x="419.3" y="56.8" width="11" height="4.1" fill="#8a300a" />
<text x="433.3" y="60.7" font-size="6.3" text-anchor="start" fill="#2e2e2e" font-weight="normal" textLength="13.6" lengthAdjust="spacingAndGlyphs" class="ns">Pop6</text>
<rect x="419.3" y="62.85" width="11" height="4.1" fill="#bcd994" />
<text x="433.3" y="66.75" font-size="6.3" text-anchor="start" fill="#2e2e2e" font-weight="normal" textLength="13.6" lengthAdjust="spacingAndGlyphs" class="ns">Pop7</text>
<rect x="419.3" y="68.9" width="11" height="4.1" fill="#52b046" />
<text x="433.3" y="72.8" font-size="6.3" text-anchor="start" fill="#2e2e2e" font-weight="normal" textLength="13.6" lengthAdjust="spacingAndGlyphs" class="ns">Pop8</text>
<rect x="419.3" y="74.95" width="11" height="4.1" fill="#3a7a2e" />
<text x="433.3" y="78.85" font-size="6.3" text-anchor="start" fill="#2e2e2e" font-weight="normal" textLength="13.6" lengthAdjust="spacingAndGlyphs" class="ns">Pop9</text>
<rect x="419.3" y="306.4" width="11" height="4.1" fill="#b4d4ec" />
<text x="433.3" y="310.3" font-size="6.3" text-anchor="start" fill="#2e2e2e" font-weight="normal" textLength="13.6" lengthAdjust="spacingAndGlyphs" class="ns">Pop0</text>
<rect x="419.3" y="312.45" width="11" height="4.1" fill="#4a88cc" />
<text x="433.3" y="316.35" font-size="6.3" text-anchor="start" fill="#2e2e2e" font-weight="normal" textLength="13.6" lengthAdjust="spacingAndGlyphs" class="ns">Pop1</text>
<rect x="419.3" y="318.5" width="11" height="4.1" fill="#d6d6d6" />
<text x="433.3" y="322.4" font-size="6.3" text-anchor="start" fill="#2e2e2e" font-weight="normal" textLength="13.6" lengthAdjust="spacingAndGlyphs" class="ns">Pop2</text>
<rect x="419.3" y="324.55" width="11" height="4.1" fill="#6e6e6e" />
<text x="433.3" y="328.45" font-size="6.3" text-anchor="start" fill="#2e2e2e" font-weight="normal" textLength="13.6" lengthAdjust="spacingAndGlyphs" class="ns">Pop3</text>
<rect x="419.3" y="330.6" width="11" height="4.1" fill="#f8e4d6" />
<text x="433.3" y="334.5" font-size="6.3" text-anchor="start" fill="#2e2e2e" font-weight="normal" textLength="13.6" lengthAdjust="spacingAndGlyphs" class="ns">Pop4</text>
<rect x="419.3" y="336.65" width="11" height="4.1" fill="#e87a32" />
<text x="433.3" y="340.55" font-size="6.3" text-anchor="start" fill="#2e2e2e" font-weight="normal" textLength="13.6" lengthAdjust="spacingAndGlyphs" class="ns">Pop5</text>
<rect x="419.3" y="342.7" width="11" height="4.1" fill="#8a300a" />
<text x="433.3" y="346.6" font-size="6.3" text-anchor="start" fill="#2e2e2e" font-weight="normal" textLength="13.6" lengthAdjust="spacingAndGlyphs" class="ns">Pop6</text>
<rect x="419.3" y="348.75" width="11" height="4.1" fill="#bcd994" />
<text x="433.3" y="352.65" font-size="6.3" text-anchor="start" fill="#2e2e2e" font-weight="normal" textLength="13.6" lengthAdjust="spacingAndGlyphs" class="ns">Pop7</text>
<rect x="419.3" y="354.8" width="11" height="4.1" fill="#52b046" />
<text x="433.3" y="358.7" font-size="6.3" text-anchor="start" fill="#2e2e2e" font-weight="normal" textLength="13.6" lengthAdjust="spacingAndGlyphs" class="ns">Pop8</text>
<rect x="419.3" y="360.85" width="11" height="4.1" fill="#3a7a2e" />
<text x="433.3" y="364.75" font-size="6.3" text-anchor="start" fill="#2e2e2e" font-weight="normal" textLength="13.6" lengthAdjust="spacingAndGlyphs" class="ns">Pop9</text>
<text x="0" y="0" font-size="9.9" font-weight="bold" text-anchor="middle" fill="#1a1a1a" textLength="14.1" lengthAdjust="spacingAndGlyphs" transform="translate(27.1,43.75) rotate(-90)">CD34</text>
<text x="0" y="0" font-size="9.9" font-weight="bold" text-anchor="middle" fill="#1a1a1a" textLength="11.1" lengthAdjust="spacingAndGlyphs" transform="translate(27.1,324.35) rotate(-90)">CD3</text>
<rect x="64.15" y="196.7" width="11" height="35.7" fill="#8a8b00" />
<rect x="64.15" y="116.33" width="11" height="76.27" fill="#8a8b00" />
<rect x="64.15" y="114.72" width="11" height="1.61" fill="#e88a30" />
<rect x="77.12" y="196.7" width="11" height="35.7" fill="#8a8b00" />
<rect x="77.12" y="169.02" width="11" height="23.58" fill="#8a8b00" />
<rect x="77.12" y="162.99" width="11" height="6.02" fill="#7cb62a" />
<rect x="77.12" y="159.48" width="11" height="3.51" fill="#9a4a05" />
<rect x="77.12" y="144.43" width="11" height="15.05" fill="#fcd07c" />
<rect x="77.12" y="142.92" width="11" height="1.51" fill="#a8c8e0" />
<rect x="77.12" y="141.92" width="11" height="1" fill="#8aa8c0" />
<rect x="77.12" y="140.62" width="11" height="1.3" fill="#bcdcf4" />
<rect x="90.09" y="229.28" width="11" height="3.12" fill="#8a8b00" />
<rect x="90.09" y="225.71" width="11" height="3.57" fill="#7cb62a" />
<rect x="90.09" y="196.7" width="11" height="29.01" fill="#9a4a05" />
<rect x="90.09" y="181.06" width="11" height="11.54" fill="#9a4a05" />
<rect x="90.09" y="156.47" width="11" height="24.59" fill="#fcd07c" />
<rect x="90.09" y="155.47" width="11" height="1" fill="#b0b0b0" />
<rect x="90.09" y="148.44" width="11" height="7.03" fill="#bcdcf4" />
<rect x="103.06" y="231.06" width="11" height="1.34" fill="#8a8b00" />
<rect x="103.06" y="224.59" width="11" height="6.47" fill="#9a4a05" />
<rect x="103.06" y="214.55" width="11" height="10.04" fill="#fcd07c" />
<rect x="103.06" y="213.21" width="11" height="1.34" fill="#a0a0a0" />
<rect x="103.06" y="210.98" width="11" height="2.23" fill="#bcdcf4" />
<rect x="116.03" y="196.7" width="11" height="35.7" fill="#8a8b00" />
<rect x="116.03" y="115.83" width="11" height="76.77" fill="#8a8b00" />
<rect x="116.03" y="114.12" width="11" height="1.71" fill="#e88a30" />
<line x1="57.8" y1="106.1" x2="57.8" y2="193.4" stroke="#1c1c1c" stroke-width="1"/>
<line x1="57.8" y1="195.9" x2="57.8" y2="232.4" stroke="#1c1c1c" stroke-width="1"/>
<line x1="56" y1="194.4" x2="59.6" y2="192.2" stroke="#1c1c1c" stroke-width="0.9"/>
<line x1="56" y1="197.1" x2="59.6" y2="194.9" stroke="#1c1c1c" stroke-width="0.9"/>
<line x1="55.2" y1="108.3" x2="57.8" y2="108.3" stroke="#1c1c1c" stroke-width="0.9"/>
<text x="51.8" y="110.3" font-size="5.8" text-anchor="end" fill="#2a2a2a" font-weight="normal" >100</text>
<line x1="55.2" y1="128.37" x2="57.8" y2="128.37" stroke="#1c1c1c" stroke-width="0.9"/>
<text x="51.8" y="130.37" font-size="5.8" text-anchor="end" fill="#2a2a2a" font-weight="normal" >80</text>
<line x1="55.2" y1="148.44" x2="57.8" y2="148.44" stroke="#1c1c1c" stroke-width="0.9"/>
<text x="51.8" y="150.44" font-size="5.8" text-anchor="end" fill="#2a2a2a" font-weight="normal" >60</text>
<line x1="55.2" y1="168.51" x2="57.8" y2="168.51" stroke="#1c1c1c" stroke-width="0.9"/>
<text x="51.8" y="170.51" font-size="5.8" text-anchor="end" fill="#2a2a2a" font-weight="normal" >40</text>
<line x1="55.2" y1="188.59" x2="57.8" y2="188.59" stroke="#1c1c1c" stroke-width="0.9"/>
<text x="51.8" y="190.59" font-size="5.8" text-anchor="end" fill="#2a2a2a" font-weight="normal" >20</text>
<line x1="55.2" y1="196.7" x2="57.8" y2="196.7" stroke="#1c1c1c" stroke-width="0.9"/>
<text x="51.8" y="198.7" font-size="5.8" text-anchor="end" fill="#2a2a2a" font-weight="normal" >16</text>
<line x1="55.2" y1="205.62" x2="57.8" y2="205.62" stroke="#1c1c1c" stroke-width="0.9"/>
<text x="51.8" y="207.62" font-size="5.8" text-anchor="end" fill="#2a2a2a" font-weight="normal" >12</text>
<line x1="55.2" y1="214.55" x2="57.8" y2="214.55" stroke="#1c1c1c" stroke-width="0.9"/>
<text x="51.8" y="216.55" font-size="5.8" text-anchor="end" fill="#2a2a2a" font-weight="normal" >8</text>
<line x1="55.2" y1="223.47" x2="57.8" y2="223.47" stroke="#1c1c1c" stroke-width="0.9"/>
<text x="51.8" y="225.47" font-size="5.8" text-anchor="end" fill="#2a2a2a" font-weight="normal" >4</text>
<line x1="55.2" y1="232.4" x2="57.8" y2="232.4" stroke="#1c1c1c" stroke-width="0.9"/>
<text x="51.8" y="234.4" font-size="5.8" text-anchor="end" fill="#2a2a2a" font-weight="normal" >0</text>
<line x1="57.3" y1="232.4" x2="132.6" y2="232.4" stroke="#1c1c1c" stroke-width="1.1"/>
<line x1="69.65" y1="232.4" x2="69.65" y2="235" stroke="#1c1c1c" stroke-width="0.9"/>
<text x="0" y="0" font-size="5.9" text-anchor="end" fill="#2a2a2a" transform="translate(72.55,241.8) rotate(-45)">Control</text>
<line x1="82.62" y1="232.4" x2="82.62" y2="235" stroke="#1c1c1c" stroke-width="0.9"/>
<text x="0" y="0" font-size="5.9" text-anchor="end" fill="#2a2a2a" transform="translate(85.52,241.8) rotate(-45)">CD123 TCE</text>
<line x1="95.59" y1="232.4" x2="95.59" y2="235" stroke="#1c1c1c" stroke-width="0.9"/>
<text x="0" y="0" font-size="5.9" text-anchor="end" fill="#2a2a2a" transform="translate(98.49,241.8) rotate(-45)">CD33 TCE</text>
<line x1="108.56" y1="232.4" x2="108.56" y2="235" stroke="#1c1c1c" stroke-width="0.9"/>
<text x="0" y="0" font-size="5.9" text-anchor="end" fill="#2a2a2a" transform="translate(111.46,241.8) rotate(-45)">CD33/CD123 TCE</text>
<line x1="121.53" y1="232.4" x2="121.53" y2="235" stroke="#1c1c1c" stroke-width="0.9"/>
<text x="0" y="0" font-size="5.9" text-anchor="end" fill="#2a2a2a" transform="translate(124.43,241.8) rotate(-45)">Untargeted TCE</text>
<rect x="185.55" y="202.5" width="11" height="29.8" fill="#c8dc78" />
<rect x="185.55" y="201.07" width="11" height="1.44" fill="#e8a030" />
<rect x="185.55" y="196.4" width="11" height="4.67" fill="#9a4a05" />
<rect x="185.55" y="166.28" width="11" height="26.32" fill="#9a4a05" />
<rect x="185.55" y="164.87" width="11" height="1.41" fill="#fbb850" />
<rect x="185.55" y="162.52" width="11" height="2.35" fill="#fcd8a0" />
<rect x="185.55" y="133.38" width="11" height="29.14" fill="#d4d4d4" />
<rect x="185.55" y="131.5" width="11" height="1.88" fill="#c8dff0" />
<rect x="185.55" y="111.29" width="11" height="20.21" fill="#5a94c8" />
<rect x="185.55" y="109.88" width="11" height="1.41" fill="#4a6a8c" />
<rect x="198.52" y="223.33" width="11" height="8.97" fill="#3c3c3c" />
<rect x="198.52" y="221.53" width="11" height="1.8" fill="#d4d4d4" />
<rect x="211.49" y="229.07" width="11" height="3.23" fill="#9a4a05" />
<rect x="211.49" y="227.99" width="11" height="1.08" fill="#e8a040" />
<rect x="211.49" y="222.61" width="11" height="5.39" fill="#3c3c3c" />
<rect x="211.49" y="217.58" width="11" height="5.03" fill="#d4d4d4" />
<rect x="211.49" y="213.99" width="11" height="3.59" fill="#5a94c8" />
<rect x="224.46" y="227.99" width="11" height="4.31" fill="#3c3c3c" />
<rect x="224.46" y="226.92" width="11" height="1.08" fill="#d4d4d4" />
<rect x="237.43" y="224.4" width="11" height="7.9" fill="#8a8b00" />
<rect x="237.43" y="215.79" width="11" height="8.62" fill="#7cb62a" />
<rect x="237.43" y="197.48" width="11" height="18.31" fill="#c8dc78" />
<rect x="237.43" y="196.4" width="11" height="1.08" fill="#e8e8a0" />
<rect x="237.43" y="188.84" width="11" height="3.76" fill="#e8e8a0" />
<rect x="237.43" y="149.83" width="11" height="39.01" fill="#9a4a05" />
<rect x="237.43" y="143.25" width="11" height="6.58" fill="#f49a10" />
<rect x="237.43" y="132.44" width="11" height="10.81" fill="#fcd07c" />
<rect x="237.43" y="123.98" width="11" height="8.46" fill="#d4d4d4" />
<rect x="237.43" y="110.82" width="11" height="13.16" fill="#5a94c8" />
<rect x="237.43" y="109.41" width="11" height="1.41" fill="#4a6a8c" />
<line x1="179.2" y1="105.8" x2="179.2" y2="193.4" stroke="#1c1c1c" stroke-width="1"/>
<line x1="179.2" y1="195.6" x2="179.2" y2="232.3" stroke="#1c1c1c" stroke-width="1"/>
<line x1="177.4" y1="194.4" x2="181" y2="192.2" stroke="#1c1c1c" stroke-width="0.9"/>
<line x1="177.4" y1="196.8" x2="181" y2="194.6" stroke="#1c1c1c" stroke-width="0.9"/>
<line x1="176.6" y1="108" x2="179.2" y2="108" stroke="#1c1c1c" stroke-width="0.9"/>
<text x="173.2" y="110" font-size="5.8" text-anchor="end" fill="#2a2a2a" font-weight="normal" >100</text>
<line x1="176.6" y1="126.8" x2="179.2" y2="126.8" stroke="#1c1c1c" stroke-width="0.9"/>
<text x="173.2" y="128.8" font-size="5.8" text-anchor="end" fill="#2a2a2a" font-weight="normal" >80</text>
<line x1="176.6" y1="145.6" x2="179.2" y2="145.6" stroke="#1c1c1c" stroke-width="0.9"/>
<text x="173.2" y="147.6" font-size="5.8" text-anchor="end" fill="#2a2a2a" font-weight="normal" >60</text>
<line x1="176.6" y1="164.4" x2="179.2" y2="164.4" stroke="#1c1c1c" stroke-width="0.9"/>
<text x="173.2" y="166.4" font-size="5.8" text-anchor="end" fill="#2a2a2a" font-weight="normal" >40</text>
<line x1="176.6" y1="183.2" x2="179.2" y2="183.2" stroke="#1c1c1c" stroke-width="0.9"/>
<text x="173.2" y="185.2" font-size="5.8" text-anchor="end" fill="#2a2a2a" font-weight="normal" >20</text>
<line x1="176.6" y1="196.4" x2="179.2" y2="196.4" stroke="#1c1c1c" stroke-width="0.9"/>
<text x="173.2" y="198.4" font-size="5.8" text-anchor="end" fill="#2a2a2a" font-weight="normal" >10</text>
<line x1="176.6" y1="203.58" x2="179.2" y2="203.58" stroke="#1c1c1c" stroke-width="0.9"/>
<text x="173.2" y="205.58" font-size="5.8" text-anchor="end" fill="#2a2a2a" font-weight="normal" >8</text>
<line x1="176.6" y1="210.76" x2="179.2" y2="210.76" stroke="#1c1c1c" stroke-width="0.9"/>
<text x="173.2" y="212.76" font-size="5.8" text-anchor="end" fill="#2a2a2a" font-weight="normal" >6</text>
<line x1="176.6" y1="217.94" x2="179.2" y2="217.94" stroke="#1c1c1c" stroke-width="0.9"/>
<text x="173.2" y="219.94" font-size="5.8" text-anchor="end" fill="#2a2a2a" font-weight="normal" >4</text>
<line x1="176.6" y1="225.12" x2="179.2" y2="225.12" stroke="#1c1c1c" stroke-width="0.9"/>
<text x="173.2" y="227.12" font-size="5.8" text-anchor="end" fill="#2a2a2a" font-weight="normal" >2</text>
<line x1="176.6" y1="232.3" x2="179.2" y2="232.3" stroke="#1c1c1c" stroke-width="0.9"/>
<text x="173.2" y="234.3" font-size="5.8" text-anchor="end" fill="#2a2a2a" font-weight="normal" >0</text>
<line x1="178.7" y1="232.3" x2="254" y2="232.3" stroke="#1c1c1c" stroke-width="1.1"/>
<line x1="191.05" y1="232.3" x2="191.05" y2="234.9" stroke="#1c1c1c" stroke-width="0.9"/>
<text x="0" y="0" font-size="5.9" text-anchor="end" fill="#2a2a2a" transform="translate(193.95,241.7) rotate(-45)">Control</text>
<line x1="204.02" y1="232.3" x2="204.02" y2="234.9" stroke="#1c1c1c" stroke-width="0.9"/>
<text x="0" y="0" font-size="5.9" text-anchor="end" fill="#2a2a2a" transform="translate(206.92,241.7) rotate(-45)">CD123 TCE</text>
<line x1="216.99" y1="232.3" x2="216.99" y2="234.9" stroke="#1c1c1c" stroke-width="0.9"/>
<text x="0" y="0" font-size="5.9" text-anchor="end" fill="#2a2a2a" transform="translate(219.89,241.7) rotate(-45)">CD33 TCE</text>
<line x1="229.96" y1="232.3" x2="229.96" y2="234.9" stroke="#1c1c1c" stroke-width="0.9"/>
<text x="0" y="0" font-size="5.9" text-anchor="end" fill="#2a2a2a" transform="translate(232.86,241.7) rotate(-45)">CD33/CD123 TCE</text>
<line x1="242.93" y1="232.3" x2="242.93" y2="234.9" stroke="#1c1c1c" stroke-width="0.9"/>
<text x="0" y="0" font-size="5.9" text-anchor="end" fill="#2a2a2a" transform="translate(245.83,241.7) rotate(-45)">Untargeted TCE</text>
<rect x="310.55" y="230.51" width="11" height="1.79" fill="#8a8b00" />
<rect x="310.55" y="226.92" width="11" height="3.59" fill="#7cb62a" />
<rect x="310.55" y="196.4" width="11" height="30.52" fill="#9a4a05" />
<rect x="310.55" y="122.4" width="11" height="70.2" fill="#9a4a05" />
<rect x="310.55" y="119.11" width="11" height="3.3" fill="#fcd060" />
<rect x="310.55" y="114.4" width="11" height="4.71" fill="#d4d4d4" />
<rect x="323.52" y="229.79" width="11" height="2.51" fill="#9a4a05" />
<rect x="323.52" y="215.07" width="11" height="14.72" fill="#fcd07c" />
<rect x="323.52" y="213.63" width="11" height="1.44" fill="#503018" />
<rect x="336.49" y="230.51" width="11" height="1.79" fill="#9a4a05" />
<rect x="336.49" y="224.4" width="11" height="6.1" fill="#fcd07c" />
<rect x="336.49" y="213.63" width="11" height="10.77" fill="#3a4048" />
<rect x="349.46" y="229.79" width="11" height="2.51" fill="#9a4a05" />
<rect x="349.46" y="224.04" width="11" height="5.74" fill="#fcd07c" />
<rect x="349.46" y="217.22" width="11" height="6.82" fill="#3a4048" />
<rect x="362.43" y="230.51" width="11" height="1.79" fill="#8a8b00" />
<rect x="362.43" y="226.92" width="11" height="3.59" fill="#7cb62a" />
<rect x="362.43" y="196.4" width="11" height="30.52" fill="#9a4a05" />
<rect x="362.43" y="134.18" width="11" height="58.42" fill="#9a4a05" />
<rect x="362.43" y="132.3" width="11" height="1.88" fill="#fcd060" />
<rect x="362.43" y="130.41" width="11" height="1.88" fill="#fde4b0" />
<rect x="362.43" y="119.58" width="11" height="10.84" fill="#d4d4d4" />
<line x1="304.2" y1="105.6" x2="304.2" y2="193.4" stroke="#1c1c1c" stroke-width="1"/>
<line x1="304.2" y1="195.6" x2="304.2" y2="232.3" stroke="#1c1c1c" stroke-width="1"/>
<line x1="302.4" y1="194.4" x2="306" y2="192.2" stroke="#1c1c1c" stroke-width="0.9"/>
<line x1="302.4" y1="196.8" x2="306" y2="194.6" stroke="#1c1c1c" stroke-width="0.9"/>
<line x1="301.6" y1="107.8" x2="304.2" y2="107.8" stroke="#1c1c1c" stroke-width="0.9"/>
<text x="298.2" y="109.8" font-size="5.8" text-anchor="end" fill="#2a2a2a" font-weight="normal" >100</text>
<line x1="301.6" y1="126.64" x2="304.2" y2="126.64" stroke="#1c1c1c" stroke-width="0.9"/>
<text x="298.2" y="128.64" font-size="5.8" text-anchor="end" fill="#2a2a2a" font-weight="normal" >80</text>
<line x1="301.6" y1="145.49" x2="304.2" y2="145.49" stroke="#1c1c1c" stroke-width="0.9"/>
<text x="298.2" y="147.49" font-size="5.8" text-anchor="end" fill="#2a2a2a" font-weight="normal" >60</text>
<line x1="301.6" y1="164.33" x2="304.2" y2="164.33" stroke="#1c1c1c" stroke-width="0.9"/>
<text x="298.2" y="166.33" font-size="5.8" text-anchor="end" fill="#2a2a2a" font-weight="normal" >40</text>
<line x1="301.6" y1="183.18" x2="304.2" y2="183.18" stroke="#1c1c1c" stroke-width="0.9"/>
<text x="298.2" y="185.18" font-size="5.8" text-anchor="end" fill="#2a2a2a" font-weight="normal" >20</text>
<line x1="301.6" y1="196.4" x2="304.2" y2="196.4" stroke="#1c1c1c" stroke-width="0.9"/>
<text x="298.2" y="198.4" font-size="5.8" text-anchor="end" fill="#2a2a2a" font-weight="normal" >10</text>
<line x1="301.6" y1="203.58" x2="304.2" y2="203.58" stroke="#1c1c1c" stroke-width="0.9"/>
<text x="298.2" y="205.58" font-size="5.8" text-anchor="end" fill="#2a2a2a" font-weight="normal" >8</text>
<line x1="301.6" y1="210.76" x2="304.2" y2="210.76" stroke="#1c1c1c" stroke-width="0.9"/>
<text x="298.2" y="212.76" font-size="5.8" text-anchor="end" fill="#2a2a2a" font-weight="normal" >6</text>
<line x1="301.6" y1="217.94" x2="304.2" y2="217.94" stroke="#1c1c1c" stroke-width="0.9"/>
<text x="298.2" y="219.94" font-size="5.8" text-anchor="end" fill="#2a2a2a" font-weight="normal" >4</text>
<line x1="301.6" y1="225.12" x2="304.2" y2="225.12" stroke="#1c1c1c" stroke-width="0.9"/>
<text x="298.2" y="227.12" font-size="5.8" text-anchor="end" fill="#2a2a2a" font-weight="normal" >2</text>
<line x1="301.6" y1="232.3" x2="304.2" y2="232.3" stroke="#1c1c1c" stroke-width="0.9"/>
<text x="298.2" y="234.3" font-size="5.8" text-anchor="end" fill="#2a2a2a" font-weight="normal" >0</text>
<line x1="303.7" y1="232.3" x2="379" y2="232.3" stroke="#1c1c1c" stroke-width="1.1"/>
<line x1="316.05" y1="232.3" x2="316.05" y2="234.9" stroke="#1c1c1c" stroke-width="0.9"/>
<text x="0" y="0" font-size="5.9" text-anchor="end" fill="#2a2a2a" transform="translate(318.95,241.7) rotate(-45)">Control</text>
<line x1="329.02" y1="232.3" x2="329.02" y2="234.9" stroke="#1c1c1c" stroke-width="0.9"/>
<text x="0" y="0" font-size="5.9" text-anchor="end" fill="#2a2a2a" transform="translate(331.92,241.7) rotate(-45)">CD123 TCE</text>
<line x1="341.99" y1="232.3" x2="341.99" y2="234.9" stroke="#1c1c1c" stroke-width="0.9"/>
<text x="0" y="0" font-size="5.9" text-anchor="end" fill="#2a2a2a" transform="translate(344.89,241.7) rotate(-45)">CD33 TCE</text>
<line x1="354.96" y1="232.3" x2="354.96" y2="234.9" stroke="#1c1c1c" stroke-width="0.9"/>
<text x="0" y="0" font-size="5.9" text-anchor="end" fill="#2a2a2a" transform="translate(357.86,241.7) rotate(-45)">CD33/CD123 TCE</text>
<line x1="367.93" y1="232.3" x2="367.93" y2="234.9" stroke="#1c1c1c" stroke-width="0.9"/>
<text x="0" y="0" font-size="5.9" text-anchor="end" fill="#2a2a2a" transform="translate(370.83,241.7) rotate(-45)">Untargeted TCE</text>
<rect x="64.25" y="508.85" width="11" height="6.15" fill="#8a8b00" />
<rect x="64.25" y="504.5" width="11" height="4.34" fill="#7cb62a" />
<rect x="64.25" y="495.45" width="11" height="9.05" fill="#c8dc78" />
<rect x="77.22" y="494" width="11" height="21" fill="#8a8b00" />
<rect x="77.22" y="488.94" width="11" height="5.07" fill="#7cb62a" />
<rect x="77.22" y="487.85" width="11" height="1.09" fill="#c0dc60" />
<rect x="77.22" y="478.8" width="11" height="9.05" fill="#9a4a05" />
<rect x="77.22" y="475.01" width="11" height="0.19" fill="#9a4a05" />
<rect x="77.22" y="473.32" width="11" height="1.69" fill="#9a4a05" />
<rect x="77.22" y="471.91" width="11" height="1.41" fill="#8a4000" />
<rect x="77.22" y="460.63" width="11" height="11.28" fill="#f08c0a" />
<rect x="77.22" y="457.34" width="11" height="3.29" fill="#fcd07c" />
<rect x="77.22" y="455.93" width="11" height="1.41" fill="#fde0a0" />
<rect x="77.22" y="454.99" width="11" height="0.94" fill="#c8a070" />
<rect x="90.19" y="492.19" width="11" height="22.81" fill="#8a8b00" />
<rect x="90.19" y="478.8" width="11" height="13.39" fill="#7cb62a" />
<rect x="90.19" y="475.01" width="11" height="0.19" fill="#7cb62a" />
<rect x="90.19" y="474.26" width="11" height="0.75" fill="#e0e090" />
<rect x="90.19" y="472.85" width="11" height="1.41" fill="#8a4000" />
<rect x="90.19" y="456.87" width="11" height="15.98" fill="#f08c0a" />
<rect x="90.19" y="451.23" width="11" height="5.64" fill="#fcd07c" />
<rect x="90.19" y="449.82" width="11" height="1.41" fill="#404040" />
<rect x="90.19" y="449.07" width="11" height="0.75" fill="#bcdcf4" />
<rect x="103.16" y="480.97" width="11" height="34.03" fill="#8a8b00" />
<rect x="103.16" y="478.8" width="11" height="2.17" fill="#7cb62a" />
<rect x="103.16" y="474.92" width="11" height="0.28" fill="#7cb62a" />
<rect x="103.16" y="474.45" width="11" height="0.47" fill="#fff0d0" />
<rect x="103.16" y="472.85" width="11" height="1.6" fill="#8a4000" />
<rect x="103.16" y="419.27" width="11" height="53.58" fill="#f08c0a" />
<rect x="103.16" y="407.52" width="11" height="11.75" fill="#fcd07c" />
<rect x="103.16" y="403.29" width="11" height="4.23" fill="#303030" />
<rect x="103.16" y="400.47" width="11" height="2.82" fill="#bcdcf4" />
<rect x="116.13" y="507.4" width="11" height="7.6" fill="#8a8b00" />
<rect x="116.13" y="503.42" width="11" height="3.98" fill="#7cb62a" />
<rect x="116.13" y="496.9" width="11" height="6.52" fill="#c8dc78" />
<line x1="57.9" y1="388.4" x2="57.9" y2="476" stroke="#1c1c1c" stroke-width="1"/>
<line x1="57.9" y1="478" x2="57.9" y2="515" stroke="#1c1c1c" stroke-width="1"/>
<line x1="56.1" y1="477" x2="59.7" y2="474.8" stroke="#1c1c1c" stroke-width="0.9"/>
<line x1="56.1" y1="479.2" x2="59.7" y2="477" stroke="#1c1c1c" stroke-width="0.9"/>
<line x1="55.3" y1="390.6" x2="57.9" y2="390.6" stroke="#1c1c1c" stroke-width="0.9"/>
<text x="51.9" y="392.6" font-size="5.8" text-anchor="end" fill="#2a2a2a" font-weight="normal" >100</text>
<line x1="55.3" y1="409.4" x2="57.9" y2="409.4" stroke="#1c1c1c" stroke-width="0.9"/>
<text x="51.9" y="411.4" font-size="5.8" text-anchor="end" fill="#2a2a2a" font-weight="normal" >80</text>
<line x1="55.3" y1="428.2" x2="57.9" y2="428.2" stroke="#1c1c1c" stroke-width="0.9"/>
<text x="51.9" y="430.2" font-size="5.8" text-anchor="end" fill="#2a2a2a" font-weight="normal" >60</text>
<line x1="55.3" y1="447" x2="57.9" y2="447" stroke="#1c1c1c" stroke-width="0.9"/>
<text x="51.9" y="449" font-size="5.8" text-anchor="end" fill="#2a2a2a" font-weight="normal" >40</text>
<line x1="55.3" y1="465.8" x2="57.9" y2="465.8" stroke="#1c1c1c" stroke-width="0.9"/>
<text x="51.9" y="467.8" font-size="5.8" text-anchor="end" fill="#2a2a2a" font-weight="normal" >20</text>
<line x1="55.3" y1="478.8" x2="57.9" y2="478.8" stroke="#1c1c1c" stroke-width="0.9"/>
<text x="51.9" y="480.8" font-size="5.8" text-anchor="end" fill="#2a2a2a" font-weight="normal" >10</text>
<line x1="55.3" y1="486.04" x2="57.9" y2="486.04" stroke="#1c1c1c" stroke-width="0.9"/>
<text x="51.9" y="488.04" font-size="5.8" text-anchor="end" fill="#2a2a2a" font-weight="normal" >8</text>
<line x1="55.3" y1="493.28" x2="57.9" y2="493.28" stroke="#1c1c1c" stroke-width="0.9"/>
<text x="51.9" y="495.28" font-size="5.8" text-anchor="end" fill="#2a2a2a" font-weight="normal" >6</text>
<line x1="55.3" y1="500.52" x2="57.9" y2="500.52" stroke="#1c1c1c" stroke-width="0.9"/>
<text x="51.9" y="502.52" font-size="5.8" text-anchor="end" fill="#2a2a2a" font-weight="normal" >4</text>
<line x1="55.3" y1="507.76" x2="57.9" y2="507.76" stroke="#1c1c1c" stroke-width="0.9"/>
<text x="51.9" y="509.76" font-size="5.8" text-anchor="end" fill="#2a2a2a" font-weight="normal" >2</text>
<line x1="55.3" y1="515" x2="57.9" y2="515" stroke="#1c1c1c" stroke-width="0.9"/>
<text x="51.9" y="517" font-size="5.8" text-anchor="end" fill="#2a2a2a" font-weight="normal" >0</text>
<line x1="57.4" y1="515" x2="132.7" y2="515" stroke="#1c1c1c" stroke-width="1.1"/>
<line x1="69.75" y1="515" x2="69.75" y2="517.6" stroke="#1c1c1c" stroke-width="0.9"/>
<text x="0" y="0" font-size="5.9" text-anchor="end" fill="#2a2a2a" transform="translate(72.65,524.4) rotate(-45)">Control</text>
<line x1="82.72" y1="515" x2="82.72" y2="517.6" stroke="#1c1c1c" stroke-width="0.9"/>
<text x="0" y="0" font-size="5.9" text-anchor="end" fill="#2a2a2a" transform="translate(85.62,524.4) rotate(-45)">CD123 TCE</text>
<line x1="95.69" y1="515" x2="95.69" y2="517.6" stroke="#1c1c1c" stroke-width="0.9"/>
<text x="0" y="0" font-size="5.9" text-anchor="end" fill="#2a2a2a" transform="translate(98.59,524.4) rotate(-45)">CD33 TCE</text>
<line x1="108.66" y1="515" x2="108.66" y2="517.6" stroke="#1c1c1c" stroke-width="0.9"/>
<text x="0" y="0" font-size="5.9" text-anchor="end" fill="#2a2a2a" transform="translate(111.56,524.4) rotate(-45)">CD33/CD123 TCE</text>
<line x1="121.63" y1="515" x2="121.63" y2="517.6" stroke="#1c1c1c" stroke-width="0.9"/>
<text x="0" y="0" font-size="5.9" text-anchor="end" fill="#2a2a2a" transform="translate(124.53,524.4) rotate(-45)">Untargeted TCE</text>
<rect x="185.55" y="513.55" width="11" height="1.45" fill="#606030" />
<rect x="185.55" y="512.1" width="11" height="1.45" fill="#b0b040" />
<rect x="185.55" y="508.48" width="11" height="3.62" fill="#d8d8e0" />
<rect x="198.52" y="512.83" width="11" height="2.17" fill="#6a3000" />
<rect x="198.52" y="504.5" width="11" height="8.33" fill="#9a4a05" />
<rect x="198.52" y="481.33" width="11" height="23.17" fill="#f08c0a" />
<rect x="198.52" y="478.8" width="11" height="2.53" fill="#fcd07c" />
<rect x="198.52" y="436.66" width="11" height="38.54" fill="#fcd07c" />
<rect x="198.52" y="429.61" width="11" height="7.05" fill="#3c3c3c" />
<rect x="198.52" y="394.36" width="11" height="35.25" fill="#bcdcf4" />
<rect x="211.49" y="512.1" width="11" height="2.9" fill="#9a4a05" />
<rect x="211.49" y="499.43" width="11" height="12.67" fill="#f08c0a" />
<rect x="211.49" y="478.8" width="11" height="20.63" fill="#fcd07c" />
<rect x="211.49" y="463.92" width="11" height="11.28" fill="#fcd07c" />
<rect x="211.49" y="457.34" width="11" height="6.58" fill="#3c3c3c" />
<rect x="211.49" y="395.3" width="11" height="62.04" fill="#bcdcf4" />
<rect x="224.46" y="508.48" width="11" height="6.52" fill="#9a4a05" />
<rect x="224.46" y="486.76" width="11" height="21.72" fill="#f08c0a" />
<rect x="224.46" y="478.8" width="11" height="7.96" fill="#fcd07c" />
<rect x="224.46" y="444.65" width="11" height="30.55" fill="#fcd07c" />
<rect x="224.46" y="434.78" width="11" height="9.87" fill="#3c3c3c" />
<rect x="224.46" y="392.95" width="11" height="41.83" fill="#bcdcf4" />
<rect x="237.43" y="512.83" width="11" height="2.17" fill="#605e40" />
<line x1="179.2" y1="388.4" x2="179.2" y2="476" stroke="#1c1c1c" stroke-width="1"/>
<line x1="179.2" y1="478" x2="179.2" y2="515" stroke="#1c1c1c" stroke-width="1"/>
<line x1="177.4" y1="477" x2="181" y2="474.8" stroke="#1c1c1c" stroke-width="0.9"/>
<line x1="177.4" y1="479.2" x2="181" y2="477" stroke="#1c1c1c" stroke-width="0.9"/>
<line x1="176.6" y1="390.6" x2="179.2" y2="390.6" stroke="#1c1c1c" stroke-width="0.9"/>
<text x="173.2" y="392.6" font-size="5.8" text-anchor="end" fill="#2a2a2a" font-weight="normal" >100</text>
<line x1="176.6" y1="409.4" x2="179.2" y2="409.4" stroke="#1c1c1c" stroke-width="0.9"/>
<text x="173.2" y="411.4" font-size="5.8" text-anchor="end" fill="#2a2a2a" font-weight="normal" >80</text>
<line x1="176.6" y1="428.2" x2="179.2" y2="428.2" stroke="#1c1c1c" stroke-width="0.9"/>
<text x="173.2" y="430.2" font-size="5.8" text-anchor="end" fill="#2a2a2a" font-weight="normal" >60</text>
<line x1="176.6" y1="447" x2="179.2" y2="447" stroke="#1c1c1c" stroke-width="0.9"/>
<text x="173.2" y="449" font-size="5.8" text-anchor="end" fill="#2a2a2a" font-weight="normal" >40</text>
<line x1="176.6" y1="465.8" x2="179.2" y2="465.8" stroke="#1c1c1c" stroke-width="0.9"/>
<text x="173.2" y="467.8" font-size="5.8" text-anchor="end" fill="#2a2a2a" font-weight="normal" >20</text>
<line x1="176.6" y1="478.8" x2="179.2" y2="478.8" stroke="#1c1c1c" stroke-width="0.9"/>
<text x="173.2" y="480.8" font-size="5.8" text-anchor="end" fill="#2a2a2a" font-weight="normal" >10</text>
<line x1="176.6" y1="486.04" x2="179.2" y2="486.04" stroke="#1c1c1c" stroke-width="0.9"/>
<text x="173.2" y="488.04" font-size="5.8" text-anchor="end" fill="#2a2a2a" font-weight="normal" >8</text>
<line x1="176.6" y1="493.28" x2="179.2" y2="493.28" stroke="#1c1c1c" stroke-width="0.9"/>
<text x="173.2" y="495.28" font-size="5.8" text-anchor="end" fill="#2a2a2a" font-weight="normal" >6</text>
<line x1="176.6" y1="500.52" x2="179.2" y2="500.52" stroke="#1c1c1c" stroke-width="0.9"/>
<text x="173.2" y="502.52" font-size="5.8" text-anchor="end" fill="#2a2a2a" font-weight="normal" >4</text>
<line x1="176.6" y1="507.76" x2="179.2" y2="507.76" stroke="#1c1c1c" stroke-width="0.9"/>
<text x="173.2" y="509.76" font-size="5.8" text-anchor="end" fill="#2a2a2a" font-weight="normal" >2</text>
<line x1="176.6" y1="515" x2="179.2" y2="515" stroke="#1c1c1c" stroke-width="0.9"/>
<text x="173.2" y="517" font-size="5.8" text-anchor="end" fill="#2a2a2a" font-weight="normal" >0</text>
<line x1="178.7" y1="515" x2="254" y2="515" stroke="#1c1c1c" stroke-width="1.1"/>
<line x1="191.05" y1="515" x2="191.05" y2="517.6" stroke="#1c1c1c" stroke-width="0.9"/>
<text x="0" y="0" font-size="5.9" text-anchor="end" fill="#2a2a2a" transform="translate(193.95,524.4) rotate(-45)">Control</text>
<line x1="204.02" y1="515" x2="204.02" y2="517.6" stroke="#1c1c1c" stroke-width="0.9"/>
<text x="0" y="0" font-size="5.9" text-anchor="end" fill="#2a2a2a" transform="translate(206.92,524.4) rotate(-45)">CD123 TCE</text>
<line x1="216.99" y1="515" x2="216.99" y2="517.6" stroke="#1c1c1c" stroke-width="0.9"/>
<text x="0" y="0" font-size="5.9" text-anchor="end" fill="#2a2a2a" transform="translate(219.89,524.4) rotate(-45)">CD33 TCE</text>
<line x1="229.96" y1="515" x2="229.96" y2="517.6" stroke="#1c1c1c" stroke-width="0.9"/>
<text x="0" y="0" font-size="5.9" text-anchor="end" fill="#2a2a2a" transform="translate(232.86,524.4) rotate(-45)">CD33/CD123 TCE</text>
<line x1="242.93" y1="515" x2="242.93" y2="517.6" stroke="#1c1c1c" stroke-width="0.9"/>
<text x="0" y="0" font-size="5.9" text-anchor="end" fill="#2a2a2a" transform="translate(245.83,524.4) rotate(-45)">Untargeted TCE</text>
<rect x="310.55" y="510.29" width="11" height="4.71" fill="#7cb62a" />
<rect x="310.55" y="504.14" width="11" height="6.15" fill="#d0e090" />
<rect x="310.55" y="493.64" width="11" height="10.5" fill="#d4d4d4" />
<rect x="323.52" y="511.02" width="11" height="3.98" fill="#7cb62a" />
<rect x="323.52" y="509.21" width="11" height="1.81" fill="#d0e090" />
<rect x="323.52" y="505.95" width="11" height="3.26" fill="#8a4000" />
<rect x="323.52" y="493.64" width="11" height="12.31" fill="#f08c0a" />
<rect x="323.52" y="478.8" width="11" height="14.84" fill="#fcd07c" />
<rect x="323.52" y="456.4" width="11" height="18.8" fill="#fcd07c" />
<rect x="323.52" y="447.47" width="11" height="8.93" fill="#383838" />
<rect x="323.52" y="443.71" width="11" height="3.76" fill="#6890b8" />
<rect x="323.52" y="396.24" width="11" height="47.47" fill="#bcdcf4" />
<rect x="336.49" y="512.47" width="11" height="2.53" fill="#7cb62a" />
<rect x="336.49" y="510.66" width="11" height="1.81" fill="#d0e090" />
<rect x="336.49" y="508.12" width="11" height="2.53" fill="#8a4000" />
<rect x="336.49" y="496.18" width="11" height="11.95" fill="#f08c0a" />
<rect x="336.49" y="478.8" width="11" height="17.38" fill="#fcd07c" />
<rect x="336.49" y="455.93" width="11" height="19.27" fill="#fcd07c" />
<rect x="336.49" y="446.53" width="11" height="9.4" fill="#383838" />
<rect x="336.49" y="445.12" width="11" height="1.41" fill="#e8eef4" />
<rect x="336.49" y="442.77" width="11" height="2.35" fill="#6890b8" />
<rect x="336.49" y="396.24" width="11" height="46.53" fill="#bcdcf4" />
<rect x="349.46" y="511.38" width="11" height="3.62" fill="#7cb62a" />
<rect x="349.46" y="509.57" width="11" height="1.81" fill="#d0e090" />
<rect x="349.46" y="507.04" width="11" height="2.53" fill="#8a4000" />
<rect x="349.46" y="493.64" width="11" height="13.39" fill="#f08c0a" />
<rect x="349.46" y="478.8" width="11" height="14.84" fill="#fcd07c" />
<rect x="349.46" y="452.17" width="11" height="23.03" fill="#fcd07c" />
<rect x="349.46" y="441.83" width="11" height="10.34" fill="#383838" />
<rect x="349.46" y="439.48" width="11" height="2.35" fill="#6890b8" />
<rect x="349.46" y="395.3" width="11" height="44.18" fill="#bcdcf4" />
<rect x="362.43" y="507.4" width="11" height="7.6" fill="#7cb62a" />
<rect x="362.43" y="494" width="11" height="13.39" fill="#d0e090" />
<rect x="362.43" y="492.19" width="11" height="1.81" fill="#506020" />
<rect x="362.43" y="478.8" width="11" height="13.39" fill="#d4d4d4" />
<rect x="362.43" y="474.82" width="11" height="0.38" fill="#d4d4d4" />
<line x1="304.2" y1="388.4" x2="304.2" y2="476" stroke="#1c1c1c" stroke-width="1"/>
<line x1="304.2" y1="478" x2="304.2" y2="515" stroke="#1c1c1c" stroke-width="1"/>
<line x1="302.4" y1="477" x2="306" y2="474.8" stroke="#1c1c1c" stroke-width="0.9"/>
<line x1="302.4" y1="479.2" x2="306" y2="477" stroke="#1c1c1c" stroke-width="0.9"/>
<line x1="301.6" y1="390.6" x2="304.2" y2="390.6" stroke="#1c1c1c" stroke-width="0.9"/>
<text x="298.2" y="392.6" font-size="5.8" text-anchor="end" fill="#2a2a2a" font-weight="normal" >100</text>
<line x1="301.6" y1="409.4" x2="304.2" y2="409.4" stroke="#1c1c1c" stroke-width="0.9"/>
<text x="298.2" y="411.4" font-size="5.8" text-anchor="end" fill="#2a2a2a" font-weight="normal" >80</text>
<line x1="301.6" y1="428.2" x2="304.2" y2="428.2" stroke="#1c1c1c" stroke-width="0.9"/>
<text x="298.2" y="430.2" font-size="5.8" text-anchor="end" fill="#2a2a2a" font-weight="normal" >60</text>
<line x1="301.6" y1="447" x2="304.2" y2="447" stroke="#1c1c1c" stroke-width="0.9"/>
<text x="298.2" y="449" font-size="5.8" text-anchor="end" fill="#2a2a2a" font-weight="normal" >40</text>
<line x1="301.6" y1="465.8" x2="304.2" y2="465.8" stroke="#1c1c1c" stroke-width="0.9"/>
<text x="298.2" y="467.8" font-size="5.8" text-anchor="end" fill="#2a2a2a" font-weight="normal" >20</text>
<line x1="301.6" y1="478.8" x2="304.2" y2="478.8" stroke="#1c1c1c" stroke-width="0.9"/>
<text x="298.2" y="480.8" font-size="5.8" text-anchor="end" fill="#2a2a2a" font-weight="normal" >10</text>
<line x1="301.6" y1="486.04" x2="304.2" y2="486.04" stroke="#1c1c1c" stroke-width="0.9"/>
<text x="298.2" y="488.04" font-size="5.8" text-anchor="end" fill="#2a2a2a" font-weight="normal" >8</text>
<line x1="301.6" y1="493.28" x2="304.2" y2="493.28" stroke="#1c1c1c" stroke-width="0.9"/>
<text x="298.2" y="495.28" font-size="5.8" text-anchor="end" fill="#2a2a2a" font-weight="normal" >6</text>
<line x1="301.6" y1="500.52" x2="304.2" y2="500.52" stroke="#1c1c1c" stroke-width="0.9"/>
<text x="298.2" y="502.52" font-size="5.8" text-anchor="end" fill="#2a2a2a" font-weight="normal" >4</text>
<line x1="301.6" y1="507.76" x2="304.2" y2="507.76" stroke="#1c1c1c" stroke-width="0.9"/>
<text x="298.2" y="509.76" font-size="5.8" text-anchor="end" fill="#2a2a2a" font-weight="normal" >2</text>
<line x1="301.6" y1="515" x2="304.2" y2="515" stroke="#1c1c1c" stroke-width="0.9"/>
<text x="298.2" y="517" font-size="5.8" text-anchor="end" fill="#2a2a2a" font-weight="normal" >0</text>
<line x1="303.7" y1="515" x2="379" y2="515" stroke="#1c1c1c" stroke-width="1.1"/>
<line x1="316.05" y1="515" x2="316.05" y2="517.6" stroke="#1c1c1c" stroke-width="0.9"/>
<text x="0" y="0" font-size="5.9" text-anchor="end" fill="#2a2a2a" transform="translate(318.95,524.4) rotate(-45)">Control</text>
<line x1="329.02" y1="515" x2="329.02" y2="517.6" stroke="#1c1c1c" stroke-width="0.9"/>
<text x="0" y="0" font-size="5.9" text-anchor="end" fill="#2a2a2a" transform="translate(331.92,524.4) rotate(-45)">CD123 TCE</text>
<line x1="341.99" y1="515" x2="341.99" y2="517.6" stroke="#1c1c1c" stroke-width="0.9"/>
<text x="0" y="0" font-size="5.9" text-anchor="end" fill="#2a2a2a" transform="translate(344.89,524.4) rotate(-45)">CD33 TCE</text>
<line x1="354.96" y1="515" x2="354.96" y2="517.6" stroke="#1c1c1c" stroke-width="0.9"/>
<text x="0" y="0" font-size="5.9" text-anchor="end" fill="#2a2a2a" transform="translate(357.86,524.4) rotate(-45)">CD33/CD123 TCE</text>
<line x1="367.93" y1="515" x2="367.93" y2="517.6" stroke="#1c1c1c" stroke-width="0.9"/>
<text x="0" y="0" font-size="5.9" text-anchor="end" fill="#2a2a2a" transform="translate(370.83,524.4) rotate(-45)">Untargeted TCE</text>
<text x="0" y="0" font-size="7.4" font-weight="bold" text-anchor="middle" fill="#1a1a1a" textLength="27.6" lengthAdjust="spacingAndGlyphs" transform="translate(36.3,169.1) rotate(-90)">Subset (%%)</text>
<text x="0" y="0" font-size="7.4" font-weight="bold" text-anchor="middle" fill="#1a1a1a" textLength="27.6" lengthAdjust="spacingAndGlyphs" transform="translate(36.3,452.0) rotate(-90)">Subset (%%)</text>
<line x1="481" y1="104.1" x2="508.6" y2="104.1" stroke="#d0d0d0" stroke-width="0.6"/>
<line x1="481" y1="111.3" x2="508.6" y2="111.3" stroke="#d0d0d0" stroke-width="0.6"/>
<line x1="481" y1="128.2" x2="508.6" y2="128.2" stroke="#d4d4d4" stroke-width="0.6"/>
<line x1="481" y1="136.2" x2="508.6" y2="136.2" stroke="#d4d4d4" stroke-width="0.6"/>
<line x1="481" y1="144.2" x2="508.6" y2="144.2" stroke="#d4d4d4" stroke-width="0.6"/>
<line x1="481" y1="152.2" x2="508.6" y2="152.2" stroke="#d4d4d4" stroke-width="0.6"/>
<line x1="481" y1="160.2" x2="508.6" y2="160.2" stroke="#d4d4d4" stroke-width="0.6"/>
<line x1="481" y1="168.2" x2="508.6" y2="168.2" stroke="#d4d4d4" stroke-width="0.6"/>
<line x1="481" y1="176.2" x2="508.6" y2="176.2" stroke="#d4d4d4" stroke-width="0.6"/>
<line x1="481" y1="184.2" x2="508.6" y2="184.2" stroke="#d4d4d4" stroke-width="0.6"/>
<line x1="481" y1="192.2" x2="508.6" y2="192.2" stroke="#d4d4d4" stroke-width="0.6"/>
<line x1="481" y1="200.2" x2="508.6" y2="200.2" stroke="#d4d4d4" stroke-width="0.6"/>
<line x1="481" y1="208.2" x2="508.6" y2="208.2" stroke="#d4d4d4" stroke-width="0.6"/>
<line x1="481" y1="216.2" x2="508.6" y2="216.2" stroke="#d4d4d4" stroke-width="0.6"/>
<line x1="481" y1="224.2" x2="508.6" y2="224.2" stroke="#d4d4d4" stroke-width="0.6"/>
<line x1="481" y1="232.2" x2="508.6" y2="232.2" stroke="#d4d4d4" stroke-width="0.6"/>
<line x1="481" y1="240.2" x2="508.6" y2="240.2" stroke="#d4d4d4" stroke-width="0.6"/>
<line x1="508.6" y1="104.1" x2="508.6" y2="240.2" stroke="#d0d0d0" stroke-width="0.6"/>
<rect x="397.7" y="104.1" width="7.76" height="6.7" fill="#b8d8ee" />
<rect x="397.7" y="111.6" width="7.76" height="16.3" fill="#ffffff" stroke="#c8c8c8" stroke-width="0.5"/>
<text x="0" y="0" font-size="6.0" fill="#2a2a2a" style="stroke-width:0.14px" textLength="13.3" lengthAdjust="spacingAndGlyphs" transform="translate(399.6,113.5) rotate(90)">Pop0</text>
<rect x="406.06" y="104.1" width="7.76" height="6.7" fill="#4a90d0" />
<rect x="406.06" y="111.6" width="7.76" height="16.3" fill="#ffffff" stroke="#c8c8c8" stroke-width="0.5"/>
<text x="0" y="0" font-size="6.0" fill="#2a2a2a" style="stroke-width:0.14px" textLength="13.3" lengthAdjust="spacingAndGlyphs" transform="translate(407.96,113.5) rotate(90)">Pop1</text>
<rect x="414.42" y="104.1" width="7.76" height="6.7" fill="#dde4ea" />
<rect x="414.42" y="111.6" width="7.76" height="16.3" fill="#ffffff" stroke="#c8c8c8" stroke-width="0.5"/>
<text x="0" y="0" font-size="6.0" fill="#2a2a2a" style="stroke-width:0.14px" textLength="13.3" lengthAdjust="spacingAndGlyphs" transform="translate(416.32,113.5) rotate(90)">Pop2</text>
<rect x="422.78" y="104.1" width="7.76" height="6.7" fill="#555555" />
<rect x="422.78" y="111.6" width="7.76" height="16.3" fill="#ffffff" stroke="#c8c8c8" stroke-width="0.5"/>
<text x="0" y="0" font-size="6.0" fill="#2a2a2a" style="stroke-width:0.14px" textLength="13.3" lengthAdjust="spacingAndGlyphs" transform="translate(424.68,113.5) rotate(90)">Pop3</text>
<rect x="431.14" y="104.1" width="7.76" height="6.7" fill="#f5b21a" />
<rect x="431.14" y="111.6" width="7.76" height="16.3" fill="#ffffff" stroke="#c8c8c8" stroke-width="0.5"/>
<text x="0" y="0" font-size="6.0" fill="#2a2a2a" style="stroke-width:0.14px" textLength="13.3" lengthAdjust="spacingAndGlyphs" transform="translate(433.04,113.5) rotate(90)">Pop4</text>
<rect x="439.5" y="104.1" width="7.76" height="6.7" fill="#f08030" />
<rect x="439.5" y="111.6" width="7.76" height="16.3" fill="#ffffff" stroke="#c8c8c8" stroke-width="0.5"/>
<text x="0" y="0" font-size="6.0" fill="#2a2a2a" style="stroke-width:0.14px" textLength="13.3" lengthAdjust="spacingAndGlyphs" transform="translate(441.4,113.5) rotate(90)">Pop5</text>
<rect x="447.86" y="104.1" width="7.76" height="6.7" fill="#c04a10" />
<rect x="447.86" y="111.6" width="7.76" height="16.3" fill="#ffffff" stroke="#c8c8c8" stroke-width="0.5"/>
<text x="0" y="0" font-size="6.0" fill="#2a2a2a" style="stroke-width:0.14px" textLength="13.3" lengthAdjust="spacingAndGlyphs" transform="translate(449.76,113.5) rotate(90)">Pop6</text>
<rect x="456.22" y="104.1" width="7.76" height="6.7" fill="#a8d47a" />
<rect x="456.22" y="111.6" width="7.76" height="16.3" fill="#ffffff" stroke="#c8c8c8" stroke-width="0.5"/>
<text x="0" y="0" font-size="6.0" fill="#2a2a2a" style="stroke-width:0.14px" textLength="13.3" lengthAdjust="spacingAndGlyphs" transform="translate(458.12,113.5) rotate(90)">Pop7</text>
<rect x="464.58" y="104.1" width="7.76" height="6.7" fill="#5cb84a" />
<rect x="464.58" y="111.6" width="7.76" height="16.3" fill="#ffffff" stroke="#c8c8c8" stroke-width="0.5"/>
<text x="0" y="0" font-size="6.0" fill="#2a2a2a" style="stroke-width:0.14px" textLength="13.3" lengthAdjust="spacingAndGlyphs" transform="translate(466.48,113.5) rotate(90)">Pop8</text>
<rect x="472.94" y="104.1" width="7.76" height="6.7" fill="#9aa030" />
<rect x="472.94" y="111.6" width="7.76" height="16.3" fill="#ffffff" stroke="#c8c8c8" stroke-width="0.5"/>
<text x="0" y="0" font-size="6.0" fill="#2a2a2a" style="stroke-width:0.14px" textLength="13.3" lengthAdjust="spacingAndGlyphs" transform="translate(474.84,113.5) rotate(90)">Pop9</text>
<rect x="397.65" y="128.45" width="7.86" height="7.5" fill="#fcd98a" />
<rect x="406.01" y="128.45" width="7.86" height="7.5" fill="#fde5b5" />
<rect x="414.37" y="128.45" width="7.86" height="7.5" fill="#fbb700" />
<rect x="422.73" y="128.45" width="7.86" height="7.5" fill="#fde5d5" />
<rect x="431.09" y="128.45" width="7.86" height="7.5" fill="#fcd98a" />
<rect x="439.45" y="128.45" width="7.86" height="7.5" fill="#fde5b5" />
<rect x="447.81" y="128.45" width="7.86" height="7.5" fill="#fbc020" />
<rect x="456.17" y="128.45" width="7.86" height="7.5" fill="#fde8d0" />
<rect x="464.53" y="128.45" width="7.86" height="7.5" fill="#e8ecf4" />
<rect x="472.89" y="128.45" width="7.86" height="7.5" fill="#fbc030" />
<text x="483.6" y="134.6" font-size="6.2" text-anchor="start" fill="#333" font-weight="normal" class="ns">CD34</text>
<rect x="397.65" y="136.45" width="7.86" height="7.5" fill="#fcd68a" />
<rect x="406.01" y="136.45" width="7.86" height="7.5" fill="#fde8c0" />
<rect x="414.37" y="136.45" width="7.86" height="7.5" fill="#fbc040" />
<rect x="422.73" y="136.45" width="7.86" height="7.5" fill="#fbb500" />
<rect x="431.09" y="136.45" width="7.86" height="7.5" fill="#fde8c0" />
<rect x="439.45" y="136.45" width="7.86" height="7.5" fill="#fff8f0" />
<rect x="447.81" y="136.45" width="7.86" height="7.5" fill="#fbc848" />
<rect x="456.17" y="136.45" width="7.86" height="7.5" fill="#fbbc20" />
<rect x="464.53" y="136.45" width="7.86" height="7.5" fill="#8a9096" />
<rect x="472.89" y="136.45" width="7.86" height="7.5" fill="#2a2e34" />
<text x="483.6" y="142.6" font-size="6.2" text-anchor="start" fill="#333" font-weight="normal" class="ns">CD38</text>
<rect x="397.65" y="144.45" width="7.86" height="7.5" fill="#fff8f0" />
<rect x="406.01" y="144.45" width="7.86" height="7.5" fill="#fdf0e0" />
<rect x="414.37" y="144.45" width="7.86" height="7.5" fill="#fde8c8" />
<rect x="422.73" y="144.45" width="7.86" height="7.5" fill="#fde8c8" />
<rect x="431.09" y="144.45" width="7.86" height="7.5" fill="#9a9aa0" />
<rect x="439.45" y="144.45" width="7.86" height="7.5" fill="#fbc030" />
<rect x="447.81" y="144.45" width="7.86" height="7.5" fill="#fff4e8" />
<rect x="456.17" y="144.45" width="7.86" height="7.5" fill="#fff4e8" />
<rect x="464.53" y="144.45" width="7.86" height="7.5" fill="#303438" />
<rect x="472.89" y="144.45" width="7.86" height="7.5" fill="#c0c0c4" />
<text x="483.6" y="150.6" font-size="6.2" text-anchor="start" fill="#333" font-weight="normal" class="ns">CD117</text>
<rect x="397.65" y="152.45" width="7.86" height="7.5" fill="#e0e0e4" />
<rect x="406.01" y="152.45" width="7.86" height="7.5" fill="#fff8f0" />
<rect x="414.37" y="152.45" width="7.86" height="7.5" fill="#fde8c8" />
<rect x="422.73" y="152.45" width="7.86" height="7.5" fill="#fde8c8" />
<rect x="431.09" y="152.45" width="7.86" height="7.5" fill="#5a5e64" />
<rect x="439.45" y="152.45" width="7.86" height="7.5" fill="#70747a" />
<rect x="447.81" y="152.45" width="7.86" height="7.5" fill="#fff4e8" />
<rect x="456.17" y="152.45" width="7.86" height="7.5" fill="#fff4e8" />
<rect x="464.53" y="152.45" width="7.86" height="7.5" fill="#101010" />
<rect x="472.89" y="152.45" width="7.86" height="7.5" fill="#606468" />
<text x="483.6" y="158.6" font-size="6.2" text-anchor="start" fill="#333" font-weight="normal" class="ns">CD135</text>
<rect x="397.65" y="160.45" width="7.86" height="7.5" fill="#fde0a8" />
<rect x="406.01" y="160.45" width="7.86" height="7.5" fill="#fde8c0" />
<rect x="414.37" y="160.45" width="7.86" height="7.5" fill="#fde8c0" />
<rect x="422.73" y="160.45" width="7.86" height="7.5" fill="#fde8c0" />
<rect x="431.09" y="160.45" width="7.86" height="7.5" fill="#ffffff" />
<rect x="439.45" y="160.45" width="7.86" height="7.5" fill="#fff8f0" />
<rect x="447.81" y="160.45" width="7.86" height="7.5" fill="#fde8d8" />
<rect x="456.17" y="160.45" width="7.86" height="7.5" fill="#fde8c0" />
<rect x="464.53" y="160.45" width="7.86" height="7.5" fill="#5a5e62" />
<rect x="472.89" y="160.45" width="7.86" height="7.5" fill="#9a9ea2" />
<text x="483.6" y="166.6" font-size="6.2" text-anchor="start" fill="#333" font-weight="normal" class="ns">CD123</text>
<rect x="397.65" y="168.45" width="7.86" height="7.5" fill="#3a3e3a" />
<rect x="406.01" y="168.45" width="7.86" height="7.5" fill="#c8d0c8" />
<rect x="414.37" y="168.45" width="7.86" height="7.5" fill="#ffffff" />
<rect x="422.73" y="168.45" width="7.86" height="7.5" fill="#a0a4a8" />
<rect x="431.09" y="168.45" width="7.86" height="7.5" fill="#101418" />
<rect x="439.45" y="168.45" width="7.86" height="7.5" fill="#70747a" />
<rect x="447.81" y="168.45" width="7.86" height="7.5" fill="#c8ccd0" />
<rect x="456.17" y="168.45" width="7.86" height="7.5" fill="#fff4e8" />
<rect x="464.53" y="168.45" width="7.86" height="7.5" fill="#101214" />
<rect x="472.89" y="168.45" width="7.86" height="7.5" fill="#101214" />
<text x="483.6" y="174.6" font-size="6.2" text-anchor="start" fill="#333" font-weight="normal" class="ns">CD33</text>
<rect x="397.65" y="176.45" width="7.86" height="7.5" fill="#707070" />
<rect x="406.01" y="176.45" width="7.86" height="7.5" fill="#fff8f0" />
<rect x="414.37" y="176.45" width="7.86" height="7.5" fill="#fde8c8" />
<rect x="422.73" y="176.45" width="7.86" height="7.5" fill="#ffffff" />
<rect x="431.09" y="176.45" width="7.86" height="7.5" fill="#505050" />
<rect x="439.45" y="176.45" width="7.86" height="7.5" fill="#505458" />
<rect x="447.81" y="176.45" width="7.86" height="7.5" fill="#fff0e0" />
<rect x="456.17" y="176.45" width="7.86" height="7.5" fill="#fbd070" />
<rect x="464.53" y="176.45" width="7.86" height="7.5" fill="#101214" />
<rect x="472.89" y="176.45" width="7.86" height="7.5" fill="#404448" />
<text x="483.6" y="182.6" font-size="6.2" text-anchor="start" fill="#333" font-weight="normal" class="ns">CLL-1</text>
<rect x="397.65" y="184.45" width="7.86" height="7.5" fill="#fff8f0" />
<rect x="406.01" y="184.45" width="7.86" height="7.5" fill="#fff4e8" />
<rect x="414.37" y="184.45" width="7.86" height="7.5" fill="#fde8c8" />
<rect x="422.73" y="184.45" width="7.86" height="7.5" fill="#fde0b0" />
<rect x="431.09" y="184.45" width="7.86" height="7.5" fill="#606468" />
<rect x="439.45" y="184.45" width="7.86" height="7.5" fill="#909498" />
<rect x="447.81" y="184.45" width="7.86" height="7.5" fill="#fff8f0" />
<rect x="456.17" y="184.45" width="7.86" height="7.5" fill="#fff4e8" />
<rect x="464.53" y="184.45" width="7.86" height="7.5" fill="#181a1c" />
<rect x="472.89" y="184.45" width="7.86" height="7.5" fill="#282a2c" />
<text x="483.6" y="190.6" font-size="6.2" text-anchor="start" fill="#333" font-weight="normal" class="ns">TIM-3</text>
<rect x="397.65" y="192.45" width="7.86" height="7.5" fill="#fde0a8" />
<rect x="406.01" y="192.45" width="7.86" height="7.5" fill="#fde0a8" />
<rect x="414.37" y="192.45" width="7.86" height="7.5" fill="#fde0a8" />
<rect x="422.73" y="192.45" width="7.86" height="7.5" fill="#fcd890" />
<rect x="431.09" y="192.45" width="7.86" height="7.5" fill="#fff8f0" />
<rect x="439.45" y="192.45" width="7.86" height="7.5" fill="#fff8f0" />
<rect x="447.81" y="192.45" width="7.86" height="7.5" fill="#fde8c8" />
<rect x="456.17" y="192.45" width="7.86" height="7.5" fill="#fde0b0" />
<rect x="464.53" y="192.45" width="7.86" height="7.5" fill="#a8acb0" />
<rect x="472.89" y="192.45" width="7.86" height="7.5" fill="#787c80" />
<text x="483.6" y="198.6" font-size="6.2" text-anchor="start" fill="#333" font-weight="normal" class="ns">PD-L1</text>
<rect x="397.65" y="200.45" width="7.86" height="7.5" fill="#303438" />
<rect x="406.01" y="200.45" width="7.86" height="7.5" fill="#808890" />
<rect x="414.37" y="200.45" width="7.86" height="7.5" fill="#9098a0" />
<rect x="422.73" y="200.45" width="7.86" height="7.5" fill="#a0a4b8" />
<rect x="431.09" y="200.45" width="7.86" height="7.5" fill="#101214" />
<rect x="439.45" y="200.45" width="7.86" height="7.5" fill="#101214" />
<rect x="447.81" y="200.45" width="7.86" height="7.5" fill="#404448" />
<rect x="456.17" y="200.45" width="7.86" height="7.5" fill="#505458" />
<rect x="464.53" y="200.45" width="7.86" height="7.5" fill="#0a0a0a" />
<rect x="472.89" y="200.45" width="7.86" height="7.5" fill="#0a0a0a" />
<text x="483.6" y="206.6" font-size="6.2" text-anchor="start" fill="#333" font-weight="normal" class="ns">CD11b</text>
<rect x="397.65" y="208.45" width="7.86" height="7.5" fill="#ffffff" />
<rect x="406.01" y="208.45" width="7.86" height="7.5" fill="#fcd898" />
<rect x="414.37" y="208.45" width="7.86" height="7.5" fill="#fff0e0" />
<rect x="422.73" y="208.45" width="7.86" height="7.5" fill="#fde8c8" />
<rect x="431.09" y="208.45" width="7.86" height="7.5" fill="#505458" />
<rect x="439.45" y="208.45" width="7.86" height="7.5" fill="#606468" />
<rect x="447.81" y="208.45" width="7.86" height="7.5" fill="#d0d0d0" />
<rect x="456.17" y="208.45" width="7.86" height="7.5" fill="#ffffff" />
<rect x="464.53" y="208.45" width="7.86" height="7.5" fill="#0a0a0a" />
<rect x="472.89" y="208.45" width="7.86" height="7.5" fill="#0a0a0a" />
<text x="483.6" y="214.6" font-size="6.2" text-anchor="start" fill="#333" font-weight="normal" class="ns">CD14</text>
<rect x="397.65" y="216.45" width="7.86" height="7.5" fill="#0a0a0a" />
<rect x="406.01" y="216.45" width="7.86" height="7.5" fill="#0a0a0a" />
<rect x="414.37" y="216.45" width="7.86" height="7.5" fill="#0a0a0a" />
<rect x="422.73" y="216.45" width="7.86" height="7.5" fill="#0a0a0a" />
<rect x="431.09" y="216.45" width="7.86" height="7.5" fill="#0a0a0a" />
<rect x="439.45" y="216.45" width="7.86" height="7.5" fill="#0a0a0a" />
<rect x="447.81" y="216.45" width="7.86" height="7.5" fill="#0a0a0a" />
<rect x="456.17" y="216.45" width="7.86" height="7.5" fill="#0a0a0a" />
<rect x="464.53" y="216.45" width="7.86" height="7.5" fill="#0a0a0a" />
<rect x="472.89" y="216.45" width="7.86" height="7.5" fill="#0a0a0a" />
<text x="483.6" y="222.6" font-size="6.2" text-anchor="start" fill="#333" font-weight="normal" class="ns">CD16</text>
<rect x="397.65" y="224.45" width="7.86" height="7.5" fill="#fff0d8" />
<rect x="406.01" y="224.45" width="7.86" height="7.5" fill="#fde8c0" />
<rect x="414.37" y="224.45" width="7.86" height="7.5" fill="#fff8f0" />
<rect x="422.73" y="224.45" width="7.86" height="7.5" fill="#fff0e0" />
<rect x="431.09" y="224.45" width="7.86" height="7.5" fill="#e0e0e0" />
<rect x="439.45" y="224.45" width="7.86" height="7.5" fill="#fff8f0" />
<rect x="447.81" y="224.45" width="7.86" height="7.5" fill="#fff4e8" />
<rect x="456.17" y="224.45" width="7.86" height="7.5" fill="#fff0d8" />
<rect x="464.53" y="224.45" width="7.86" height="7.5" fill="#909090" />
<rect x="472.89" y="224.45" width="7.86" height="7.5" fill="#b0b0b0" />
<text x="483.6" y="230.6" font-size="6.2" text-anchor="start" fill="#333" font-weight="normal" class="ns">CD45</text>
<rect x="397.65" y="232.45" width="7.86" height="7.5" fill="#a0a0a0" />
<rect x="406.01" y="232.45" width="7.86" height="7.5" fill="#505050" />
<rect x="414.37" y="232.45" width="7.86" height="7.5" fill="#fff8f0" />
<rect x="422.73" y="232.45" width="7.86" height="7.5" fill="#fde8c8" />
<rect x="431.09" y="232.45" width="7.86" height="7.5" fill="#505050" />
<rect x="439.45" y="232.45" width="7.86" height="7.5" fill="#505050" />
<rect x="447.81" y="232.45" width="7.86" height="7.5" fill="#d0d0d8" />
<rect x="456.17" y="232.45" width="7.86" height="7.5" fill="#fff8f0" />
<rect x="464.53" y="232.45" width="7.86" height="7.5" fill="#0a0a0a" />
<rect x="472.89" y="232.45" width="7.86" height="7.5" fill="#1a1a1a" />
<text x="483.6" y="238.6" font-size="6.2" text-anchor="start" fill="#333" font-weight="normal" class="ns">Ki67</text>
<line x1="414.12" y1="101.4" x2="414.12" y2="240.8" stroke="#3a3a3a" stroke-width="0.8"/>
<rect x="405.76" y="101.4" width="16.72" height="139.6" fill="none" stroke="#2a2a2a" stroke-width="1.1" rx="0.8"/>
<line x1="439.2" y1="101.4" x2="439.2" y2="240.8" stroke="#3a3a3a" stroke-width="0.8"/>
<line x1="447.56" y1="101.4" x2="447.56" y2="240.8" stroke="#3a3a3a" stroke-width="0.8"/>
<line x1="455.92" y1="101.4" x2="455.92" y2="240.8" stroke="#3a3a3a" stroke-width="0.8"/>
<rect x="430.84" y="101.4" width="33.44" height="139.6" fill="none" stroke="#2a2a2a" stroke-width="1.1" rx="0.8"/>
<rect x="472.64" y="101.4" width="8.36" height="139.6" fill="none" stroke="#2a2a2a" stroke-width="1.1" rx="0.8"/>
<rect x="395.3" y="128.2" width="117.8" height="8" fill="none" stroke="#222" stroke-width="1.1"/>
<rect x="395.3" y="144.2" width="117.8" height="8" fill="none" stroke="#ea9050" stroke-width="0.95"/>
<rect x="395.3" y="152.2" width="117.8" height="8" fill="none" stroke="#ea9050" stroke-width="0.95"/>
<rect x="395.3" y="176.2" width="117.8" height="8" fill="none" stroke="#ea9050" stroke-width="0.95"/>
<rect x="395.3" y="184.2" width="117.8" height="8" fill="none" stroke="#ea9050" stroke-width="0.95"/>
<rect x="395.3" y="192.2" width="117.8" height="8" fill="none" stroke="#ea9050" stroke-width="0.95"/>
<text x="422.4" y="250.9" font-size="6.2" text-anchor="start" fill="#333" font-weight="normal" >Low</text>
<text x="460.4" y="250.9" font-size="6.2" text-anchor="end" fill="#333" font-weight="normal" >High</text>
<rect x="428" y="254.5" width="26.2" height="4.8" fill="url(#lowhigh)" />
<line x1="481.1" y1="391.3" x2="508.6" y2="391.3" stroke="#d0d0d0" stroke-width="0.6"/>
<line x1="481.1" y1="398.6" x2="508.6" y2="398.6" stroke="#d0d0d0" stroke-width="0.6"/>
<line x1="481.1" y1="415.4" x2="508.6" y2="415.4" stroke="#d4d4d4" stroke-width="0.6"/>
<line x1="481.1" y1="423.38" x2="508.6" y2="423.38" stroke="#d4d4d4" stroke-width="0.6"/>
<line x1="481.1" y1="431.36" x2="508.6" y2="431.36" stroke="#d4d4d4" stroke-width="0.6"/>
<line x1="481.1" y1="439.34" x2="508.6" y2="439.34" stroke="#d4d4d4" stroke-width="0.6"/>
<line x1="481.1" y1="447.32" x2="508.6" y2="447.32" stroke="#d4d4d4" stroke-width="0.6"/>
<line x1="481.1" y1="455.3" x2="508.6" y2="455.3" stroke="#d4d4d4" stroke-width="0.6"/>
<line x1="481.1" y1="463.28" x2="508.6" y2="463.28" stroke="#d4d4d4" stroke-width="0.6"/>
<line x1="481.1" y1="471.26" x2="508.6" y2="471.26" stroke="#d4d4d4" stroke-width="0.6"/>
<line x1="481.1" y1="479.24" x2="508.6" y2="479.24" stroke="#d4d4d4" stroke-width="0.6"/>
<line x1="481.1" y1="487.22" x2="508.6" y2="487.22" stroke="#d4d4d4" stroke-width="0.6"/>
<line x1="481.1" y1="495.2" x2="508.6" y2="495.2" stroke="#d4d4d4" stroke-width="0.6"/>
<line x1="481.1" y1="503.18" x2="508.6" y2="503.18" stroke="#d4d4d4" stroke-width="0.6"/>
<line x1="481.1" y1="511.16" x2="508.6" y2="511.16" stroke="#d4d4d4" stroke-width="0.6"/>
<line x1="481.1" y1="519.14" x2="508.6" y2="519.14" stroke="#d4d4d4" stroke-width="0.6"/>
<line x1="481.1" y1="527.12" x2="508.6" y2="527.12" stroke="#d4d4d4" stroke-width="0.6"/>
<line x1="481.1" y1="535.1" x2="508.6" y2="535.1" stroke="#d4d4d4" stroke-width="0.6"/>
<line x1="481.1" y1="543.08" x2="508.6" y2="543.08" stroke="#d4d4d4" stroke-width="0.6"/>
<line x1="508.6" y1="391.3" x2="508.6" y2="543.08" stroke="#d0d0d0" stroke-width="0.6"/>
<rect x="397.8" y="391.3" width="7.76" height="6.8" fill="#b8d8ee" />
<rect x="397.8" y="398.9" width="7.76" height="16.2" fill="#ffffff" stroke="#c8c8c8" stroke-width="0.5"/>
<text x="0" y="0" font-size="6.0" fill="#2a2a2a" style="stroke-width:0.14px" textLength="13.2" lengthAdjust="spacingAndGlyphs" transform="translate(399.7,400.8) rotate(90)">Pop0</text>
<rect x="406.16" y="391.3" width="7.76" height="6.8" fill="#4a90d0" />
<rect x="406.16" y="398.9" width="7.76" height="16.2" fill="#ffffff" stroke="#c8c8c8" stroke-width="0.5"/>
<text x="0" y="0" font-size="6.0" fill="#2a2a2a" style="stroke-width:0.14px" textLength="13.2" lengthAdjust="spacingAndGlyphs" transform="translate(408.06,400.8) rotate(90)">Pop1</text>
<rect x="414.52" y="391.3" width="7.76" height="6.8" fill="#dde4ea" />
<rect x="414.52" y="398.9" width="7.76" height="16.2" fill="#ffffff" stroke="#c8c8c8" stroke-width="0.5"/>
<text x="0" y="0" font-size="6.0" fill="#2a2a2a" style="stroke-width:0.14px" textLength="13.2" lengthAdjust="spacingAndGlyphs" transform="translate(416.42,400.8) rotate(90)">Pop2</text>
<rect x="422.88" y="391.3" width="7.76" height="6.8" fill="#555555" />
<rect x="422.88" y="398.9" width="7.76" height="16.2" fill="#ffffff" stroke="#c8c8c8" stroke-width="0.5"/>
<text x="0" y="0" font-size="6.0" fill="#2a2a2a" style="stroke-width:0.14px" textLength="13.2" lengthAdjust="spacingAndGlyphs" transform="translate(424.78,400.8) rotate(90)">Pop3</text>
<rect x="431.24" y="391.3" width="7.76" height="6.8" fill="#f5b21a" />
<rect x="431.24" y="398.9" width="7.76" height="16.2" fill="#ffffff" stroke="#c8c8c8" stroke-width="0.5"/>
<text x="0" y="0" font-size="6.0" fill="#2a2a2a" style="stroke-width:0.14px" textLength="13.2" lengthAdjust="spacingAndGlyphs" transform="translate(433.14,400.8) rotate(90)">Pop4</text>
<rect x="439.6" y="391.3" width="7.76" height="6.8" fill="#f08030" />
<rect x="439.6" y="398.9" width="7.76" height="16.2" fill="#ffffff" stroke="#c8c8c8" stroke-width="0.5"/>
<text x="0" y="0" font-size="6.0" fill="#2a2a2a" style="stroke-width:0.14px" textLength="13.2" lengthAdjust="spacingAndGlyphs" transform="translate(441.5,400.8) rotate(90)">Pop5</text>
<rect x="447.96" y="391.3" width="7.76" height="6.8" fill="#c04a10" />
<rect x="447.96" y="398.9" width="7.76" height="16.2" fill="#ffffff" stroke="#c8c8c8" stroke-width="0.5"/>
<text x="0" y="0" font-size="6.0" fill="#2a2a2a" style="stroke-width:0.14px" textLength="13.2" lengthAdjust="spacingAndGlyphs" transform="translate(449.86,400.8) rotate(90)">Pop6</text>
<rect x="456.32" y="391.3" width="7.76" height="6.8" fill="#a8d47a" />
<rect x="456.32" y="398.9" width="7.76" height="16.2" fill="#ffffff" stroke="#c8c8c8" stroke-width="0.5"/>
<text x="0" y="0" font-size="6.0" fill="#2a2a2a" style="stroke-width:0.14px" textLength="13.2" lengthAdjust="spacingAndGlyphs" transform="translate(458.22,400.8) rotate(90)">Pop7</text>
<rect x="464.68" y="391.3" width="7.76" height="6.8" fill="#5cb84a" />
<rect x="464.68" y="398.9" width="7.76" height="16.2" fill="#ffffff" stroke="#c8c8c8" stroke-width="0.5"/>
<text x="0" y="0" font-size="6.0" fill="#2a2a2a" style="stroke-width:0.14px" textLength="13.2" lengthAdjust="spacingAndGlyphs" transform="translate(466.58,400.8) rotate(90)">Pop8</text>
<rect x="473.04" y="391.3" width="7.76" height="6.8" fill="#9aa030" />
<rect x="473.04" y="398.9" width="7.76" height="16.2" fill="#ffffff" stroke="#c8c8c8" stroke-width="0.5"/>
<text x="0" y="0" font-size="6.0" fill="#2a2a2a" style="stroke-width:0.14px" textLength="13.2" lengthAdjust="spacingAndGlyphs" transform="translate(474.94,400.8) rotate(90)">Pop9</text>
<rect x="397.75" y="415.65" width="7.86" height="7.48" fill="#f8b818" />
<rect x="406.11" y="415.65" width="7.86" height="7.48" fill="#d8d8e0" />
<rect x="414.47" y="415.65" width="7.86" height="7.48" fill="#fbc850" />
<rect x="422.83" y="415.65" width="7.86" height="7.48" fill="#fbd070" />
<rect x="431.19" y="415.65" width="7.86" height="7.48" fill="#f8b010" />
<rect x="439.55" y="415.65" width="7.86" height="7.48" fill="#fcd080" />
<rect x="447.91" y="415.65" width="7.86" height="7.48" fill="#fcd890" />
<rect x="456.27" y="415.65" width="7.86" height="7.48" fill="#fbc850" />
<rect x="464.63" y="415.65" width="7.86" height="7.48" fill="#fcd890" />
<rect x="472.99" y="415.65" width="7.86" height="7.48" fill="#fff8f0" />
<text x="483.7" y="421.8" font-size="6.2" text-anchor="start" fill="#333" font-weight="normal" class="ns">CD3</text>
<rect x="397.75" y="423.63" width="7.86" height="7.48" fill="#f8b818" />
<rect x="406.11" y="423.63" width="7.86" height="7.48" fill="#707880" />
<rect x="414.47" y="423.63" width="7.86" height="7.48" fill="#303438" />
<rect x="422.83" y="423.63" width="7.86" height="7.48" fill="#fbc850" />
<rect x="431.19" y="423.63" width="7.86" height="7.48" fill="#f8b010" />
<rect x="439.55" y="423.63" width="7.86" height="7.48" fill="#fbc850" />
<rect x="447.91" y="423.63" width="7.86" height="7.48" fill="#fbc040" />
<rect x="456.27" y="423.63" width="7.86" height="7.48" fill="#505860" />
<rect x="464.63" y="423.63" width="7.86" height="7.48" fill="#181818" />
<rect x="472.99" y="423.63" width="7.86" height="7.48" fill="#fff8e8" />
<text x="483.7" y="429.78" font-size="6.2" text-anchor="start" fill="#333" font-weight="normal" class="ns">CD25</text>
<rect x="397.75" y="431.61" width="7.86" height="7.48" fill="#fff8f0" />
<rect x="406.11" y="431.61" width="7.86" height="7.48" fill="#d0d0d8" />
<rect x="414.47" y="431.61" width="7.86" height="7.48" fill="#ffffff" />
<rect x="422.83" y="431.61" width="7.86" height="7.48" fill="#d8d8e0" />
<rect x="431.19" y="431.61" width="7.86" height="7.48" fill="#f8b818" />
<rect x="439.55" y="431.61" width="7.86" height="7.48" fill="#fcd080" />
<rect x="447.91" y="431.61" width="7.86" height="7.48" fill="#fcd080" />
<rect x="456.27" y="431.61" width="7.86" height="7.48" fill="#fbc850" />
<rect x="464.63" y="431.61" width="7.86" height="7.48" fill="#909090" />
<rect x="472.99" y="431.61" width="7.86" height="7.48" fill="#fffaf5" />
<text x="483.7" y="437.76" font-size="6.2" text-anchor="start" fill="#333" font-weight="normal" class="ns">CD4</text>
<rect x="397.75" y="439.59" width="7.86" height="7.48" fill="#f8c030" />
<rect x="406.11" y="439.59" width="7.86" height="7.48" fill="#fff8f0" />
<rect x="414.47" y="439.59" width="7.86" height="7.48" fill="#f8c030" />
<rect x="422.83" y="439.59" width="7.86" height="7.48" fill="#fbc850" />
<rect x="431.19" y="439.59" width="7.86" height="7.48" fill="#fff8e8" />
<rect x="439.55" y="439.59" width="7.86" height="7.48" fill="#fff8f0" />
<rect x="447.91" y="439.59" width="7.86" height="7.48" fill="#f8f8ff" />
<rect x="456.27" y="439.59" width="7.86" height="7.48" fill="#d8dcec" />
<rect x="464.63" y="439.59" width="7.86" height="7.48" fill="#fff0e0" />
<rect x="472.99" y="439.59" width="7.86" height="7.48" fill="#b0b0b0" />
<text x="483.7" y="445.74" font-size="6.2" text-anchor="start" fill="#333" font-weight="normal" class="ns">CD8a</text>
<rect x="397.75" y="447.57" width="7.86" height="7.48" fill="#ffffff" />
<rect x="406.11" y="447.57" width="7.86" height="7.48" fill="#b0b8c0" />
<rect x="414.47" y="447.57" width="7.86" height="7.48" fill="#fffaf0" />
<rect x="422.83" y="447.57" width="7.86" height="7.48" fill="#f0f0f0" />
<rect x="431.19" y="447.57" width="7.86" height="7.48" fill="#ececec" />
<rect x="439.55" y="447.57" width="7.86" height="7.48" fill="#a0a4a8" />
<rect x="447.91" y="447.57" width="7.86" height="7.48" fill="#a0a4a8" />
<rect x="456.27" y="447.57" width="7.86" height="7.48" fill="#a0a4a8" />
<rect x="464.63" y="447.57" width="7.86" height="7.48" fill="#a0a4a8" />
<rect x="472.99" y="447.57" width="7.86" height="7.48" fill="#404448" />
<text x="483.7" y="453.72" font-size="6.2" text-anchor="start" fill="#333" font-weight="normal" class="ns">CD123</text>
<rect x="397.75" y="455.55" width="7.86" height="7.48" fill="#fcd890" />
<rect x="406.11" y="455.55" width="7.86" height="7.48" fill="#fff0e0" />
<rect x="414.47" y="455.55" width="7.86" height="7.48" fill="#fde8c0" />
<rect x="422.83" y="455.55" width="7.86" height="7.48" fill="#fde8c0" />
<rect x="431.19" y="455.55" width="7.86" height="7.48" fill="#fde8c8" />
<rect x="439.55" y="455.55" width="7.86" height="7.48" fill="#fff8f0" />
<rect x="447.91" y="455.55" width="7.86" height="7.48" fill="#fffaf5" />
<rect x="456.27" y="455.55" width="7.86" height="7.48" fill="#ffffff" />
<rect x="464.63" y="455.55" width="7.86" height="7.48" fill="#ffffff" />
<rect x="472.99" y="455.55" width="7.86" height="7.48" fill="#d0d0d0" />
<text x="483.7" y="461.7" font-size="6.2" text-anchor="start" fill="#333" font-weight="normal" class="ns">HLA-DR</text>
<rect x="397.75" y="463.53" width="7.86" height="7.48" fill="#fde8c8" />
<rect x="406.11" y="463.53" width="7.86" height="7.48" fill="#fff8f0" />
<rect x="414.47" y="463.53" width="7.86" height="7.48" fill="#fff8f0" />
<rect x="422.83" y="463.53" width="7.86" height="7.48" fill="#f4f4f8" />
<rect x="431.19" y="463.53" width="7.86" height="7.48" fill="#fff8f0" />
<rect x="439.55" y="463.53" width="7.86" height="7.48" fill="#a8a8a8" />
<rect x="447.91" y="463.53" width="7.86" height="7.48" fill="#b0b0b0" />
<rect x="456.27" y="463.53" width="7.86" height="7.48" fill="#b0b0b0" />
<rect x="464.63" y="463.53" width="7.86" height="7.48" fill="#909090" />
<rect x="472.99" y="463.53" width="7.86" height="7.48" fill="#303030" />
<text x="483.7" y="469.68" font-size="6.2" text-anchor="start" fill="#333" font-weight="normal" class="ns">TIM-3</text>
<rect x="397.75" y="471.51" width="7.86" height="7.48" fill="#fff8f0" />
<rect x="406.11" y="471.51" width="7.86" height="7.48" fill="#fcd070" />
<rect x="414.47" y="471.51" width="7.86" height="7.48" fill="#f0f0f0" />
<rect x="422.83" y="471.51" width="7.86" height="7.48" fill="#fff8f0" />
<rect x="431.19" y="471.51" width="7.86" height="7.48" fill="#fff8f0" />
<rect x="439.55" y="471.51" width="7.86" height="7.48" fill="#a0a0a0" />
<rect x="447.91" y="471.51" width="7.86" height="7.48" fill="#ffffff" />
<rect x="456.27" y="471.51" width="7.86" height="7.48" fill="#505050" />
<rect x="464.63" y="471.51" width="7.86" height="7.48" fill="#a0a0a0" />
<rect x="472.99" y="471.51" width="7.86" height="7.48" fill="#505050" />
<text x="483.7" y="477.66" font-size="6.2" text-anchor="start" fill="#333" font-weight="normal" class="ns">CD69</text>
<rect x="397.75" y="479.49" width="7.86" height="7.48" fill="#e0e0e0" />
<rect x="406.11" y="479.49" width="7.86" height="7.48" fill="#e8e8ec" />
<rect x="414.47" y="479.49" width="7.86" height="7.48" fill="#505050" />
<rect x="422.83" y="479.49" width="7.86" height="7.48" fill="#505050" />
<rect x="431.19" y="479.49" width="7.86" height="7.48" fill="#d0d0d0" />
<rect x="439.55" y="479.49" width="7.86" height="7.48" fill="#404040" />
<rect x="447.91" y="479.49" width="7.86" height="7.48" fill="#909090" />
<rect x="456.27" y="479.49" width="7.86" height="7.48" fill="#404040" />
<rect x="464.63" y="479.49" width="7.86" height="7.48" fill="#101010" />
<rect x="472.99" y="479.49" width="7.86" height="7.48" fill="#101010" />
<text x="483.7" y="485.64" font-size="6.2" text-anchor="start" fill="#333" font-weight="normal" class="ns">CD152</text>
<rect x="397.75" y="487.47" width="7.86" height="7.48" fill="#fffaf5" />
<rect x="406.11" y="487.47" width="7.86" height="7.48" fill="#303030" />
<rect x="414.47" y="487.47" width="7.86" height="7.48" fill="#a0a0a0" />
<rect x="422.83" y="487.47" width="7.86" height="7.48" fill="#a0a4a8" />
<rect x="431.19" y="487.47" width="7.86" height="7.48" fill="#f8f8f8" />
<rect x="439.55" y="487.47" width="7.86" height="7.48" fill="#303030" />
<rect x="447.91" y="487.47" width="7.86" height="7.48" fill="#505050" />
<rect x="456.27" y="487.47" width="7.86" height="7.48" fill="#383838" />
<rect x="464.63" y="487.47" width="7.86" height="7.48" fill="#202020" />
<rect x="472.99" y="487.47" width="7.86" height="7.48" fill="#101010" />
<text x="483.7" y="493.62" font-size="6.2" text-anchor="start" fill="#333" font-weight="normal" class="ns">PD-1</text>
<rect x="397.75" y="495.45" width="7.86" height="7.48" fill="#fcd890" />
<rect x="406.11" y="495.45" width="7.86" height="7.48" fill="#fff8f0" />
<rect x="414.47" y="495.45" width="7.86" height="7.48" fill="#fde8c8" />
<rect x="422.83" y="495.45" width="7.86" height="7.48" fill="#fde8c0" />
<rect x="431.19" y="495.45" width="7.86" height="7.48" fill="#fcd890" />
<rect x="439.55" y="495.45" width="7.86" height="7.48" fill="#fff4e0" />
<rect x="447.91" y="495.45" width="7.86" height="7.48" fill="#fff8f0" />
<rect x="456.27" y="495.45" width="7.86" height="7.48" fill="#fffaf8" />
<rect x="464.63" y="495.45" width="7.86" height="7.48" fill="#f8f8f8" />
<rect x="472.99" y="495.45" width="7.86" height="7.48" fill="#d8d8d8" />
<text x="483.7" y="501.6" font-size="6.2" text-anchor="start" fill="#333" font-weight="normal" class="ns">CD134</text>
<rect x="397.75" y="503.43" width="7.86" height="7.48" fill="#fcd890" />
<rect x="406.11" y="503.43" width="7.86" height="7.48" fill="#fff8f8" />
<rect x="414.47" y="503.43" width="7.86" height="7.48" fill="#fde8c8" />
<rect x="422.83" y="503.43" width="7.86" height="7.48" fill="#fde8c8" />
<rect x="431.19" y="503.43" width="7.86" height="7.48" fill="#fcd890" />
<rect x="439.55" y="503.43" width="7.86" height="7.48" fill="#fff0e0" />
<rect x="447.91" y="503.43" width="7.86" height="7.48" fill="#fff4e8" />
<rect x="456.27" y="503.43" width="7.86" height="7.48" fill="#e0e0e8" />
<rect x="464.63" y="503.43" width="7.86" height="7.48" fill="#c8c8c8" />
<rect x="472.99" y="503.43" width="7.86" height="7.48" fill="#d0d0d0" />
<text x="483.7" y="509.58" font-size="6.2" text-anchor="start" fill="#333" font-weight="normal" class="ns">CD223</text>
<rect x="397.75" y="511.41" width="7.86" height="7.48" fill="#fde8c0" />
<rect x="406.11" y="511.41" width="7.86" height="7.48" fill="#fff8f8" />
<rect x="414.47" y="511.41" width="7.86" height="7.48" fill="#fffaf0" />
<rect x="422.83" y="511.41" width="7.86" height="7.48" fill="#fff8f0" />
<rect x="431.19" y="511.41" width="7.86" height="7.48" fill="#fde8c8" />
<rect x="439.55" y="511.41" width="7.86" height="7.48" fill="#f0f0f8" />
<rect x="447.91" y="511.41" width="7.86" height="7.48" fill="#ffffff" />
<rect x="456.27" y="511.41" width="7.86" height="7.48" fill="#ffffff" />
<rect x="464.63" y="511.41" width="7.86" height="7.48" fill="#c8c8c8" />
<rect x="472.99" y="511.41" width="7.86" height="7.48" fill="#808080" />
<text x="483.7" y="517.56" font-size="6.2" text-anchor="start" fill="#333" font-weight="normal" class="ns">CCR7</text>
<rect x="397.75" y="519.39" width="7.86" height="7.48" fill="#202428" />
<rect x="406.11" y="519.39" width="7.86" height="7.48" fill="#303438" />
<rect x="414.47" y="519.39" width="7.86" height="7.48" fill="#202020" />
<rect x="422.83" y="519.39" width="7.86" height="7.48" fill="#202020" />
<rect x="431.19" y="519.39" width="7.86" height="7.48" fill="#202020" />
<rect x="439.55" y="519.39" width="7.86" height="7.48" fill="#282828" />
<rect x="447.91" y="519.39" width="7.86" height="7.48" fill="#303030" />
<rect x="456.27" y="519.39" width="7.86" height="7.48" fill="#282828" />
<rect x="464.63" y="519.39" width="7.86" height="7.48" fill="#282828" />
<rect x="472.99" y="519.39" width="7.86" height="7.48" fill="#202020" />
<text x="483.7" y="525.54" font-size="6.2" text-anchor="start" fill="#333" font-weight="normal" class="ns">CD45RA</text>
<rect x="397.75" y="527.37" width="7.86" height="7.48" fill="#f8c030" />
<rect x="406.11" y="527.37" width="7.86" height="7.48" fill="#f8b818" />
<rect x="414.47" y="527.37" width="7.86" height="7.48" fill="#fcd890" />
<rect x="422.83" y="527.37" width="7.86" height="7.48" fill="#fcd890" />
<rect x="431.19" y="527.37" width="7.86" height="7.48" fill="#f8c848" />
<rect x="439.55" y="527.37" width="7.86" height="7.48" fill="#fff8e8" />
<rect x="447.91" y="527.37" width="7.86" height="7.48" fill="#fff4e0" />
<rect x="456.27" y="527.37" width="7.86" height="7.48" fill="#d8d8e0" />
<rect x="464.63" y="527.37" width="7.86" height="7.48" fill="#b0b0b0" />
<rect x="472.99" y="527.37" width="7.86" height="7.48" fill="#808080" />
<text x="483.7" y="533.52" font-size="6.2" text-anchor="start" fill="#333" font-weight="normal" class="ns">CD38</text>
<rect x="397.75" y="535.35" width="7.86" height="7.48" fill="#fff8f0" />
<rect x="406.11" y="535.35" width="7.86" height="7.48" fill="#fffaf5" />
<rect x="414.47" y="535.35" width="7.86" height="7.48" fill="#a0a0a0" />
<rect x="422.83" y="535.35" width="7.86" height="7.48" fill="#a0a0a0" />
<rect x="431.19" y="535.35" width="7.86" height="7.48" fill="#fff8f0" />
<rect x="439.55" y="535.35" width="7.86" height="7.48" fill="#505860" />
<rect x="447.91" y="535.35" width="7.86" height="7.48" fill="#fcd070" />
<rect x="456.27" y="535.35" width="7.86" height="7.48" fill="#606068" />
<rect x="464.63" y="535.35" width="7.86" height="7.48" fill="#303030" />
<rect x="472.99" y="535.35" width="7.86" height="7.48" fill="#101010" />
<text x="483.7" y="541.5" font-size="6.2" text-anchor="start" fill="#333" font-weight="normal" class="ns">Ki67</text>
<rect x="397.5" y="388.3" width="8.36" height="155.58" fill="none" stroke="#2a2a2a" stroke-width="1.1" rx="0.8"/>
<line x1="430.94" y1="388.3" x2="430.94" y2="543.68" stroke="#3a3a3a" stroke-width="0.8"/>
<line x1="439.3" y1="388.3" x2="439.3" y2="543.68" stroke="#3a3a3a" stroke-width="0.8"/>
<rect x="422.58" y="388.3" width="25.08" height="155.58" fill="none" stroke="#2a2a2a" stroke-width="1.1" rx="0.8"/>
<rect x="472.74" y="388.3" width="8.36" height="155.58" fill="none" stroke="#2a2a2a" stroke-width="1.1" rx="0.8"/>
<rect x="395.3" y="415.4" width="117.8" height="7.98" fill="none" stroke="#222" stroke-width="1.1"/>
<rect x="395.3" y="431.36" width="117.8" height="7.98" fill="none" stroke="#222" stroke-width="1.1"/>
<rect x="395.3" y="439.34" width="117.8" height="7.98" fill="none" stroke="#222" stroke-width="1.1"/>
<text x="422.4" y="552.8" font-size="6.2" text-anchor="start" fill="#333" font-weight="normal" >Low</text>
<text x="460.4" y="552.8" font-size="6.2" text-anchor="end" fill="#333" font-weight="normal" >High</text>
<rect x="428" y="556.4" width="26.2" height="4.8" fill="url(#lowhigh)" />
</svg></body></html>
